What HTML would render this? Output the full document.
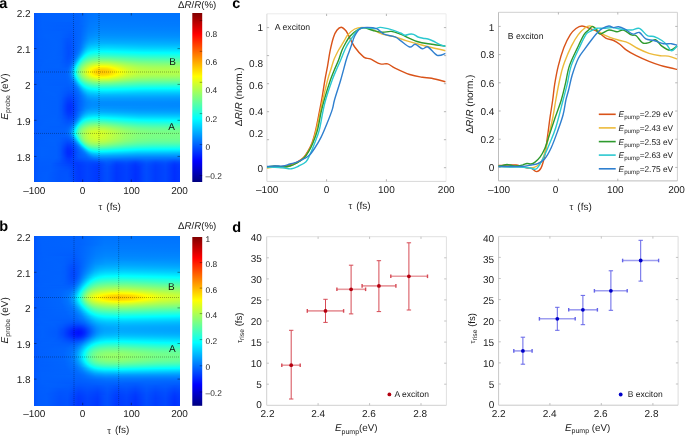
<!DOCTYPE html>
<html><head><meta charset="utf-8"><title>figure</title>
<style>
html,body{margin:0;padding:0;background:#fff;}
body{width:685px;height:436px;overflow:hidden;position:relative;font-family:"Liberation Sans",sans-serif;}
svg{position:absolute;left:0;top:0;display:block;will-change:transform;text-rendering:geometricPrecision;}
</style></head>
<body>
<svg width="685" height="436" viewBox="0 0 685 436">
<defs>
<linearGradient id="ha0"><stop offset=".003" stop-color="#0055ff"/><stop offset=".024" stop-color="#005dff"/><stop offset=".058" stop-color="#0061ff"/><stop offset=".305" stop-color="#0063ff"/><stop offset=".373" stop-color="#0071ff"/><stop offset=".414" stop-color="#0075ff"/><stop offset=".997" stop-color="#0074ff"/></linearGradient>
<linearGradient id="ha1"><stop offset=".003" stop-color="#0055ff"/><stop offset=".024" stop-color="#005dff"/><stop offset=".058" stop-color="#0061ff"/><stop offset=".305" stop-color="#0063ff"/><stop offset=".373" stop-color="#0072ff"/><stop offset=".414" stop-color="#0076ff"/><stop offset=".997" stop-color="#0074ff"/></linearGradient>
<linearGradient id="ha2"><stop offset=".003" stop-color="#0055ff"/><stop offset=".024" stop-color="#005dff"/><stop offset=".058" stop-color="#0061ff"/><stop offset=".305" stop-color="#0063ff"/><stop offset=".373" stop-color="#0072ff"/><stop offset=".414" stop-color="#0076ff"/><stop offset=".997" stop-color="#0075ff"/></linearGradient>
<linearGradient id="ha3"><stop offset=".003" stop-color="#0055ff"/><stop offset=".024" stop-color="#005dff"/><stop offset=".058" stop-color="#0061ff"/><stop offset=".305" stop-color="#0063ff"/><stop offset=".373" stop-color="#0073ff"/><stop offset=".414" stop-color="#0077ff"/><stop offset=".997" stop-color="#0075ff"/></linearGradient>
<linearGradient id="ha4"><stop offset=".003" stop-color="#0055ff"/><stop offset=".024" stop-color="#005dff"/><stop offset=".058" stop-color="#0061ff"/><stop offset=".305" stop-color="#0063ff"/><stop offset=".373" stop-color="#0073ff"/><stop offset=".414" stop-color="#0077ff"/><stop offset=".997" stop-color="#0076ff"/></linearGradient>
<linearGradient id="ha5"><stop offset=".003" stop-color="#0055ff"/><stop offset=".024" stop-color="#005dff"/><stop offset=".058" stop-color="#0061ff"/><stop offset=".305" stop-color="#0063ff"/><stop offset=".373" stop-color="#0074ff"/><stop offset=".414" stop-color="#0078ff"/><stop offset=".997" stop-color="#0077ff"/></linearGradient>
<linearGradient id="ha6"><stop offset=".003" stop-color="#0055ff"/><stop offset=".024" stop-color="#005dff"/><stop offset=".058" stop-color="#0061ff"/><stop offset=".305" stop-color="#0063ff"/><stop offset=".380" stop-color="#0076ff"/><stop offset=".421" stop-color="#0079ff"/><stop offset=".997" stop-color="#0077ff"/></linearGradient>
<linearGradient id="ha7"><stop offset=".003" stop-color="#0055ff"/><stop offset=".024" stop-color="#005dff"/><stop offset=".058" stop-color="#0061ff"/><stop offset=".305" stop-color="#0063ff"/><stop offset=".380" stop-color="#0077ff"/><stop offset=".421" stop-color="#007aff"/><stop offset=".997" stop-color="#0078ff"/></linearGradient>
<linearGradient id="ha8"><stop offset=".003" stop-color="#0055ff"/><stop offset=".024" stop-color="#005dff"/><stop offset=".058" stop-color="#0061ff"/><stop offset=".305" stop-color="#0063ff"/><stop offset=".380" stop-color="#0077ff"/><stop offset=".421" stop-color="#007bff"/><stop offset=".997" stop-color="#0079ff"/></linearGradient>
<linearGradient id="ha9"><stop offset=".003" stop-color="#0055ff"/><stop offset=".024" stop-color="#005dff"/><stop offset=".058" stop-color="#0061ff"/><stop offset=".243" stop-color="#005fff"/><stop offset=".305" stop-color="#0063ff"/><stop offset=".380" stop-color="#0078ff"/><stop offset=".421" stop-color="#007cff"/><stop offset=".997" stop-color="#007aff"/></linearGradient>
<linearGradient id="ha10"><stop offset=".003" stop-color="#0055ff"/><stop offset=".024" stop-color="#005dff"/><stop offset=".058" stop-color="#0061ff"/><stop offset=".243" stop-color="#005fff"/><stop offset=".305" stop-color="#0063ff"/><stop offset=".380" stop-color="#0079ff"/><stop offset=".421" stop-color="#007dff"/><stop offset=".997" stop-color="#007aff"/></linearGradient>
<linearGradient id="ha11"><stop offset=".003" stop-color="#0055ff"/><stop offset=".024" stop-color="#005dff"/><stop offset=".058" stop-color="#0061ff"/><stop offset=".243" stop-color="#005fff"/><stop offset=".305" stop-color="#0063ff"/><stop offset=".380" stop-color="#007aff"/><stop offset=".421" stop-color="#007eff"/><stop offset=".997" stop-color="#007bff"/></linearGradient>
<linearGradient id="ha12"><stop offset=".003" stop-color="#0055ff"/><stop offset=".024" stop-color="#005dff"/><stop offset=".058" stop-color="#0061ff"/><stop offset=".243" stop-color="#005eff"/><stop offset=".298" stop-color="#0063ff"/><stop offset=".325" stop-color="#0067ff"/><stop offset=".380" stop-color="#007bff"/><stop offset=".421" stop-color="#007fff"/><stop offset=".997" stop-color="#007cff"/></linearGradient>
<linearGradient id="ha13"><stop offset=".003" stop-color="#0055ff"/><stop offset=".024" stop-color="#005dff"/><stop offset=".058" stop-color="#0061ff"/><stop offset=".243" stop-color="#005eff"/><stop offset=".298" stop-color="#0063ff"/><stop offset=".325" stop-color="#0067ff"/><stop offset=".380" stop-color="#007cff"/><stop offset=".421" stop-color="#0080ff"/><stop offset=".997" stop-color="#007dff"/></linearGradient>
<linearGradient id="ha14"><stop offset=".003" stop-color="#0055ff"/><stop offset=".024" stop-color="#005dff"/><stop offset=".058" stop-color="#0061ff"/><stop offset=".264" stop-color="#005fff"/><stop offset=".318" stop-color="#0066ff"/><stop offset=".373" stop-color="#007bff"/><stop offset=".421" stop-color="#0081ff"/><stop offset=".997" stop-color="#007fff"/></linearGradient>
<linearGradient id="ha15"><stop offset=".003" stop-color="#0055ff"/><stop offset=".024" stop-color="#005dff"/><stop offset=".065" stop-color="#0061ff"/><stop offset=".257" stop-color="#005eff"/><stop offset=".318" stop-color="#0066ff"/><stop offset=".373" stop-color="#007cff"/><stop offset=".421" stop-color="#0083ff"/><stop offset=".997" stop-color="#0080ff"/></linearGradient>
<linearGradient id="ha16"><stop offset=".003" stop-color="#0055ff"/><stop offset=".024" stop-color="#005dff"/><stop offset=".065" stop-color="#0061ff"/><stop offset=".257" stop-color="#005dff"/><stop offset=".318" stop-color="#0066ff"/><stop offset=".373" stop-color="#007dff"/><stop offset=".421" stop-color="#0084ff"/><stop offset=".997" stop-color="#0081ff"/></linearGradient>
<linearGradient id="ha17"><stop offset=".003" stop-color="#0055ff"/><stop offset=".024" stop-color="#005dff"/><stop offset=".065" stop-color="#0061ff"/><stop offset=".257" stop-color="#005dff"/><stop offset=".318" stop-color="#0066ff"/><stop offset=".373" stop-color="#007fff"/><stop offset=".421" stop-color="#0086ff"/><stop offset=".997" stop-color="#0083ff"/></linearGradient>
<linearGradient id="ha18"><stop offset=".003" stop-color="#0055ff"/><stop offset=".031" stop-color="#005fff"/><stop offset=".072" stop-color="#0061ff"/><stop offset=".175" stop-color="#0061ff"/><stop offset=".250" stop-color="#005bff"/><stop offset=".318" stop-color="#0066ff"/><stop offset=".373" stop-color="#0080ff"/><stop offset=".421" stop-color="#0088ff"/><stop offset=".997" stop-color="#0085ff"/></linearGradient>
<linearGradient id="ha19"><stop offset=".003" stop-color="#0055ff"/><stop offset=".031" stop-color="#005fff"/><stop offset=".072" stop-color="#0061ff"/><stop offset=".175" stop-color="#0061ff"/><stop offset=".250" stop-color="#005bff"/><stop offset=".318" stop-color="#0067ff"/><stop offset=".373" stop-color="#0082ff"/><stop offset=".421" stop-color="#008aff"/><stop offset=".997" stop-color="#0087ff"/></linearGradient>
<linearGradient id="ha20"><stop offset=".003" stop-color="#0055ff"/><stop offset=".031" stop-color="#005fff"/><stop offset=".072" stop-color="#0061ff"/><stop offset=".175" stop-color="#0061ff"/><stop offset=".250" stop-color="#005aff"/><stop offset=".318" stop-color="#0067ff"/><stop offset=".373" stop-color="#0084ff"/><stop offset=".421" stop-color="#008cff"/><stop offset=".997" stop-color="#0089ff"/></linearGradient>
<linearGradient id="ha21"><stop offset=".003" stop-color="#0055ff"/><stop offset=".031" stop-color="#005fff"/><stop offset=".079" stop-color="#0062ff"/><stop offset=".175" stop-color="#0061ff"/><stop offset=".250" stop-color="#0059ff"/><stop offset=".318" stop-color="#0067ff"/><stop offset=".373" stop-color="#0086ff"/><stop offset=".421" stop-color="#008fff"/><stop offset=".997" stop-color="#008bff"/></linearGradient>
<linearGradient id="ha22"><stop offset=".003" stop-color="#0055ff"/><stop offset=".031" stop-color="#005fff"/><stop offset=".079" stop-color="#0062ff"/><stop offset=".175" stop-color="#0061ff"/><stop offset=".250" stop-color="#0058ff"/><stop offset=".318" stop-color="#0068ff"/><stop offset=".373" stop-color="#0088ff"/><stop offset=".421" stop-color="#0091ff"/><stop offset=".997" stop-color="#008dff"/></linearGradient>
<linearGradient id="ha23"><stop offset=".003" stop-color="#0055ff"/><stop offset=".031" stop-color="#005fff"/><stop offset=".086" stop-color="#0062ff"/><stop offset=".175" stop-color="#0061ff"/><stop offset=".250" stop-color="#0058ff"/><stop offset=".318" stop-color="#0068ff"/><stop offset=".373" stop-color="#008bff"/><stop offset=".421" stop-color="#0095ff"/><stop offset=".997" stop-color="#0090ff"/></linearGradient>
<linearGradient id="ha24"><stop offset=".003" stop-color="#0055ff"/><stop offset=".031" stop-color="#005fff"/><stop offset=".092" stop-color="#0062ff"/><stop offset=".175" stop-color="#0061ff"/><stop offset=".250" stop-color="#0057ff"/><stop offset=".318" stop-color="#0069ff"/><stop offset=".373" stop-color="#008eff"/><stop offset=".421" stop-color="#0098ff"/><stop offset=".997" stop-color="#0093ff"/></linearGradient>
<linearGradient id="ha25"><stop offset=".003" stop-color="#0055ff"/><stop offset=".038" stop-color="#005fff"/><stop offset=".106" stop-color="#0062ff"/><stop offset=".175" stop-color="#0061ff"/><stop offset=".229" stop-color="#0056ff"/><stop offset=".250" stop-color="#0056ff"/><stop offset=".318" stop-color="#0069ff"/><stop offset=".380" stop-color="#0094ff"/><stop offset=".421" stop-color="#009cff"/><stop offset=".997" stop-color="#0097ff"/></linearGradient>
<linearGradient id="ha26"><stop offset=".003" stop-color="#0055ff"/><stop offset=".038" stop-color="#005fff"/><stop offset=".127" stop-color="#0062ff"/><stop offset=".182" stop-color="#0060ff"/><stop offset=".229" stop-color="#0055ff"/><stop offset=".250" stop-color="#0055ff"/><stop offset=".318" stop-color="#006aff"/><stop offset=".380" stop-color="#0098ff"/><stop offset=".421" stop-color="#00a0ff"/><stop offset=".997" stop-color="#009bff"/></linearGradient>
<linearGradient id="ha27"><stop offset=".003" stop-color="#0055ff"/><stop offset=".045" stop-color="#0060ff"/><stop offset=".140" stop-color="#0062ff"/><stop offset=".182" stop-color="#0060ff"/><stop offset=".229" stop-color="#0055ff"/><stop offset=".250" stop-color="#0055ff"/><stop offset=".318" stop-color="#006bff"/><stop offset=".380" stop-color="#009cff"/><stop offset=".421" stop-color="#00a5ff"/><stop offset=".997" stop-color="#009fff"/></linearGradient>
<linearGradient id="ha28"><stop offset=".003" stop-color="#0055ff"/><stop offset=".045" stop-color="#0060ff"/><stop offset=".147" stop-color="#0062ff"/><stop offset=".182" stop-color="#0060ff"/><stop offset=".229" stop-color="#0054ff"/><stop offset=".250" stop-color="#0054ff"/><stop offset=".318" stop-color="#006cff"/><stop offset=".360" stop-color="#0092ff"/><stop offset=".380" stop-color="#00a0ff"/><stop offset=".421" stop-color="#00aaff"/><stop offset=".997" stop-color="#00a4ff"/></linearGradient>
<linearGradient id="ha29"><stop offset=".003" stop-color="#0055ff"/><stop offset=".045" stop-color="#0060ff"/><stop offset=".147" stop-color="#0062ff"/><stop offset=".182" stop-color="#0060ff"/><stop offset=".229" stop-color="#0053ff"/><stop offset=".250" stop-color="#0053ff"/><stop offset=".318" stop-color="#006dff"/><stop offset=".360" stop-color="#0096ff"/><stop offset=".380" stop-color="#00a5ff"/><stop offset=".421" stop-color="#00afff"/><stop offset=".997" stop-color="#00a9ff"/></linearGradient>
<linearGradient id="ha30"><stop offset=".003" stop-color="#0055ff"/><stop offset=".045" stop-color="#0060ff"/><stop offset=".154" stop-color="#0062ff"/><stop offset=".188" stop-color="#005fff"/><stop offset=".229" stop-color="#0052ff"/><stop offset=".250" stop-color="#0053ff"/><stop offset=".318" stop-color="#006eff"/><stop offset=".360" stop-color="#009bff"/><stop offset=".380" stop-color="#00abff"/><stop offset=".421" stop-color="#00b5ff"/><stop offset=".997" stop-color="#00aeff"/></linearGradient>
<linearGradient id="ha31"><stop offset=".003" stop-color="#0055ff"/><stop offset=".045" stop-color="#0060ff"/><stop offset=".154" stop-color="#0062ff"/><stop offset=".188" stop-color="#005fff"/><stop offset=".229" stop-color="#0052ff"/><stop offset=".250" stop-color="#0052ff"/><stop offset=".318" stop-color="#0070ff"/><stop offset=".360" stop-color="#00a1ff"/><stop offset=".380" stop-color="#00b1ff"/><stop offset=".421" stop-color="#00bcff"/><stop offset=".497" stop-color="#00beff"/><stop offset=".750" stop-color="#00b6ff"/><stop offset=".997" stop-color="#00b4ff"/></linearGradient>
<linearGradient id="ha32"><stop offset=".003" stop-color="#0055ff"/><stop offset=".045" stop-color="#0060ff"/><stop offset=".154" stop-color="#0062ff"/><stop offset=".188" stop-color="#005fff"/><stop offset=".229" stop-color="#0051ff"/><stop offset=".250" stop-color="#0051ff"/><stop offset=".298" stop-color="#0065ff"/><stop offset=".318" stop-color="#0072ff"/><stop offset=".360" stop-color="#00a7ff"/><stop offset=".373" stop-color="#00b4ff"/><stop offset=".394" stop-color="#00beff"/><stop offset=".421" stop-color="#00c3ff"/><stop offset=".497" stop-color="#00c6ff"/><stop offset=".750" stop-color="#00bdff"/><stop offset=".997" stop-color="#00bbff"/></linearGradient>
<linearGradient id="ha33"><stop offset=".003" stop-color="#0055ff"/><stop offset=".045" stop-color="#0060ff"/><stop offset=".154" stop-color="#0062ff"/><stop offset=".188" stop-color="#005fff"/><stop offset=".229" stop-color="#0051ff"/><stop offset=".250" stop-color="#0051ff"/><stop offset=".312" stop-color="#006eff"/><stop offset=".325" stop-color="#007cff"/><stop offset=".360" stop-color="#00adff"/><stop offset=".373" stop-color="#00bbff"/><stop offset=".394" stop-color="#00c6ff"/><stop offset=".421" stop-color="#00cbff"/><stop offset=".497" stop-color="#00ceff"/><stop offset=".750" stop-color="#00c4ff"/><stop offset=".997" stop-color="#00c2ff"/></linearGradient>
<linearGradient id="ha34"><stop offset=".003" stop-color="#0055ff"/><stop offset=".045" stop-color="#0060ff"/><stop offset=".154" stop-color="#0062ff"/><stop offset=".188" stop-color="#005fff"/><stop offset=".229" stop-color="#0050ff"/><stop offset=".250" stop-color="#0050ff"/><stop offset=".312" stop-color="#0070ff"/><stop offset=".325" stop-color="#007fff"/><stop offset=".360" stop-color="#00b5ff"/><stop offset=".373" stop-color="#00c3ff"/><stop offset=".394" stop-color="#00ceff"/><stop offset=".421" stop-color="#00d4ff"/><stop offset=".497" stop-color="#00d6ff"/><stop offset=".750" stop-color="#00ccff"/><stop offset=".997" stop-color="#00caff"/></linearGradient>
<linearGradient id="ha35"><stop offset=".003" stop-color="#0055ff"/><stop offset=".045" stop-color="#0060ff"/><stop offset=".154" stop-color="#0062ff"/><stop offset=".188" stop-color="#005fff"/><stop offset=".229" stop-color="#0050ff"/><stop offset=".250" stop-color="#0050ff"/><stop offset=".291" stop-color="#0064ff"/><stop offset=".312" stop-color="#0072ff"/><stop offset=".325" stop-color="#0084ff"/><stop offset=".353" stop-color="#00b3ff"/><stop offset=".373" stop-color="#00ccff"/><stop offset=".394" stop-color="#00d7ff"/><stop offset=".421" stop-color="#00ddff"/><stop offset=".497" stop-color="#00e0ff"/><stop offset=".750" stop-color="#00d4ff"/><stop offset=".997" stop-color="#00d2ff"/></linearGradient>
<linearGradient id="ha36"><stop offset=".003" stop-color="#0055ff"/><stop offset=".045" stop-color="#0060ff"/><stop offset=".154" stop-color="#0062ff"/><stop offset=".188" stop-color="#005fff"/><stop offset=".229" stop-color="#0050ff"/><stop offset=".250" stop-color="#0050ff"/><stop offset=".291" stop-color="#0065ff"/><stop offset=".312" stop-color="#0076ff"/><stop offset=".325" stop-color="#0089ff"/><stop offset=".353" stop-color="#00bcff"/><stop offset=".373" stop-color="#00d5ff"/><stop offset=".394" stop-color="#00e1ff"/><stop offset=".421" stop-color="#00e7ff"/><stop offset=".497" stop-color="#00eaff"/><stop offset=".750" stop-color="#00deff"/><stop offset=".997" stop-color="#00dbff"/></linearGradient>
<linearGradient id="ha37"><stop offset=".003" stop-color="#0055ff"/><stop offset=".045" stop-color="#0060ff"/><stop offset=".147" stop-color="#0062ff"/><stop offset=".188" stop-color="#005eff"/><stop offset=".236" stop-color="#004eff"/><stop offset=".257" stop-color="#0052ff"/><stop offset=".291" stop-color="#0066ff"/><stop offset=".312" stop-color="#0079ff"/><stop offset=".325" stop-color="#0090ff"/><stop offset=".353" stop-color="#00c6ff"/><stop offset=".366" stop-color="#00d9ff"/><stop offset=".387" stop-color="#00e8ff"/><stop offset=".421" stop-color="#00f2ff"/><stop offset=".497" stop-color="#00f4ff"/><stop offset=".750" stop-color="#00e7ff"/><stop offset=".997" stop-color="#00e5ff"/></linearGradient>
<linearGradient id="ha38"><stop offset=".003" stop-color="#0055ff"/><stop offset=".045" stop-color="#0060ff"/><stop offset=".147" stop-color="#0062ff"/><stop offset=".188" stop-color="#005eff"/><stop offset=".236" stop-color="#004eff"/><stop offset=".257" stop-color="#0052ff"/><stop offset=".284" stop-color="#0062ff"/><stop offset=".305" stop-color="#0075ff"/><stop offset=".318" stop-color="#008aff"/><stop offset=".353" stop-color="#00d1ff"/><stop offset=".366" stop-color="#00e3ff"/><stop offset=".387" stop-color="#00f3ff"/><stop offset=".421" stop-color="#00fdff"/><stop offset=".517" stop-color="#00ffff"/><stop offset=".750" stop-color="#00f1ff"/><stop offset=".997" stop-color="#00efff"/></linearGradient>
<linearGradient id="ha39"><stop offset=".003" stop-color="#0055ff"/><stop offset=".045" stop-color="#0060ff"/><stop offset=".147" stop-color="#0062ff"/><stop offset=".188" stop-color="#005eff"/><stop offset=".236" stop-color="#004eff"/><stop offset=".257" stop-color="#0052ff"/><stop offset=".284" stop-color="#0064ff"/><stop offset=".305" stop-color="#0079ff"/><stop offset=".318" stop-color="#0091ff"/><stop offset=".353" stop-color="#00ddff"/><stop offset=".366" stop-color="#00efff"/><stop offset=".387" stop-color="#00feff"/><stop offset=".421" stop-color="#0afff5"/><stop offset=".476" stop-color="#0dfff2"/><stop offset=".688" stop-color="#00ffff"/><stop offset=".997" stop-color="#00f9ff"/></linearGradient>
<linearGradient id="ha40"><stop offset=".003" stop-color="#0055ff"/><stop offset=".045" stop-color="#0060ff"/><stop offset=".147" stop-color="#0062ff"/><stop offset=".188" stop-color="#005eff"/><stop offset=".236" stop-color="#004eff"/><stop offset=".257" stop-color="#0053ff"/><stop offset=".277" stop-color="#0060ff"/><stop offset=".298" stop-color="#0074ff"/><stop offset=".312" stop-color="#008bff"/><stop offset=".346" stop-color="#00dcff"/><stop offset=".360" stop-color="#00f3ff"/><stop offset=".373" stop-color="#03fffc"/><stop offset=".414" stop-color="#15ffea"/><stop offset=".476" stop-color="#1affe5"/><stop offset=".750" stop-color="#08fff7"/><stop offset=".997" stop-color="#05fffa"/></linearGradient>
<linearGradient id="ha41"><stop offset=".003" stop-color="#0055ff"/><stop offset=".045" stop-color="#0060ff"/><stop offset=".147" stop-color="#0062ff"/><stop offset=".188" stop-color="#005eff"/><stop offset=".236" stop-color="#004eff"/><stop offset=".257" stop-color="#0053ff"/><stop offset=".277" stop-color="#0062ff"/><stop offset=".298" stop-color="#0079ff"/><stop offset=".312" stop-color="#0094ff"/><stop offset=".346" stop-color="#00eaff"/><stop offset=".360" stop-color="#01fffe"/><stop offset=".380" stop-color="#14ffeb"/><stop offset=".401" stop-color="#1effe1"/><stop offset=".462" stop-color="#27ffd8"/><stop offset=".750" stop-color="#14ffeb"/><stop offset=".997" stop-color="#11ffee"/></linearGradient>
<linearGradient id="ha42"><stop offset=".003" stop-color="#0055ff"/><stop offset=".045" stop-color="#0060ff"/><stop offset=".140" stop-color="#0062ff"/><stop offset=".188" stop-color="#005eff"/><stop offset=".236" stop-color="#004fff"/><stop offset=".257" stop-color="#0054ff"/><stop offset=".277" stop-color="#0064ff"/><stop offset=".298" stop-color="#0080ff"/><stop offset=".312" stop-color="#009eff"/><stop offset=".339" stop-color="#00e9ff"/><stop offset=".346" stop-color="#00f8ff"/><stop offset=".353" stop-color="#05fffa"/><stop offset=".373" stop-color="#1dffe2"/><stop offset=".394" stop-color="#29ffd6"/><stop offset=".421" stop-color="#31ffce"/><stop offset=".462" stop-color="#35ffca"/><stop offset=".750" stop-color="#20ffdf"/><stop offset=".997" stop-color="#1dffe2"/></linearGradient>
<linearGradient id="ha43"><stop offset=".003" stop-color="#0055ff"/><stop offset=".045" stop-color="#0060ff"/><stop offset=".154" stop-color="#0062ff"/><stop offset=".188" stop-color="#005fff"/><stop offset=".229" stop-color="#0050ff"/><stop offset=".250" stop-color="#0052ff"/><stop offset=".271" stop-color="#0060ff"/><stop offset=".291" stop-color="#007aff"/><stop offset=".305" stop-color="#0098ff"/><stop offset=".339" stop-color="#00f8ff"/><stop offset=".346" stop-color="#08fff7"/><stop offset=".366" stop-color="#24ffdb"/><stop offset=".387" stop-color="#33ffcc"/><stop offset=".414" stop-color="#3effc1"/><stop offset=".455" stop-color="#43ffbc"/><stop offset=".524" stop-color="#41ffbe"/><stop offset=".743" stop-color="#2dffd2"/><stop offset=".997" stop-color="#29ffd6"/></linearGradient>
<linearGradient id="ha44"><stop offset=".003" stop-color="#0055ff"/><stop offset=".045" stop-color="#0060ff"/><stop offset=".147" stop-color="#0062ff"/><stop offset=".188" stop-color="#005fff"/><stop offset=".229" stop-color="#0051ff"/><stop offset=".250" stop-color="#0053ff"/><stop offset=".271" stop-color="#0062ff"/><stop offset=".291" stop-color="#0081ff"/><stop offset=".305" stop-color="#00a4ff"/><stop offset=".332" stop-color="#00f7ff"/><stop offset=".339" stop-color="#09fff6"/><stop offset=".360" stop-color="#2bffd4"/><stop offset=".380" stop-color="#3effc1"/><stop offset=".414" stop-color="#4dffb2"/><stop offset=".455" stop-color="#53ffac"/><stop offset=".517" stop-color="#51ffae"/><stop offset=".743" stop-color="#39ffc6"/><stop offset=".997" stop-color="#35ffca"/></linearGradient>
<linearGradient id="ha45"><stop offset=".003" stop-color="#0055ff"/><stop offset=".045" stop-color="#0060ff"/><stop offset=".140" stop-color="#0062ff"/><stop offset=".188" stop-color="#005fff"/><stop offset=".229" stop-color="#0051ff"/><stop offset=".250" stop-color="#0054ff"/><stop offset=".271" stop-color="#0066ff"/><stop offset=".284" stop-color="#007bff"/><stop offset=".298" stop-color="#009cff"/><stop offset=".325" stop-color="#00f5ff"/><stop offset=".332" stop-color="#09fff6"/><stop offset=".353" stop-color="#31ffce"/><stop offset=".373" stop-color="#48ffb7"/><stop offset=".408" stop-color="#5affa5"/><stop offset=".449" stop-color="#62ff9d"/><stop offset=".517" stop-color="#61ff9e"/><stop offset=".743" stop-color="#46ffb9"/><stop offset=".997" stop-color="#41ffbe"/></linearGradient>
<linearGradient id="ha46"><stop offset=".003" stop-color="#0055ff"/><stop offset=".038" stop-color="#005fff"/><stop offset=".113" stop-color="#0062ff"/><stop offset=".182" stop-color="#0060ff"/><stop offset=".229" stop-color="#0052ff"/><stop offset=".250" stop-color="#0056ff"/><stop offset=".271" stop-color="#006aff"/><stop offset=".284" stop-color="#0083ff"/><stop offset=".298" stop-color="#00aaff"/><stop offset=".318" stop-color="#00f1ff"/><stop offset=".325" stop-color="#07fff8"/><stop offset=".346" stop-color="#36ffc9"/><stop offset=".373" stop-color="#57ffa8"/><stop offset=".408" stop-color="#6aff95"/><stop offset=".449" stop-color="#74ff8b"/><stop offset=".510" stop-color="#73ff8c"/><stop offset=".654" stop-color="#5bffa4"/><stop offset=".736" stop-color="#53ffac"/><stop offset=".997" stop-color="#4effb1"/></linearGradient>
<linearGradient id="ha47"><stop offset=".003" stop-color="#0055ff"/><stop offset=".031" stop-color="#005fff"/><stop offset=".086" stop-color="#0062ff"/><stop offset=".175" stop-color="#0061ff"/><stop offset=".229" stop-color="#0053ff"/><stop offset=".250" stop-color="#0058ff"/><stop offset=".271" stop-color="#006fff"/><stop offset=".284" stop-color="#008dff"/><stop offset=".298" stop-color="#00b9ff"/><stop offset=".312" stop-color="#00ebff"/><stop offset=".318" stop-color="#04fffb"/><stop offset=".325" stop-color="#19ffe6"/><stop offset=".339" stop-color="#3affc5"/><stop offset=".353" stop-color="#50ffaf"/><stop offset=".366" stop-color="#60ff9f"/><stop offset=".401" stop-color="#78ff87"/><stop offset=".449" stop-color="#86ff79"/><stop offset=".510" stop-color="#84ff7b"/><stop offset=".647" stop-color="#6aff95"/><stop offset=".729" stop-color="#60ff9f"/><stop offset=".997" stop-color="#5affa5"/></linearGradient>
<linearGradient id="ha48"><stop offset=".003" stop-color="#0055ff"/><stop offset=".038" stop-color="#005fff"/><stop offset=".099" stop-color="#0062ff"/><stop offset=".175" stop-color="#0061ff"/><stop offset=".229" stop-color="#0054ff"/><stop offset=".243" stop-color="#0056ff"/><stop offset=".264" stop-color="#006aff"/><stop offset=".277" stop-color="#0085ff"/><stop offset=".291" stop-color="#00b0ff"/><stop offset=".312" stop-color="#00feff"/><stop offset=".332" stop-color="#3cffc3"/><stop offset=".346" stop-color="#56ffa9"/><stop offset=".360" stop-color="#68ff97"/><stop offset=".380" stop-color="#7cff83"/><stop offset=".401" stop-color="#8aff75"/><stop offset=".449" stop-color="#98ff67"/><stop offset=".510" stop-color="#97ff68"/><stop offset=".640" stop-color="#79ff86"/><stop offset=".723" stop-color="#6dff92"/><stop offset=".997" stop-color="#66ff99"/></linearGradient>
<linearGradient id="ha49"><stop offset=".003" stop-color="#0055ff"/><stop offset=".031" stop-color="#005fff"/><stop offset=".079" stop-color="#0062ff"/><stop offset=".168" stop-color="#0061ff"/><stop offset=".223" stop-color="#0056ff"/><stop offset=".243" stop-color="#0058ff"/><stop offset=".257" stop-color="#0065ff"/><stop offset=".271" stop-color="#007dff"/><stop offset=".284" stop-color="#00a6ff"/><stop offset=".305" stop-color="#00f6ff"/><stop offset=".312" stop-color="#11ffee"/><stop offset=".318" stop-color="#28ffd7"/><stop offset=".332" stop-color="#4cffb3"/><stop offset=".346" stop-color="#65ff9a"/><stop offset=".360" stop-color="#78ff87"/><stop offset=".380" stop-color="#8dff72"/><stop offset=".401" stop-color="#9bff64"/><stop offset=".428" stop-color="#a7ff58"/><stop offset=".455" stop-color="#adff52"/><stop offset=".510" stop-color="#aaff55"/><stop offset=".640" stop-color="#87ff78"/><stop offset=".716" stop-color="#7aff85"/><stop offset=".818" stop-color="#74ff8b"/><stop offset=".997" stop-color="#72ff8d"/></linearGradient>
<linearGradient id="ha50"><stop offset=".003" stop-color="#0055ff"/><stop offset=".031" stop-color="#005fff"/><stop offset=".072" stop-color="#0061ff"/><stop offset=".175" stop-color="#0061ff"/><stop offset=".229" stop-color="#0057ff"/><stop offset=".243" stop-color="#005bff"/><stop offset=".257" stop-color="#006aff"/><stop offset=".271" stop-color="#0086ff"/><stop offset=".284" stop-color="#00b4ff"/><stop offset=".298" stop-color="#00edff"/><stop offset=".305" stop-color="#0afff5"/><stop offset=".318" stop-color="#39ffc6"/><stop offset=".332" stop-color="#5cffa3"/><stop offset=".360" stop-color="#88ff77"/><stop offset=".380" stop-color="#9eff61"/><stop offset=".408" stop-color="#b2ff4d"/><stop offset=".455" stop-color="#c1ff3e"/><stop offset=".510" stop-color="#bdff42"/><stop offset=".634" stop-color="#96ff69"/><stop offset=".709" stop-color="#87ff78"/><stop offset=".812" stop-color="#80ff7f"/><stop offset=".997" stop-color="#7eff81"/></linearGradient>
<linearGradient id="ha51"><stop offset=".003" stop-color="#0055ff"/><stop offset=".024" stop-color="#005dff"/><stop offset=".058" stop-color="#0061ff"/><stop offset=".168" stop-color="#0062ff"/><stop offset=".223" stop-color="#0059ff"/><stop offset=".243" stop-color="#005eff"/><stop offset=".257" stop-color="#006fff"/><stop offset=".271" stop-color="#0090ff"/><stop offset=".284" stop-color="#00c3ff"/><stop offset=".298" stop-color="#00feff"/><stop offset=".312" stop-color="#34ffcb"/><stop offset=".325" stop-color="#5cffa3"/><stop offset=".339" stop-color="#78ff87"/><stop offset=".360" stop-color="#97ff68"/><stop offset=".380" stop-color="#aeff51"/><stop offset=".408" stop-color="#c4ff3b"/><stop offset=".455" stop-color="#d6ff29"/><stop offset=".510" stop-color="#d1ff2e"/><stop offset=".634" stop-color="#a3ff5c"/><stop offset=".709" stop-color="#92ff6d"/><stop offset=".812" stop-color="#8aff75"/><stop offset=".997" stop-color="#88ff77"/></linearGradient>
<linearGradient id="ha52"><stop offset=".003" stop-color="#0055ff"/><stop offset=".024" stop-color="#005dff"/><stop offset=".065" stop-color="#0061ff"/><stop offset=".168" stop-color="#0062ff"/><stop offset=".223" stop-color="#005aff"/><stop offset=".236" stop-color="#005dff"/><stop offset=".250" stop-color="#0069ff"/><stop offset=".264" stop-color="#0085ff"/><stop offset=".277" stop-color="#00b4ff"/><stop offset=".291" stop-color="#00f1ff"/><stop offset=".298" stop-color="#10ffef"/><stop offset=".312" stop-color="#44ffbb"/><stop offset=".325" stop-color="#6aff95"/><stop offset=".353" stop-color="#9cff63"/><stop offset=".373" stop-color="#b7ff48"/><stop offset=".401" stop-color="#d2ff2d"/><stop offset=".428" stop-color="#e2ff1d"/><stop offset=".455" stop-color="#eaff15"/><stop offset=".483" stop-color="#eaff15"/><stop offset=".510" stop-color="#e5ff1a"/><stop offset=".634" stop-color="#b0ff4f"/><stop offset=".709" stop-color="#9dff62"/><stop offset=".812" stop-color="#94ff6b"/><stop offset=".997" stop-color="#92ff6d"/></linearGradient>
<linearGradient id="ha53"><stop offset=".003" stop-color="#0055ff"/><stop offset=".024" stop-color="#005dff"/><stop offset=".058" stop-color="#0061ff"/><stop offset=".168" stop-color="#0062ff"/><stop offset=".223" stop-color="#005bff"/><stop offset=".236" stop-color="#005fff"/><stop offset=".250" stop-color="#006eff"/><stop offset=".264" stop-color="#008eff"/><stop offset=".277" stop-color="#00c1ff"/><stop offset=".291" stop-color="#01fffe"/><stop offset=".305" stop-color="#3bffc4"/><stop offset=".318" stop-color="#66ff99"/><stop offset=".332" stop-color="#86ff79"/><stop offset=".353" stop-color="#a9ff56"/><stop offset=".380" stop-color="#ceff31"/><stop offset=".401" stop-color="#e3ff1c"/><stop offset=".428" stop-color="#f5ff0a"/><stop offset=".455" stop-color="#feff01"/><stop offset=".483" stop-color="#feff01"/><stop offset=".510" stop-color="#f7ff08"/><stop offset=".627" stop-color="#beff41"/><stop offset=".702" stop-color="#a8ff57"/><stop offset=".805" stop-color="#9eff61"/><stop offset=".997" stop-color="#9bff64"/></linearGradient>
<linearGradient id="ha54"><stop offset=".003" stop-color="#0055ff"/><stop offset=".024" stop-color="#005dff"/><stop offset=".051" stop-color="#0061ff"/><stop offset=".168" stop-color="#0062ff"/><stop offset=".216" stop-color="#005dff"/><stop offset=".236" stop-color="#0062ff"/><stop offset=".250" stop-color="#0073ff"/><stop offset=".257" stop-color="#0082ff"/><stop offset=".271" stop-color="#00afff"/><stop offset=".284" stop-color="#00edff"/><stop offset=".291" stop-color="#0ffff0"/><stop offset=".305" stop-color="#48ffb7"/><stop offset=".312" stop-color="#5effa1"/><stop offset=".325" stop-color="#82ff7d"/><stop offset=".339" stop-color="#9eff61"/><stop offset=".380" stop-color="#dcff23"/><stop offset=".408" stop-color="#f8ff07"/><stop offset=".421" stop-color="#fffc00"/><stop offset=".442" stop-color="#fff200"/><stop offset=".469" stop-color="#ffed00"/><stop offset=".497" stop-color="#fff100"/><stop offset=".531" stop-color="#ffff00"/><stop offset=".634" stop-color="#c5ff3a"/><stop offset=".716" stop-color="#aeff51"/><stop offset=".812" stop-color="#a5ff5a"/><stop offset=".997" stop-color="#a3ff5c"/></linearGradient>
<linearGradient id="ha55"><stop offset=".003" stop-color="#0055ff"/><stop offset=".024" stop-color="#005dff"/><stop offset=".058" stop-color="#0061ff"/><stop offset=".229" stop-color="#0060ff"/><stop offset=".243" stop-color="#006cff"/><stop offset=".257" stop-color="#0088ff"/><stop offset=".271" stop-color="#00b8ff"/><stop offset=".284" stop-color="#00f9ff"/><stop offset=".291" stop-color="#1affe5"/><stop offset=".305" stop-color="#52ffad"/><stop offset=".312" stop-color="#69ff96"/><stop offset=".325" stop-color="#8cff73"/><stop offset=".360" stop-color="#cbff34"/><stop offset=".380" stop-color="#e8ff17"/><stop offset=".401" stop-color="#fffe00"/><stop offset=".435" stop-color="#ffe600"/><stop offset=".469" stop-color="#ffde00"/><stop offset=".503" stop-color="#ffe400"/><stop offset=".551" stop-color="#fffe00"/><stop offset=".640" stop-color="#cbff34"/><stop offset=".682" stop-color="#bcff43"/><stop offset=".723" stop-color="#b3ff4c"/><stop offset=".818" stop-color="#abff54"/><stop offset=".997" stop-color="#a9ff56"/></linearGradient>
<linearGradient id="ha56"><stop offset=".003" stop-color="#0055ff"/><stop offset=".024" stop-color="#005dff"/><stop offset=".051" stop-color="#0061ff"/><stop offset=".216" stop-color="#005fff"/><stop offset=".229" stop-color="#0062ff"/><stop offset=".243" stop-color="#006fff"/><stop offset=".257" stop-color="#008dff"/><stop offset=".271" stop-color="#00c0ff"/><stop offset=".284" stop-color="#03fffc"/><stop offset=".298" stop-color="#41ffbe"/><stop offset=".305" stop-color="#5bffa4"/><stop offset=".325" stop-color="#93ff6c"/><stop offset=".346" stop-color="#bcff43"/><stop offset=".366" stop-color="#deff21"/><stop offset=".387" stop-color="#fbff04"/><stop offset=".394" stop-color="#fffb00"/><stop offset=".428" stop-color="#ffdd00"/><stop offset=".449" stop-color="#ffd400"/><stop offset=".469" stop-color="#ffd100"/><stop offset=".510" stop-color="#ffdb00"/><stop offset=".565" stop-color="#fffe00"/><stop offset=".572" stop-color="#fcff03"/><stop offset=".647" stop-color="#ceff31"/><stop offset=".716" stop-color="#baff45"/><stop offset=".812" stop-color="#b1ff4e"/><stop offset=".997" stop-color="#aeff51"/></linearGradient>
<linearGradient id="ha57"><stop offset=".003" stop-color="#0055ff"/><stop offset=".024" stop-color="#005dff"/><stop offset=".051" stop-color="#0061ff"/><stop offset=".209" stop-color="#0060ff"/><stop offset=".229" stop-color="#0064ff"/><stop offset=".243" stop-color="#0071ff"/><stop offset=".257" stop-color="#0091ff"/><stop offset=".264" stop-color="#00a8ff"/><stop offset=".277" stop-color="#00e6ff"/><stop offset=".284" stop-color="#09fff6"/><stop offset=".298" stop-color="#47ffb8"/><stop offset=".305" stop-color="#60ff9f"/><stop offset=".325" stop-color="#99ff66"/><stop offset=".360" stop-color="#d9ff26"/><stop offset=".380" stop-color="#f9ff06"/><stop offset=".387" stop-color="#fffc00"/><stop offset=".408" stop-color="#ffe500"/><stop offset=".428" stop-color="#ffd500"/><stop offset=".449" stop-color="#ffcb00"/><stop offset=".469" stop-color="#ffc800"/><stop offset=".510" stop-color="#ffd300"/><stop offset=".579" stop-color="#fdff02"/><stop offset=".647" stop-color="#d3ff2c"/><stop offset=".716" stop-color="#beff41"/><stop offset=".812" stop-color="#b4ff4b"/><stop offset=".997" stop-color="#b2ff4d"/></linearGradient>
<linearGradient id="ha58"><stop offset=".003" stop-color="#0055ff"/><stop offset=".024" stop-color="#005dff"/><stop offset=".051" stop-color="#0061ff"/><stop offset=".209" stop-color="#0060ff"/><stop offset=".229" stop-color="#0065ff"/><stop offset=".243" stop-color="#0073ff"/><stop offset=".257" stop-color="#0093ff"/><stop offset=".264" stop-color="#00abff"/><stop offset=".277" stop-color="#00e9ff"/><stop offset=".284" stop-color="#0cfff3"/><stop offset=".298" stop-color="#4affb5"/><stop offset=".305" stop-color="#63ff9c"/><stop offset=".325" stop-color="#9bff64"/><stop offset=".366" stop-color="#e7ff18"/><stop offset=".380" stop-color="#fcff03"/><stop offset=".387" stop-color="#fff900"/><stop offset=".408" stop-color="#ffe100"/><stop offset=".428" stop-color="#ffd100"/><stop offset=".449" stop-color="#ffc700"/><stop offset=".469" stop-color="#ffc400"/><stop offset=".510" stop-color="#ffcf00"/><stop offset=".579" stop-color="#fffe00"/><stop offset=".586" stop-color="#fbff04"/><stop offset=".654" stop-color="#d2ff2d"/><stop offset=".723" stop-color="#beff41"/><stop offset=".818" stop-color="#b6ff49"/><stop offset=".997" stop-color="#b3ff4c"/></linearGradient>
<linearGradient id="ha59"><stop offset=".003" stop-color="#0055ff"/><stop offset=".024" stop-color="#005dff"/><stop offset=".051" stop-color="#0061ff"/><stop offset=".209" stop-color="#0060ff"/><stop offset=".229" stop-color="#0065ff"/><stop offset=".243" stop-color="#0074ff"/><stop offset=".257" stop-color="#0094ff"/><stop offset=".264" stop-color="#00acff"/><stop offset=".277" stop-color="#00e9ff"/><stop offset=".284" stop-color="#0cfff3"/><stop offset=".298" stop-color="#4affb5"/><stop offset=".305" stop-color="#63ff9c"/><stop offset=".325" stop-color="#9bff64"/><stop offset=".366" stop-color="#e7ff18"/><stop offset=".380" stop-color="#fcff03"/><stop offset=".387" stop-color="#fff900"/><stop offset=".408" stop-color="#ffe100"/><stop offset=".428" stop-color="#ffd100"/><stop offset=".449" stop-color="#ffc700"/><stop offset=".469" stop-color="#ffc400"/><stop offset=".510" stop-color="#ffcf00"/><stop offset=".579" stop-color="#fffe00"/><stop offset=".586" stop-color="#fbff04"/><stop offset=".654" stop-color="#d2ff2d"/><stop offset=".723" stop-color="#beff41"/><stop offset=".818" stop-color="#b6ff49"/><stop offset=".997" stop-color="#b3ff4c"/></linearGradient>
<linearGradient id="ha60"><stop offset=".003" stop-color="#0055ff"/><stop offset=".045" stop-color="#0060ff"/><stop offset=".209" stop-color="#0061ff"/><stop offset=".229" stop-color="#0066ff"/><stop offset=".243" stop-color="#0074ff"/><stop offset=".257" stop-color="#0092ff"/><stop offset=".264" stop-color="#00aaff"/><stop offset=".277" stop-color="#00e7ff"/><stop offset=".284" stop-color="#09fff6"/><stop offset=".298" stop-color="#47ffb8"/><stop offset=".305" stop-color="#60ff9f"/><stop offset=".325" stop-color="#98ff67"/><stop offset=".360" stop-color="#d9ff26"/><stop offset=".387" stop-color="#fffd00"/><stop offset=".408" stop-color="#ffe600"/><stop offset=".428" stop-color="#ffd500"/><stop offset=".449" stop-color="#ffcc00"/><stop offset=".469" stop-color="#ffc900"/><stop offset=".510" stop-color="#ffd300"/><stop offset=".579" stop-color="#fdff02"/><stop offset=".647" stop-color="#d2ff2d"/><stop offset=".716" stop-color="#bdff42"/><stop offset=".812" stop-color="#b4ff4b"/><stop offset=".997" stop-color="#b1ff4e"/></linearGradient>
<linearGradient id="ha61"><stop offset=".003" stop-color="#0055ff"/><stop offset=".045" stop-color="#0060ff"/><stop offset=".209" stop-color="#0061ff"/><stop offset=".229" stop-color="#0065ff"/><stop offset=".243" stop-color="#0073ff"/><stop offset=".257" stop-color="#0090ff"/><stop offset=".271" stop-color="#00c2ff"/><stop offset=".284" stop-color="#03fffc"/><stop offset=".298" stop-color="#41ffbe"/><stop offset=".305" stop-color="#5affa5"/><stop offset=".325" stop-color="#93ff6c"/><stop offset=".360" stop-color="#d2ff2d"/><stop offset=".380" stop-color="#f1ff0e"/><stop offset=".394" stop-color="#fffc00"/><stop offset=".428" stop-color="#ffde00"/><stop offset=".449" stop-color="#ffd500"/><stop offset=".469" stop-color="#ffd200"/><stop offset=".510" stop-color="#ffdc00"/><stop offset=".565" stop-color="#ffff00"/><stop offset=".640" stop-color="#d0ff2f"/><stop offset=".716" stop-color="#b9ff46"/><stop offset=".812" stop-color="#b0ff4f"/><stop offset=".997" stop-color="#adff52"/></linearGradient>
<linearGradient id="ha62"><stop offset=".003" stop-color="#0055ff"/><stop offset=".024" stop-color="#005dff"/><stop offset=".051" stop-color="#0061ff"/><stop offset=".209" stop-color="#0061ff"/><stop offset=".229" stop-color="#0065ff"/><stop offset=".243" stop-color="#0071ff"/><stop offset=".257" stop-color="#008cff"/><stop offset=".271" stop-color="#00bbff"/><stop offset=".284" stop-color="#00f9ff"/><stop offset=".291" stop-color="#1affe5"/><stop offset=".305" stop-color="#51ffae"/><stop offset=".312" stop-color="#67ff98"/><stop offset=".332" stop-color="#99ff66"/><stop offset=".373" stop-color="#ddff22"/><stop offset=".401" stop-color="#feff01"/><stop offset=".408" stop-color="#fffa00"/><stop offset=".435" stop-color="#ffe800"/><stop offset=".469" stop-color="#ffe000"/><stop offset=".503" stop-color="#ffe700"/><stop offset=".551" stop-color="#feff01"/><stop offset=".640" stop-color="#c9ff36"/><stop offset=".682" stop-color="#baff45"/><stop offset=".729" stop-color="#b0ff4f"/><stop offset=".825" stop-color="#a9ff56"/><stop offset=".997" stop-color="#a7ff58"/></linearGradient>
<linearGradient id="ha63"><stop offset=".003" stop-color="#0055ff"/><stop offset=".024" stop-color="#005dff"/><stop offset=".051" stop-color="#0061ff"/><stop offset=".209" stop-color="#0061ff"/><stop offset=".229" stop-color="#0064ff"/><stop offset=".243" stop-color="#006fff"/><stop offset=".257" stop-color="#0087ff"/><stop offset=".271" stop-color="#00b2ff"/><stop offset=".284" stop-color="#00eeff"/><stop offset=".291" stop-color="#0efff1"/><stop offset=".305" stop-color="#46ffb9"/><stop offset=".312" stop-color="#5cffa3"/><stop offset=".325" stop-color="#80ff7f"/><stop offset=".339" stop-color="#9bff64"/><stop offset=".380" stop-color="#d9ff26"/><stop offset=".401" stop-color="#efff10"/><stop offset=".421" stop-color="#feff01"/><stop offset=".449" stop-color="#fff400"/><stop offset=".469" stop-color="#fff100"/><stop offset=".497" stop-color="#fff500"/><stop offset=".524" stop-color="#feff01"/><stop offset=".634" stop-color="#c2ff3d"/><stop offset=".716" stop-color="#aaff55"/><stop offset=".812" stop-color="#a2ff5d"/><stop offset=".997" stop-color="#a0ff5f"/></linearGradient>
<linearGradient id="ha64"><stop offset=".003" stop-color="#0055ff"/><stop offset=".045" stop-color="#0060ff"/><stop offset=".216" stop-color="#0061ff"/><stop offset=".236" stop-color="#0067ff"/><stop offset=".250" stop-color="#0075ff"/><stop offset=".264" stop-color="#0092ff"/><stop offset=".277" stop-color="#00c3ff"/><stop offset=".291" stop-color="#00ffff"/><stop offset=".305" stop-color="#38ffc7"/><stop offset=".318" stop-color="#62ff9d"/><stop offset=".332" stop-color="#81ff7e"/><stop offset=".353" stop-color="#a5ff5a"/><stop offset=".380" stop-color="#c9ff36"/><stop offset=".401" stop-color="#ddff22"/><stop offset=".428" stop-color="#f0ff0f"/><stop offset=".455" stop-color="#f8ff07"/><stop offset=".483" stop-color="#f8ff07"/><stop offset=".510" stop-color="#f2ff0d"/><stop offset=".627" stop-color="#b9ff46"/><stop offset=".702" stop-color="#a3ff5c"/><stop offset=".805" stop-color="#99ff66"/><stop offset=".997" stop-color="#96ff69"/></linearGradient>
<linearGradient id="ha65"><stop offset=".003" stop-color="#0055ff"/><stop offset=".024" stop-color="#005dff"/><stop offset=".051" stop-color="#0061ff"/><stop offset=".216" stop-color="#0061ff"/><stop offset=".236" stop-color="#0065ff"/><stop offset=".250" stop-color="#0071ff"/><stop offset=".264" stop-color="#008aff"/><stop offset=".277" stop-color="#00b6ff"/><stop offset=".291" stop-color="#00efff"/><stop offset=".298" stop-color="#0dfff2"/><stop offset=".312" stop-color="#40ffbf"/><stop offset=".325" stop-color="#65ff9a"/><stop offset=".339" stop-color="#80ff7f"/><stop offset=".360" stop-color="#9fff60"/><stop offset=".380" stop-color="#b8ff47"/><stop offset=".408" stop-color="#d0ff2f"/><stop offset=".428" stop-color="#dbff24"/><stop offset=".455" stop-color="#e3ff1c"/><stop offset=".483" stop-color="#e3ff1c"/><stop offset=".510" stop-color="#ddff22"/><stop offset=".627" stop-color="#abff54"/><stop offset=".702" stop-color="#97ff68"/><stop offset=".805" stop-color="#8eff71"/><stop offset=".997" stop-color="#8cff73"/></linearGradient>
<linearGradient id="ha66"><stop offset=".003" stop-color="#0055ff"/><stop offset=".045" stop-color="#0060ff"/><stop offset=".216" stop-color="#0060ff"/><stop offset=".243" stop-color="#0068ff"/><stop offset=".257" stop-color="#0077ff"/><stop offset=".271" stop-color="#0094ff"/><stop offset=".284" stop-color="#00c2ff"/><stop offset=".298" stop-color="#00fbff"/><stop offset=".312" stop-color="#2fffd0"/><stop offset=".325" stop-color="#55ffaa"/><stop offset=".339" stop-color="#70ff8f"/><stop offset=".360" stop-color="#8fff70"/><stop offset=".380" stop-color="#a6ff59"/><stop offset=".408" stop-color="#bbff44"/><stop offset=".455" stop-color="#ccff33"/><stop offset=".510" stop-color="#c7ff38"/><stop offset=".634" stop-color="#9aff65"/><stop offset=".709" stop-color="#8aff75"/><stop offset=".812" stop-color="#82ff7d"/><stop offset=".997" stop-color="#80ff7f"/></linearGradient>
<linearGradient id="ha67"><stop offset=".003" stop-color="#0055ff"/><stop offset=".024" stop-color="#005dff"/><stop offset=".051" stop-color="#0061ff"/><stop offset=".223" stop-color="#0060ff"/><stop offset=".243" stop-color="#0066ff"/><stop offset=".257" stop-color="#0072ff"/><stop offset=".271" stop-color="#008aff"/><stop offset=".284" stop-color="#00b3ff"/><stop offset=".298" stop-color="#00e8ff"/><stop offset=".305" stop-color="#04fffb"/><stop offset=".318" stop-color="#31ffce"/><stop offset=".332" stop-color="#53ffac"/><stop offset=".346" stop-color="#6bff94"/><stop offset=".366" stop-color="#85ff7a"/><stop offset=".408" stop-color="#a6ff59"/><stop offset=".455" stop-color="#b5ff4a"/><stop offset=".510" stop-color="#b1ff4e"/><stop offset=".634" stop-color="#8bff74"/><stop offset=".709" stop-color="#7cff83"/><stop offset=".812" stop-color="#75ff8a"/><stop offset=".997" stop-color="#73ff8c"/></linearGradient>
<linearGradient id="ha68"><stop offset=".003" stop-color="#0055ff"/><stop offset=".024" stop-color="#005dff"/><stop offset=".051" stop-color="#0061ff"/><stop offset=".223" stop-color="#0060ff"/><stop offset=".243" stop-color="#0064ff"/><stop offset=".257" stop-color="#006dff"/><stop offset=".271" stop-color="#0082ff"/><stop offset=".284" stop-color="#00a5ff"/><stop offset=".305" stop-color="#00f0ff"/><stop offset=".312" stop-color="#09fff6"/><stop offset=".318" stop-color="#1fffe0"/><stop offset=".332" stop-color="#41ffbe"/><stop offset=".346" stop-color="#59ffa6"/><stop offset=".366" stop-color="#73ff8c"/><stop offset=".408" stop-color="#91ff6e"/><stop offset=".449" stop-color="#9dff62"/><stop offset=".510" stop-color="#9bff64"/><stop offset=".640" stop-color="#79ff86"/><stop offset=".716" stop-color="#6dff92"/><stop offset=".818" stop-color="#67ff98"/><stop offset=".997" stop-color="#65ff9a"/></linearGradient>
<linearGradient id="ha69"><stop offset=".003" stop-color="#0055ff"/><stop offset=".024" stop-color="#005dff"/><stop offset=".051" stop-color="#0061ff"/><stop offset=".223" stop-color="#005fff"/><stop offset=".250" stop-color="#0065ff"/><stop offset=".264" stop-color="#0071ff"/><stop offset=".277" stop-color="#0087ff"/><stop offset=".291" stop-color="#00acff"/><stop offset=".312" stop-color="#00f5ff"/><stop offset=".318" stop-color="#0cfff3"/><stop offset=".339" stop-color="#3cffc3"/><stop offset=".366" stop-color="#60ff9f"/><stop offset=".401" stop-color="#79ff86"/><stop offset=".449" stop-color="#87ff78"/><stop offset=".510" stop-color="#85ff7a"/><stop offset=".640" stop-color="#69ff96"/><stop offset=".723" stop-color="#5dffa2"/><stop offset=".997" stop-color="#57ffa8"/></linearGradient>
<linearGradient id="ha70"><stop offset=".003" stop-color="#0055ff"/><stop offset=".024" stop-color="#005dff"/><stop offset=".051" stop-color="#0061ff"/><stop offset=".229" stop-color="#005fff"/><stop offset=".257" stop-color="#0067ff"/><stop offset=".271" stop-color="#0074ff"/><stop offset=".284" stop-color="#008cff"/><stop offset=".298" stop-color="#00b3ff"/><stop offset=".318" stop-color="#00f8ff"/><stop offset=".325" stop-color="#0cfff3"/><stop offset=".346" stop-color="#36ffc9"/><stop offset=".373" stop-color="#54ffab"/><stop offset=".408" stop-color="#68ff97"/><stop offset=".455" stop-color="#72ff8d"/><stop offset=".517" stop-color="#6fff90"/><stop offset=".640" stop-color="#58ffa7"/><stop offset=".723" stop-color="#4effb1"/><stop offset=".997" stop-color="#48ffb7"/></linearGradient>
<linearGradient id="ha71"><stop offset=".003" stop-color="#0055ff"/><stop offset=".024" stop-color="#005dff"/><stop offset=".051" stop-color="#0061ff"/><stop offset=".229" stop-color="#005eff"/><stop offset=".257" stop-color="#0064ff"/><stop offset=".271" stop-color="#006eff"/><stop offset=".284" stop-color="#0083ff"/><stop offset=".298" stop-color="#00a4ff"/><stop offset=".325" stop-color="#00f8ff"/><stop offset=".332" stop-color="#0afff5"/><stop offset=".353" stop-color="#2effd1"/><stop offset=".380" stop-color="#47ffb8"/><stop offset=".414" stop-color="#56ffa9"/><stop offset=".455" stop-color="#5dffa2"/><stop offset=".517" stop-color="#5bffa4"/><stop offset=".729" stop-color="#3fffc0"/><stop offset=".997" stop-color="#39ffc6"/></linearGradient>
<linearGradient id="ha72"><stop offset=".003" stop-color="#0055ff"/><stop offset=".024" stop-color="#005dff"/><stop offset=".051" stop-color="#0061ff"/><stop offset=".236" stop-color="#005eff"/><stop offset=".264" stop-color="#0065ff"/><stop offset=".277" stop-color="#0071ff"/><stop offset=".291" stop-color="#0087ff"/><stop offset=".332" stop-color="#00f7ff"/><stop offset=".339" stop-color="#07fff8"/><stop offset=".360" stop-color="#24ffdb"/><stop offset=".380" stop-color="#35ffca"/><stop offset=".414" stop-color="#43ffbc"/><stop offset=".455" stop-color="#49ffb6"/><stop offset=".517" stop-color="#48ffb7"/><stop offset=".736" stop-color="#2fffd0"/><stop offset=".997" stop-color="#2bffd4"/></linearGradient>
<linearGradient id="ha73"><stop offset=".003" stop-color="#0055ff"/><stop offset=".024" stop-color="#005dff"/><stop offset=".051" stop-color="#0061ff"/><stop offset=".161" stop-color="#0062ff"/><stop offset=".236" stop-color="#005dff"/><stop offset=".264" stop-color="#0063ff"/><stop offset=".277" stop-color="#006cff"/><stop offset=".291" stop-color="#007eff"/><stop offset=".305" stop-color="#009cff"/><stop offset=".332" stop-color="#00e6ff"/><stop offset=".346" stop-color="#01fffe"/><stop offset=".366" stop-color="#1affe5"/><stop offset=".387" stop-color="#28ffd7"/><stop offset=".414" stop-color="#31ffce"/><stop offset=".455" stop-color="#37ffc8"/><stop offset=".517" stop-color="#35ffca"/><stop offset=".743" stop-color="#20ffdf"/><stop offset=".997" stop-color="#1cffe3"/></linearGradient>
<linearGradient id="ha74"><stop offset=".003" stop-color="#0055ff"/><stop offset=".024" stop-color="#005dff"/><stop offset=".058" stop-color="#0061ff"/><stop offset=".168" stop-color="#0061ff"/><stop offset=".236" stop-color="#005bff"/><stop offset=".264" stop-color="#0060ff"/><stop offset=".284" stop-color="#006eff"/><stop offset=".298" stop-color="#0082ff"/><stop offset=".339" stop-color="#00e4ff"/><stop offset=".353" stop-color="#00faff"/><stop offset=".360" stop-color="#03fffc"/><stop offset=".380" stop-color="#13ffec"/><stop offset=".401" stop-color="#1cffe3"/><stop offset=".469" stop-color="#25ffda"/><stop offset=".743" stop-color="#11ffee"/><stop offset=".997" stop-color="#0efff1"/></linearGradient>
<linearGradient id="ha75"><stop offset=".003" stop-color="#0055ff"/><stop offset=".024" stop-color="#005dff"/><stop offset=".058" stop-color="#0061ff"/><stop offset=".168" stop-color="#0061ff"/><stop offset=".236" stop-color="#005aff"/><stop offset=".271" stop-color="#0061ff"/><stop offset=".284" stop-color="#006aff"/><stop offset=".298" stop-color="#007aff"/><stop offset=".312" stop-color="#0094ff"/><stop offset=".332" stop-color="#00c5ff"/><stop offset=".346" stop-color="#00e0ff"/><stop offset=".360" stop-color="#00f3ff"/><stop offset=".373" stop-color="#00ffff"/><stop offset=".414" stop-color="#0ffff0"/><stop offset=".476" stop-color="#14ffeb"/><stop offset=".743" stop-color="#02fffd"/><stop offset=".997" stop-color="#00feff"/></linearGradient>
<linearGradient id="ha76"><stop offset=".003" stop-color="#0055ff"/><stop offset=".024" stop-color="#005dff"/><stop offset=".065" stop-color="#0061ff"/><stop offset=".168" stop-color="#0061ff"/><stop offset=".236" stop-color="#0059ff"/><stop offset=".271" stop-color="#005fff"/><stop offset=".291" stop-color="#006cff"/><stop offset=".305" stop-color="#007eff"/><stop offset=".339" stop-color="#00c5ff"/><stop offset=".360" stop-color="#00e4ff"/><stop offset=".380" stop-color="#00f4ff"/><stop offset=".414" stop-color="#00ffff"/><stop offset=".476" stop-color="#04fffb"/><stop offset=".565" stop-color="#00ffff"/><stop offset=".771" stop-color="#00f3ff"/><stop offset=".997" stop-color="#00f1ff"/></linearGradient>
<linearGradient id="ha77"><stop offset=".003" stop-color="#0055ff"/><stop offset=".024" stop-color="#005dff"/><stop offset=".065" stop-color="#0061ff"/><stop offset=".168" stop-color="#0061ff"/><stop offset=".243" stop-color="#0057ff"/><stop offset=".271" stop-color="#005cff"/><stop offset=".291" stop-color="#0069ff"/><stop offset=".305" stop-color="#0078ff"/><stop offset=".346" stop-color="#00c4ff"/><stop offset=".360" stop-color="#00d6ff"/><stop offset=".387" stop-color="#00e9ff"/><stop offset=".421" stop-color="#00f1ff"/><stop offset=".497" stop-color="#00f4ff"/><stop offset=".743" stop-color="#00e6ff"/><stop offset=".997" stop-color="#00e4ff"/></linearGradient>
<linearGradient id="ha78"><stop offset=".003" stop-color="#0055ff"/><stop offset=".031" stop-color="#005fff"/><stop offset=".086" stop-color="#0062ff"/><stop offset=".175" stop-color="#0060ff"/><stop offset=".236" stop-color="#0055ff"/><stop offset=".264" stop-color="#0058ff"/><stop offset=".284" stop-color="#0061ff"/><stop offset=".305" stop-color="#0072ff"/><stop offset=".318" stop-color="#0086ff"/><stop offset=".346" stop-color="#00b7ff"/><stop offset=".366" stop-color="#00d0ff"/><stop offset=".387" stop-color="#00dcff"/><stop offset=".421" stop-color="#00e3ff"/><stop offset=".497" stop-color="#00e6ff"/><stop offset=".743" stop-color="#00daff"/><stop offset=".997" stop-color="#00d8ff"/></linearGradient>
<linearGradient id="ha79"><stop offset=".003" stop-color="#0055ff"/><stop offset=".038" stop-color="#005fff"/><stop offset=".113" stop-color="#0062ff"/><stop offset=".175" stop-color="#0060ff"/><stop offset=".236" stop-color="#0053ff"/><stop offset=".264" stop-color="#0056ff"/><stop offset=".284" stop-color="#005fff"/><stop offset=".305" stop-color="#006eff"/><stop offset=".318" stop-color="#007fff"/><stop offset=".346" stop-color="#00acff"/><stop offset=".366" stop-color="#00c4ff"/><stop offset=".387" stop-color="#00cfff"/><stop offset=".421" stop-color="#00d7ff"/><stop offset=".497" stop-color="#00d9ff"/><stop offset=".750" stop-color="#00ceff"/><stop offset=".997" stop-color="#00ccff"/></linearGradient>
<linearGradient id="ha80"><stop offset=".003" stop-color="#0055ff"/><stop offset=".045" stop-color="#0060ff"/><stop offset=".134" stop-color="#0062ff"/><stop offset=".182" stop-color="#005fff"/><stop offset=".236" stop-color="#0051ff"/><stop offset=".264" stop-color="#0053ff"/><stop offset=".305" stop-color="#006bff"/><stop offset=".318" stop-color="#007aff"/><stop offset=".353" stop-color="#00abff"/><stop offset=".366" stop-color="#00b9ff"/><stop offset=".387" stop-color="#00c4ff"/><stop offset=".421" stop-color="#00cbff"/><stop offset=".497" stop-color="#00cdff"/><stop offset=".750" stop-color="#00c3ff"/><stop offset=".997" stop-color="#00c2ff"/></linearGradient>
<linearGradient id="ha81"><stop offset=".003" stop-color="#0055ff"/><stop offset=".045" stop-color="#0060ff"/><stop offset=".147" stop-color="#0062ff"/><stop offset=".188" stop-color="#005dff"/><stop offset=".236" stop-color="#004eff"/><stop offset=".257" stop-color="#004fff"/><stop offset=".277" stop-color="#0057ff"/><stop offset=".305" stop-color="#0068ff"/><stop offset=".366" stop-color="#00afff"/><stop offset=".387" stop-color="#00baff"/><stop offset=".421" stop-color="#00c0ff"/><stop offset=".997" stop-color="#00b8ff"/></linearGradient>
<linearGradient id="ha82"><stop offset=".003" stop-color="#0055ff"/><stop offset=".045" stop-color="#0060ff"/><stop offset=".147" stop-color="#0062ff"/><stop offset=".188" stop-color="#005cff"/><stop offset=".236" stop-color="#004cff"/><stop offset=".257" stop-color="#004cff"/><stop offset=".284" stop-color="#0058ff"/><stop offset=".312" stop-color="#006bff"/><stop offset=".366" stop-color="#00a6ff"/><stop offset=".387" stop-color="#00b0ff"/><stop offset=".421" stop-color="#00b6ff"/><stop offset=".997" stop-color="#00afff"/></linearGradient>
<linearGradient id="ha83"><stop offset=".003" stop-color="#0055ff"/><stop offset=".045" stop-color="#0060ff"/><stop offset=".154" stop-color="#0061ff"/><stop offset=".188" stop-color="#005cff"/><stop offset=".236" stop-color="#0049ff"/><stop offset=".257" stop-color="#0049ff"/><stop offset=".312" stop-color="#0069ff"/><stop offset=".366" stop-color="#009eff"/><stop offset=".387" stop-color="#00a8ff"/><stop offset=".421" stop-color="#00aeff"/><stop offset=".997" stop-color="#00a7ff"/></linearGradient>
<linearGradient id="ha84"><stop offset=".003" stop-color="#0055ff"/><stop offset=".045" stop-color="#0060ff"/><stop offset=".154" stop-color="#0061ff"/><stop offset=".182" stop-color="#005dff"/><stop offset=".229" stop-color="#0048ff"/><stop offset=".250" stop-color="#0045ff"/><stop offset=".271" stop-color="#004cff"/><stop offset=".305" stop-color="#0062ff"/><stop offset=".366" stop-color="#0098ff"/><stop offset=".387" stop-color="#00a1ff"/><stop offset=".421" stop-color="#00a6ff"/><stop offset=".997" stop-color="#00a0ff"/></linearGradient>
<linearGradient id="ha85"><stop offset=".003" stop-color="#0055ff"/><stop offset=".045" stop-color="#0060ff"/><stop offset=".154" stop-color="#0061ff"/><stop offset=".182" stop-color="#005dff"/><stop offset=".229" stop-color="#0045ff"/><stop offset=".250" stop-color="#0042ff"/><stop offset=".271" stop-color="#004aff"/><stop offset=".305" stop-color="#0061ff"/><stop offset=".366" stop-color="#0092ff"/><stop offset=".387" stop-color="#009bff"/><stop offset=".421" stop-color="#009fff"/><stop offset=".997" stop-color="#009aff"/></linearGradient>
<linearGradient id="ha86"><stop offset=".003" stop-color="#0055ff"/><stop offset=".045" stop-color="#0060ff"/><stop offset=".154" stop-color="#0061ff"/><stop offset=".182" stop-color="#005cff"/><stop offset=".229" stop-color="#0043ff"/><stop offset=".250" stop-color="#003fff"/><stop offset=".271" stop-color="#0048ff"/><stop offset=".366" stop-color="#008eff"/><stop offset=".387" stop-color="#0095ff"/><stop offset=".421" stop-color="#009aff"/><stop offset=".997" stop-color="#0095ff"/></linearGradient>
<linearGradient id="ha87"><stop offset=".003" stop-color="#0055ff"/><stop offset=".024" stop-color="#005dff"/><stop offset=".051" stop-color="#0061ff"/><stop offset=".161" stop-color="#0060ff"/><stop offset=".188" stop-color="#0059ff"/><stop offset=".229" stop-color="#0040ff"/><stop offset=".250" stop-color="#003cff"/><stop offset=".271" stop-color="#0045ff"/><stop offset=".360" stop-color="#0086ff"/><stop offset=".401" stop-color="#0094ff"/><stop offset=".483" stop-color="#0096ff"/><stop offset=".997" stop-color="#0091ff"/></linearGradient>
<linearGradient id="ha88"><stop offset=".003" stop-color="#0055ff"/><stop offset=".024" stop-color="#005dff"/><stop offset=".051" stop-color="#0061ff"/><stop offset=".161" stop-color="#0060ff"/><stop offset=".188" stop-color="#0058ff"/><stop offset=".229" stop-color="#003eff"/><stop offset=".250" stop-color="#003aff"/><stop offset=".271" stop-color="#0043ff"/><stop offset=".360" stop-color="#0084ff"/><stop offset=".401" stop-color="#0090ff"/><stop offset=".997" stop-color="#008dff"/></linearGradient>
<linearGradient id="ha89"><stop offset=".003" stop-color="#0055ff"/><stop offset=".024" stop-color="#005dff"/><stop offset=".051" stop-color="#0061ff"/><stop offset=".161" stop-color="#0060ff"/><stop offset=".188" stop-color="#0058ff"/><stop offset=".229" stop-color="#003cff"/><stop offset=".250" stop-color="#0037ff"/><stop offset=".264" stop-color="#003dff"/><stop offset=".305" stop-color="#005eff"/><stop offset=".360" stop-color="#0082ff"/><stop offset=".401" stop-color="#008eff"/><stop offset=".997" stop-color="#008bff"/></linearGradient>
<linearGradient id="ha90"><stop offset=".003" stop-color="#0055ff"/><stop offset=".024" stop-color="#005dff"/><stop offset=".051" stop-color="#0061ff"/><stop offset=".161" stop-color="#0060ff"/><stop offset=".188" stop-color="#0057ff"/><stop offset=".229" stop-color="#003aff"/><stop offset=".250" stop-color="#0035ff"/><stop offset=".264" stop-color="#003bff"/><stop offset=".305" stop-color="#005eff"/><stop offset=".353" stop-color="#007eff"/><stop offset=".373" stop-color="#0087ff"/><stop offset=".401" stop-color="#008dff"/><stop offset=".997" stop-color="#0089ff"/></linearGradient>
<linearGradient id="ha91"><stop offset=".003" stop-color="#0055ff"/><stop offset=".024" stop-color="#005dff"/><stop offset=".051" stop-color="#0061ff"/><stop offset=".161" stop-color="#0060ff"/><stop offset=".188" stop-color="#0057ff"/><stop offset=".229" stop-color="#0038ff"/><stop offset=".250" stop-color="#0033ff"/><stop offset=".264" stop-color="#0039ff"/><stop offset=".305" stop-color="#005dff"/><stop offset=".353" stop-color="#007eff"/><stop offset=".373" stop-color="#0087ff"/><stop offset=".401" stop-color="#008dff"/><stop offset=".997" stop-color="#0089ff"/></linearGradient>
<linearGradient id="ha92"><stop offset=".003" stop-color="#0055ff"/><stop offset=".024" stop-color="#005dff"/><stop offset=".051" stop-color="#0061ff"/><stop offset=".161" stop-color="#0060ff"/><stop offset=".188" stop-color="#0056ff"/><stop offset=".229" stop-color="#0037ff"/><stop offset=".250" stop-color="#0032ff"/><stop offset=".264" stop-color="#0038ff"/><stop offset=".305" stop-color="#005dff"/><stop offset=".353" stop-color="#007fff"/><stop offset=".373" stop-color="#0088ff"/><stop offset=".401" stop-color="#008eff"/><stop offset=".997" stop-color="#0089ff"/></linearGradient>
<linearGradient id="ha93"><stop offset=".003" stop-color="#0055ff"/><stop offset=".024" stop-color="#005dff"/><stop offset=".051" stop-color="#0061ff"/><stop offset=".161" stop-color="#0060ff"/><stop offset=".188" stop-color="#0056ff"/><stop offset=".229" stop-color="#0036ff"/><stop offset=".250" stop-color="#0031ff"/><stop offset=".264" stop-color="#0037ff"/><stop offset=".305" stop-color="#005eff"/><stop offset=".346" stop-color="#007cff"/><stop offset=".366" stop-color="#0088ff"/><stop offset=".394" stop-color="#008fff"/><stop offset=".462" stop-color="#0092ff"/><stop offset=".997" stop-color="#008aff"/></linearGradient>
<linearGradient id="ha94"><stop offset=".003" stop-color="#0055ff"/><stop offset=".024" stop-color="#005dff"/><stop offset=".051" stop-color="#0061ff"/><stop offset=".161" stop-color="#0060ff"/><stop offset=".188" stop-color="#0056ff"/><stop offset=".229" stop-color="#0036ff"/><stop offset=".250" stop-color="#0030ff"/><stop offset=".264" stop-color="#0037ff"/><stop offset=".305" stop-color="#005eff"/><stop offset=".353" stop-color="#0084ff"/><stop offset=".394" stop-color="#0092ff"/><stop offset=".455" stop-color="#0095ff"/><stop offset=".716" stop-color="#008eff"/><stop offset=".997" stop-color="#008dff"/></linearGradient>
<linearGradient id="ha95"><stop offset=".003" stop-color="#0055ff"/><stop offset=".024" stop-color="#005dff"/><stop offset=".051" stop-color="#0061ff"/><stop offset=".161" stop-color="#0060ff"/><stop offset=".188" stop-color="#0056ff"/><stop offset=".229" stop-color="#0036ff"/><stop offset=".250" stop-color="#0031ff"/><stop offset=".271" stop-color="#003dff"/><stop offset=".305" stop-color="#005fff"/><stop offset=".353" stop-color="#0087ff"/><stop offset=".394" stop-color="#0097ff"/><stop offset=".455" stop-color="#0099ff"/><stop offset=".709" stop-color="#0091ff"/><stop offset=".997" stop-color="#0090ff"/></linearGradient>
<linearGradient id="ha96"><stop offset=".003" stop-color="#0055ff"/><stop offset=".024" stop-color="#005dff"/><stop offset=".051" stop-color="#0061ff"/><stop offset=".161" stop-color="#0060ff"/><stop offset=".188" stop-color="#0056ff"/><stop offset=".229" stop-color="#0036ff"/><stop offset=".250" stop-color="#0031ff"/><stop offset=".271" stop-color="#003dff"/><stop offset=".353" stop-color="#008cff"/><stop offset=".373" stop-color="#0097ff"/><stop offset=".401" stop-color="#009dff"/><stop offset=".469" stop-color="#009fff"/><stop offset=".736" stop-color="#0095ff"/><stop offset=".997" stop-color="#0094ff"/></linearGradient>
<linearGradient id="ha97"><stop offset=".003" stop-color="#0055ff"/><stop offset=".024" stop-color="#005dff"/><stop offset=".051" stop-color="#0061ff"/><stop offset=".161" stop-color="#0060ff"/><stop offset=".188" stop-color="#0056ff"/><stop offset=".229" stop-color="#0037ff"/><stop offset=".250" stop-color="#0032ff"/><stop offset=".271" stop-color="#003eff"/><stop offset=".360" stop-color="#0097ff"/><stop offset=".380" stop-color="#00a0ff"/><stop offset=".414" stop-color="#00a5ff"/><stop offset=".723" stop-color="#009aff"/><stop offset=".997" stop-color="#0099ff"/></linearGradient>
<linearGradient id="ha98"><stop offset=".003" stop-color="#0055ff"/><stop offset=".024" stop-color="#005dff"/><stop offset=".051" stop-color="#0061ff"/><stop offset=".161" stop-color="#0060ff"/><stop offset=".188" stop-color="#0057ff"/><stop offset=".229" stop-color="#0038ff"/><stop offset=".250" stop-color="#0034ff"/><stop offset=".277" stop-color="#0046ff"/><stop offset=".339" stop-color="#008bff"/><stop offset=".360" stop-color="#009eff"/><stop offset=".380" stop-color="#00a8ff"/><stop offset=".414" stop-color="#00adff"/><stop offset=".716" stop-color="#00a1ff"/><stop offset=".997" stop-color="#009fff"/></linearGradient>
<linearGradient id="ha99"><stop offset=".003" stop-color="#0055ff"/><stop offset=".024" stop-color="#005dff"/><stop offset=".051" stop-color="#0061ff"/><stop offset=".161" stop-color="#0060ff"/><stop offset=".188" stop-color="#0057ff"/><stop offset=".229" stop-color="#003aff"/><stop offset=".250" stop-color="#0036ff"/><stop offset=".277" stop-color="#0048ff"/><stop offset=".346" stop-color="#009aff"/><stop offset=".360" stop-color="#00a7ff"/><stop offset=".380" stop-color="#00b1ff"/><stop offset=".414" stop-color="#00b7ff"/><stop offset=".716" stop-color="#00a8ff"/><stop offset=".997" stop-color="#00a6ff"/></linearGradient>
<linearGradient id="ha100"><stop offset=".003" stop-color="#0055ff"/><stop offset=".024" stop-color="#005dff"/><stop offset=".051" stop-color="#0061ff"/><stop offset=".161" stop-color="#0060ff"/><stop offset=".188" stop-color="#0058ff"/><stop offset=".229" stop-color="#003cff"/><stop offset=".250" stop-color="#0038ff"/><stop offset=".264" stop-color="#003eff"/><stop offset=".284" stop-color="#0051ff"/><stop offset=".353" stop-color="#00abff"/><stop offset=".373" stop-color="#00b9ff"/><stop offset=".408" stop-color="#00c1ff"/><stop offset=".476" stop-color="#00c1ff"/><stop offset=".723" stop-color="#00b0ff"/><stop offset=".997" stop-color="#00aeff"/></linearGradient>
<linearGradient id="ha101"><stop offset=".003" stop-color="#0055ff"/><stop offset=".024" stop-color="#005dff"/><stop offset=".051" stop-color="#0061ff"/><stop offset=".161" stop-color="#0060ff"/><stop offset=".188" stop-color="#0058ff"/><stop offset=".229" stop-color="#003eff"/><stop offset=".250" stop-color="#003bff"/><stop offset=".271" stop-color="#0046ff"/><stop offset=".291" stop-color="#005cff"/><stop offset=".339" stop-color="#00a5ff"/><stop offset=".353" stop-color="#00b6ff"/><stop offset=".373" stop-color="#00c5ff"/><stop offset=".408" stop-color="#00cdff"/><stop offset=".476" stop-color="#00cdff"/><stop offset=".716" stop-color="#00baff"/><stop offset=".997" stop-color="#00b7ff"/></linearGradient>
<linearGradient id="ha102"><stop offset=".003" stop-color="#0055ff"/><stop offset=".045" stop-color="#0060ff"/><stop offset=".154" stop-color="#0061ff"/><stop offset=".188" stop-color="#0059ff"/><stop offset=".236" stop-color="#003eff"/><stop offset=".257" stop-color="#0040ff"/><stop offset=".271" stop-color="#0049ff"/><stop offset=".291" stop-color="#0060ff"/><stop offset=".305" stop-color="#0074ff"/><stop offset=".339" stop-color="#00b1ff"/><stop offset=".353" stop-color="#00c2ff"/><stop offset=".373" stop-color="#00d2ff"/><stop offset=".408" stop-color="#00dbff"/><stop offset=".476" stop-color="#00dbff"/><stop offset=".716" stop-color="#00c4ff"/><stop offset=".997" stop-color="#00c1ff"/></linearGradient>
<linearGradient id="ha103"><stop offset=".003" stop-color="#0055ff"/><stop offset=".045" stop-color="#0060ff"/><stop offset=".154" stop-color="#0061ff"/><stop offset=".188" stop-color="#005aff"/><stop offset=".236" stop-color="#0041ff"/><stop offset=".257" stop-color="#0043ff"/><stop offset=".271" stop-color="#004cff"/><stop offset=".291" stop-color="#0064ff"/><stop offset=".305" stop-color="#007bff"/><stop offset=".332" stop-color="#00b2ff"/><stop offset=".353" stop-color="#00d0ff"/><stop offset=".373" stop-color="#00e0ff"/><stop offset=".408" stop-color="#00e9ff"/><stop offset=".476" stop-color="#00e9ff"/><stop offset=".716" stop-color="#00cfff"/><stop offset=".997" stop-color="#00cbff"/></linearGradient>
<linearGradient id="ha104"><stop offset=".003" stop-color="#0055ff"/><stop offset=".045" stop-color="#0060ff"/><stop offset=".154" stop-color="#0061ff"/><stop offset=".188" stop-color="#005aff"/><stop offset=".236" stop-color="#0044ff"/><stop offset=".257" stop-color="#0047ff"/><stop offset=".277" stop-color="#0057ff"/><stop offset=".291" stop-color="#006aff"/><stop offset=".305" stop-color="#0083ff"/><stop offset=".332" stop-color="#00c0ff"/><stop offset=".353" stop-color="#00dfff"/><stop offset=".373" stop-color="#00efff"/><stop offset=".408" stop-color="#00f9ff"/><stop offset=".476" stop-color="#00f9ff"/><stop offset=".716" stop-color="#00dbff"/><stop offset=".997" stop-color="#00d7ff"/></linearGradient>
<linearGradient id="ha105"><stop offset=".003" stop-color="#0055ff"/><stop offset=".045" stop-color="#0060ff"/><stop offset=".147" stop-color="#0062ff"/><stop offset=".182" stop-color="#005dff"/><stop offset=".236" stop-color="#0047ff"/><stop offset=".257" stop-color="#004aff"/><stop offset=".277" stop-color="#005cff"/><stop offset=".291" stop-color="#0071ff"/><stop offset=".325" stop-color="#00c1ff"/><stop offset=".339" stop-color="#00ddff"/><stop offset=".353" stop-color="#00efff"/><stop offset=".373" stop-color="#00ffff"/><stop offset=".401" stop-color="#0afff5"/><stop offset=".435" stop-color="#0dfff2"/><stop offset=".545" stop-color="#00feff"/><stop offset=".723" stop-color="#00e8ff"/><stop offset=".997" stop-color="#00e3ff"/></linearGradient>
<linearGradient id="ha106"><stop offset=".003" stop-color="#0055ff"/><stop offset=".045" stop-color="#0060ff"/><stop offset=".147" stop-color="#0062ff"/><stop offset=".182" stop-color="#005eff"/><stop offset=".236" stop-color="#004bff"/><stop offset=".257" stop-color="#004eff"/><stop offset=".271" stop-color="#0059ff"/><stop offset=".284" stop-color="#006cff"/><stop offset=".298" stop-color="#0089ff"/><stop offset=".332" stop-color="#00e1ff"/><stop offset=".346" stop-color="#00f8ff"/><stop offset=".353" stop-color="#01fffe"/><stop offset=".387" stop-color="#17ffe8"/><stop offset=".435" stop-color="#1effe1"/><stop offset=".490" stop-color="#19ffe6"/><stop offset=".634" stop-color="#00ffff"/><stop offset=".764" stop-color="#00f3ff"/><stop offset=".997" stop-color="#00f0ff"/></linearGradient>
<linearGradient id="ha107"><stop offset=".003" stop-color="#0055ff"/><stop offset=".045" stop-color="#0060ff"/><stop offset=".134" stop-color="#0062ff"/><stop offset=".182" stop-color="#005eff"/><stop offset=".236" stop-color="#004eff"/><stop offset=".257" stop-color="#0053ff"/><stop offset=".271" stop-color="#005fff"/><stop offset=".284" stop-color="#0075ff"/><stop offset=".298" stop-color="#0096ff"/><stop offset=".325" stop-color="#00e4ff"/><stop offset=".339" stop-color="#01fffe"/><stop offset=".360" stop-color="#1affe5"/><stop offset=".380" stop-color="#27ffd8"/><stop offset=".408" stop-color="#2fffd0"/><stop offset=".435" stop-color="#31ffce"/><stop offset=".483" stop-color="#2cffd3"/><stop offset=".627" stop-color="#10ffef"/><stop offset=".709" stop-color="#05fffa"/><stop offset=".812" stop-color="#00ffff"/><stop offset=".997" stop-color="#00feff"/></linearGradient>
<linearGradient id="ha108"><stop offset=".003" stop-color="#0055ff"/><stop offset=".045" stop-color="#0060ff"/><stop offset=".134" stop-color="#0062ff"/><stop offset=".182" stop-color="#005fff"/><stop offset=".229" stop-color="#0052ff"/><stop offset=".250" stop-color="#0054ff"/><stop offset=".264" stop-color="#005dff"/><stop offset=".277" stop-color="#0071ff"/><stop offset=".291" stop-color="#0090ff"/><stop offset=".325" stop-color="#00f7ff"/><stop offset=".332" stop-color="#07fff8"/><stop offset=".353" stop-color="#25ffda"/><stop offset=".373" stop-color="#35ffca"/><stop offset=".401" stop-color="#40ffbf"/><stop offset=".435" stop-color="#43ffbc"/><stop offset=".483" stop-color="#3effc1"/><stop offset=".627" stop-color="#1fffe0"/><stop offset=".709" stop-color="#14ffeb"/><stop offset=".812" stop-color="#0efff1"/><stop offset=".997" stop-color="#0dfff2"/></linearGradient>
<linearGradient id="ha109"><stop offset=".003" stop-color="#0055ff"/><stop offset=".031" stop-color="#005fff"/><stop offset=".086" stop-color="#0062ff"/><stop offset=".168" stop-color="#0061ff"/><stop offset=".229" stop-color="#0054ff"/><stop offset=".250" stop-color="#0058ff"/><stop offset=".264" stop-color="#0063ff"/><stop offset=".277" stop-color="#007aff"/><stop offset=".291" stop-color="#009fff"/><stop offset=".318" stop-color="#00f8ff"/><stop offset=".325" stop-color="#0bfff4"/><stop offset=".346" stop-color="#2fffd0"/><stop offset=".366" stop-color="#43ffbc"/><stop offset=".394" stop-color="#51ffae"/><stop offset=".428" stop-color="#56ffa9"/><stop offset=".483" stop-color="#51ffae"/><stop offset=".627" stop-color="#2fffd0"/><stop offset=".709" stop-color="#22ffdd"/><stop offset=".812" stop-color="#1cffe3"/><stop offset=".997" stop-color="#1affe5"/></linearGradient>
<linearGradient id="ha110"><stop offset=".003" stop-color="#0055ff"/><stop offset=".024" stop-color="#005dff"/><stop offset=".065" stop-color="#0061ff"/><stop offset=".168" stop-color="#0061ff"/><stop offset=".229" stop-color="#0057ff"/><stop offset=".250" stop-color="#005cff"/><stop offset=".264" stop-color="#006aff"/><stop offset=".277" stop-color="#0085ff"/><stop offset=".291" stop-color="#00afff"/><stop offset=".312" stop-color="#00f8ff"/><stop offset=".318" stop-color="#0dfff2"/><stop offset=".339" stop-color="#37ffc8"/><stop offset=".360" stop-color="#4fffb0"/><stop offset=".394" stop-color="#63ff9c"/><stop offset=".428" stop-color="#69ff96"/><stop offset=".483" stop-color="#63ff9c"/><stop offset=".627" stop-color="#3effc1"/><stop offset=".709" stop-color="#30ffcf"/><stop offset=".812" stop-color="#2affd5"/><stop offset=".997" stop-color="#28ffd7"/></linearGradient>
<linearGradient id="ha111"><stop offset=".003" stop-color="#0055ff"/><stop offset=".024" stop-color="#005dff"/><stop offset=".065" stop-color="#0061ff"/><stop offset=".161" stop-color="#0061ff"/><stop offset=".223" stop-color="#005aff"/><stop offset=".243" stop-color="#005dff"/><stop offset=".257" stop-color="#0068ff"/><stop offset=".271" stop-color="#0080ff"/><stop offset=".284" stop-color="#00a8ff"/><stop offset=".305" stop-color="#00f4ff"/><stop offset=".312" stop-color="#0cfff3"/><stop offset=".318" stop-color="#20ffdf"/><stop offset=".332" stop-color="#3effc1"/><stop offset=".353" stop-color="#5affa5"/><stop offset=".387" stop-color="#72ff8d"/><stop offset=".421" stop-color="#7bff84"/><stop offset=".483" stop-color="#75ff8a"/><stop offset=".627" stop-color="#4dffb2"/><stop offset=".709" stop-color="#3effc1"/><stop offset=".812" stop-color="#37ffc8"/><stop offset=".997" stop-color="#36ffc9"/></linearGradient>
<linearGradient id="ha112"><stop offset=".003" stop-color="#0055ff"/><stop offset=".024" stop-color="#005dff"/><stop offset=".058" stop-color="#0061ff"/><stop offset=".161" stop-color="#0061ff"/><stop offset=".223" stop-color="#005cff"/><stop offset=".243" stop-color="#0061ff"/><stop offset=".257" stop-color="#006fff"/><stop offset=".271" stop-color="#008bff"/><stop offset=".284" stop-color="#00b8ff"/><stop offset=".298" stop-color="#00eeff"/><stop offset=".305" stop-color="#08fff7"/><stop offset=".312" stop-color="#1fffe0"/><stop offset=".325" stop-color="#42ffbd"/><stop offset=".346" stop-color="#63ff9c"/><stop offset=".380" stop-color="#80ff7f"/><stop offset=".421" stop-color="#8cff73"/><stop offset=".483" stop-color="#86ff79"/><stop offset=".627" stop-color="#5bffa4"/><stop offset=".709" stop-color="#4cffb3"/><stop offset=".812" stop-color="#44ffbb"/><stop offset=".997" stop-color="#42ffbd"/></linearGradient>
<linearGradient id="ha113"><stop offset=".003" stop-color="#0055ff"/><stop offset=".024" stop-color="#005dff"/><stop offset=".051" stop-color="#0061ff"/><stop offset=".216" stop-color="#005eff"/><stop offset=".236" stop-color="#0061ff"/><stop offset=".250" stop-color="#006cff"/><stop offset=".264" stop-color="#0084ff"/><stop offset=".277" stop-color="#00aeff"/><stop offset=".298" stop-color="#01fffe"/><stop offset=".312" stop-color="#31ffce"/><stop offset=".318" stop-color="#43ffbc"/><stop offset=".332" stop-color="#5fffa0"/><stop offset=".346" stop-color="#72ff8d"/><stop offset=".380" stop-color="#90ff6f"/><stop offset=".421" stop-color="#9cff63"/><stop offset=".483" stop-color="#96ff69"/><stop offset=".627" stop-color="#69ff96"/><stop offset=".709" stop-color="#58ffa7"/><stop offset=".812" stop-color="#50ffaf"/><stop offset=".997" stop-color="#4effb1"/></linearGradient>
<linearGradient id="ha114"><stop offset=".003" stop-color="#0055ff"/><stop offset=".024" stop-color="#005dff"/><stop offset=".051" stop-color="#0061ff"/><stop offset=".216" stop-color="#005fff"/><stop offset=".236" stop-color="#0065ff"/><stop offset=".250" stop-color="#0072ff"/><stop offset=".264" stop-color="#008dff"/><stop offset=".277" stop-color="#00bcff"/><stop offset=".291" stop-color="#00f6ff"/><stop offset=".298" stop-color="#13ffec"/><stop offset=".305" stop-color="#2cffd3"/><stop offset=".318" stop-color="#52ffad"/><stop offset=".339" stop-color="#77ff88"/><stop offset=".360" stop-color="#8eff71"/><stop offset=".380" stop-color="#9eff61"/><stop offset=".421" stop-color="#abff54"/><stop offset=".483" stop-color="#a4ff5b"/><stop offset=".627" stop-color="#75ff8a"/><stop offset=".709" stop-color="#64ff9b"/><stop offset=".812" stop-color="#5bffa4"/><stop offset=".997" stop-color="#59ffa6"/></linearGradient>
<linearGradient id="ha115"><stop offset=".003" stop-color="#0055ff"/><stop offset=".024" stop-color="#005dff"/><stop offset=".051" stop-color="#0061ff"/><stop offset=".209" stop-color="#0060ff"/><stop offset=".229" stop-color="#0064ff"/><stop offset=".243" stop-color="#006eff"/><stop offset=".257" stop-color="#0085ff"/><stop offset=".271" stop-color="#00aeff"/><stop offset=".284" stop-color="#00e7ff"/><stop offset=".291" stop-color="#06fff9"/><stop offset=".305" stop-color="#3affc5"/><stop offset=".312" stop-color="#4fffb0"/><stop offset=".325" stop-color="#6eff91"/><stop offset=".339" stop-color="#84ff7b"/><stop offset=".360" stop-color="#9bff64"/><stop offset=".380" stop-color="#abff54"/><stop offset=".421" stop-color="#b8ff47"/><stop offset=".483" stop-color="#b1ff4e"/><stop offset=".627" stop-color="#80ff7f"/><stop offset=".709" stop-color="#6eff91"/><stop offset=".812" stop-color="#65ff9a"/><stop offset=".997" stop-color="#63ff9c"/></linearGradient>
<linearGradient id="ha116"><stop offset=".003" stop-color="#0055ff"/><stop offset=".045" stop-color="#0060ff"/><stop offset=".209" stop-color="#0061ff"/><stop offset=".229" stop-color="#0066ff"/><stop offset=".243" stop-color="#0072ff"/><stop offset=".257" stop-color="#008bff"/><stop offset=".271" stop-color="#00b9ff"/><stop offset=".284" stop-color="#00f4ff"/><stop offset=".291" stop-color="#14ffeb"/><stop offset=".305" stop-color="#47ffb8"/><stop offset=".312" stop-color="#5bffa4"/><stop offset=".325" stop-color="#79ff86"/><stop offset=".339" stop-color="#8eff71"/><stop offset=".360" stop-color="#a5ff5a"/><stop offset=".380" stop-color="#b5ff4a"/><stop offset=".421" stop-color="#c3ff3c"/><stop offset=".483" stop-color="#bcff43"/><stop offset=".627" stop-color="#89ff76"/><stop offset=".709" stop-color="#76ff89"/><stop offset=".812" stop-color="#6dff92"/><stop offset=".997" stop-color="#6bff94"/></linearGradient>
<linearGradient id="ha117"><stop offset=".003" stop-color="#0055ff"/><stop offset=".045" stop-color="#0060ff"/><stop offset=".202" stop-color="#0061ff"/><stop offset=".229" stop-color="#0068ff"/><stop offset=".243" stop-color="#0075ff"/><stop offset=".257" stop-color="#0091ff"/><stop offset=".271" stop-color="#00c1ff"/><stop offset=".284" stop-color="#00ffff"/><stop offset=".298" stop-color="#3affc5"/><stop offset=".305" stop-color="#51ffae"/><stop offset=".318" stop-color="#74ff8b"/><stop offset=".332" stop-color="#8cff73"/><stop offset=".353" stop-color="#a7ff58"/><stop offset=".373" stop-color="#b9ff46"/><stop offset=".394" stop-color="#c5ff3a"/><stop offset=".421" stop-color="#ccff33"/><stop offset=".483" stop-color="#c4ff3b"/><stop offset=".627" stop-color="#90ff6f"/><stop offset=".709" stop-color="#7dff82"/><stop offset=".812" stop-color="#74ff8b"/><stop offset=".997" stop-color="#71ff8e"/></linearGradient>
<linearGradient id="ha118"><stop offset=".003" stop-color="#0055ff"/><stop offset=".045" stop-color="#0060ff"/><stop offset=".202" stop-color="#0061ff"/><stop offset=".229" stop-color="#0069ff"/><stop offset=".243" stop-color="#0077ff"/><stop offset=".257" stop-color="#0096ff"/><stop offset=".264" stop-color="#00acff"/><stop offset=".277" stop-color="#00e7ff"/><stop offset=".284" stop-color="#08fff7"/><stop offset=".298" stop-color="#41ffbe"/><stop offset=".305" stop-color="#58ffa7"/><stop offset=".318" stop-color="#7aff85"/><stop offset=".332" stop-color="#92ff6d"/><stop offset=".353" stop-color="#acff53"/><stop offset=".373" stop-color="#bfff40"/><stop offset=".394" stop-color="#cbff34"/><stop offset=".421" stop-color="#d2ff2d"/><stop offset=".449" stop-color="#d2ff2d"/><stop offset=".483" stop-color="#caff35"/><stop offset=".627" stop-color="#95ff6a"/><stop offset=".709" stop-color="#82ff7d"/><stop offset=".812" stop-color="#78ff87"/><stop offset=".997" stop-color="#76ff89"/></linearGradient>
<linearGradient id="ha119"><stop offset=".003" stop-color="#0055ff"/><stop offset=".045" stop-color="#0060ff"/><stop offset=".202" stop-color="#0061ff"/><stop offset=".223" stop-color="#0065ff"/><stop offset=".236" stop-color="#006fff"/><stop offset=".250" stop-color="#0086ff"/><stop offset=".264" stop-color="#00b0ff"/><stop offset=".277" stop-color="#00ecff"/><stop offset=".284" stop-color="#0dfff2"/><stop offset=".298" stop-color="#46ffb9"/><stop offset=".305" stop-color="#5cffa3"/><stop offset=".318" stop-color="#7eff81"/><stop offset=".332" stop-color="#96ff69"/><stop offset=".353" stop-color="#b0ff4f"/><stop offset=".373" stop-color="#c3ff3c"/><stop offset=".394" stop-color="#cfff30"/><stop offset=".421" stop-color="#d6ff29"/><stop offset=".449" stop-color="#d6ff29"/><stop offset=".483" stop-color="#ceff31"/><stop offset=".627" stop-color="#98ff67"/><stop offset=".709" stop-color="#85ff7a"/><stop offset=".812" stop-color="#7bff84"/><stop offset=".997" stop-color="#79ff86"/></linearGradient>
<linearGradient id="ha120"><stop offset=".003" stop-color="#0055ff"/><stop offset=".045" stop-color="#0060ff"/><stop offset=".202" stop-color="#0061ff"/><stop offset=".223" stop-color="#0065ff"/><stop offset=".236" stop-color="#006fff"/><stop offset=".250" stop-color="#0086ff"/><stop offset=".264" stop-color="#00b1ff"/><stop offset=".277" stop-color="#00edff"/><stop offset=".284" stop-color="#0efff1"/><stop offset=".298" stop-color="#47ffb8"/><stop offset=".305" stop-color="#5dffa2"/><stop offset=".318" stop-color="#7fff80"/><stop offset=".332" stop-color="#97ff68"/><stop offset=".353" stop-color="#b1ff4e"/><stop offset=".373" stop-color="#c4ff3b"/><stop offset=".394" stop-color="#d0ff2f"/><stop offset=".421" stop-color="#d7ff28"/><stop offset=".449" stop-color="#d7ff28"/><stop offset=".483" stop-color="#cfff30"/><stop offset=".627" stop-color="#99ff66"/><stop offset=".709" stop-color="#85ff7a"/><stop offset=".812" stop-color="#7cff83"/><stop offset=".997" stop-color="#79ff86"/></linearGradient>
<linearGradient id="ha121"><stop offset=".003" stop-color="#0055ff"/><stop offset=".045" stop-color="#0060ff"/><stop offset=".202" stop-color="#0060ff"/><stop offset=".229" stop-color="#0067ff"/><stop offset=".243" stop-color="#0074ff"/><stop offset=".257" stop-color="#0091ff"/><stop offset=".264" stop-color="#00a8ff"/><stop offset=".277" stop-color="#00e3ff"/><stop offset=".284" stop-color="#04fffb"/><stop offset=".298" stop-color="#40ffbf"/><stop offset=".305" stop-color="#58ffa7"/><stop offset=".318" stop-color="#7cff83"/><stop offset=".332" stop-color="#95ff6a"/><stop offset=".353" stop-color="#b0ff4f"/><stop offset=".373" stop-color="#c3ff3c"/><stop offset=".394" stop-color="#cfff30"/><stop offset=".421" stop-color="#d7ff28"/><stop offset=".449" stop-color="#d6ff29"/><stop offset=".483" stop-color="#cfff30"/><stop offset=".627" stop-color="#99ff66"/><stop offset=".709" stop-color="#85ff7a"/><stop offset=".812" stop-color="#7bff84"/><stop offset=".997" stop-color="#79ff86"/></linearGradient>
<linearGradient id="ha122"><stop offset=".003" stop-color="#0055ff"/><stop offset=".024" stop-color="#005dff"/><stop offset=".051" stop-color="#0061ff"/><stop offset=".209" stop-color="#005fff"/><stop offset=".229" stop-color="#0064ff"/><stop offset=".243" stop-color="#006fff"/><stop offset=".257" stop-color="#0089ff"/><stop offset=".271" stop-color="#00b8ff"/><stop offset=".284" stop-color="#00f7ff"/><stop offset=".291" stop-color="#18ffe7"/><stop offset=".305" stop-color="#50ffaf"/><stop offset=".312" stop-color="#66ff99"/><stop offset=".332" stop-color="#93ff6c"/><stop offset=".353" stop-color="#afff50"/><stop offset=".373" stop-color="#c2ff3d"/><stop offset=".394" stop-color="#cfff30"/><stop offset=".421" stop-color="#d6ff29"/><stop offset=".449" stop-color="#d5ff2a"/><stop offset=".483" stop-color="#ceff31"/><stop offset=".627" stop-color="#98ff67"/><stop offset=".709" stop-color="#84ff7b"/><stop offset=".812" stop-color="#7aff85"/><stop offset=".997" stop-color="#78ff87"/></linearGradient>
<linearGradient id="ha123"><stop offset=".003" stop-color="#0055ff"/><stop offset=".024" stop-color="#005dff"/><stop offset=".058" stop-color="#0061ff"/><stop offset=".229" stop-color="#0060ff"/><stop offset=".243" stop-color="#006aff"/><stop offset=".257" stop-color="#0080ff"/><stop offset=".271" stop-color="#00abff"/><stop offset=".284" stop-color="#00e7ff"/><stop offset=".291" stop-color="#0afff5"/><stop offset=".305" stop-color="#45ffba"/><stop offset=".312" stop-color="#5dffa2"/><stop offset=".325" stop-color="#82ff7d"/><stop offset=".339" stop-color="#9aff65"/><stop offset=".360" stop-color="#b4ff4b"/><stop offset=".380" stop-color="#c6ff39"/><stop offset=".421" stop-color="#d5ff2a"/><stop offset=".449" stop-color="#d4ff2b"/><stop offset=".483" stop-color="#cdff32"/><stop offset=".627" stop-color="#97ff68"/><stop offset=".709" stop-color="#83ff7c"/><stop offset=".812" stop-color="#79ff86"/><stop offset=".997" stop-color="#77ff88"/></linearGradient>
<linearGradient id="ha124"><stop offset=".003" stop-color="#0055ff"/><stop offset=".024" stop-color="#005dff"/><stop offset=".058" stop-color="#0061ff"/><stop offset=".154" stop-color="#0061ff"/><stop offset=".216" stop-color="#005bff"/><stop offset=".236" stop-color="#0060ff"/><stop offset=".250" stop-color="#006cff"/><stop offset=".264" stop-color="#0087ff"/><stop offset=".277" stop-color="#00b7ff"/><stop offset=".291" stop-color="#00f7ff"/><stop offset=".298" stop-color="#19ffe6"/><stop offset=".312" stop-color="#52ffad"/><stop offset=".318" stop-color="#68ff97"/><stop offset=".339" stop-color="#96ff69"/><stop offset=".353" stop-color="#aaff55"/><stop offset=".373" stop-color="#beff41"/><stop offset=".394" stop-color="#cbff34"/><stop offset=".421" stop-color="#d2ff2d"/><stop offset=".449" stop-color="#d2ff2d"/><stop offset=".483" stop-color="#caff35"/><stop offset=".627" stop-color="#95ff6a"/><stop offset=".709" stop-color="#81ff7e"/><stop offset=".812" stop-color="#78ff87"/><stop offset=".997" stop-color="#75ff8a"/></linearGradient>
<linearGradient id="ha125"><stop offset=".003" stop-color="#0055ff"/><stop offset=".031" stop-color="#005fff"/><stop offset=".072" stop-color="#0061ff"/><stop offset=".154" stop-color="#0061ff"/><stop offset=".216" stop-color="#0059ff"/><stop offset=".236" stop-color="#005bff"/><stop offset=".250" stop-color="#0065ff"/><stop offset=".264" stop-color="#007cff"/><stop offset=".277" stop-color="#00a6ff"/><stop offset=".291" stop-color="#00e3ff"/><stop offset=".298" stop-color="#06fff9"/><stop offset=".312" stop-color="#44ffbb"/><stop offset=".318" stop-color="#5dffa2"/><stop offset=".332" stop-color="#82ff7d"/><stop offset=".346" stop-color="#9bff64"/><stop offset=".360" stop-color="#adff52"/><stop offset=".380" stop-color="#c0ff3f"/><stop offset=".421" stop-color="#cfff30"/><stop offset=".449" stop-color="#ceff31"/><stop offset=".483" stop-color="#c7ff38"/><stop offset=".627" stop-color="#92ff6d"/><stop offset=".709" stop-color="#7eff81"/><stop offset=".812" stop-color="#75ff8a"/><stop offset=".997" stop-color="#73ff8c"/></linearGradient>
<linearGradient id="ha126"><stop offset=".003" stop-color="#0055ff"/><stop offset=".031" stop-color="#005fff"/><stop offset=".079" stop-color="#0062ff"/><stop offset=".161" stop-color="#0061ff"/><stop offset=".223" stop-color="#0055ff"/><stop offset=".243" stop-color="#0059ff"/><stop offset=".257" stop-color="#0066ff"/><stop offset=".271" stop-color="#0081ff"/><stop offset=".284" stop-color="#00afff"/><stop offset=".298" stop-color="#00efff"/><stop offset=".305" stop-color="#12ffed"/><stop offset=".318" stop-color="#4dffb2"/><stop offset=".325" stop-color="#64ff9b"/><stop offset=".332" stop-color="#77ff88"/><stop offset=".346" stop-color="#94ff6b"/><stop offset=".360" stop-color="#a7ff58"/><stop offset=".380" stop-color="#baff45"/><stop offset=".401" stop-color="#c5ff3a"/><stop offset=".421" stop-color="#caff35"/><stop offset=".483" stop-color="#c2ff3d"/><stop offset=".627" stop-color="#8eff71"/><stop offset=".709" stop-color="#7aff85"/><stop offset=".812" stop-color="#71ff8e"/><stop offset=".997" stop-color="#6fff90"/></linearGradient>
<linearGradient id="ha127"><stop offset=".003" stop-color="#0055ff"/><stop offset=".038" stop-color="#005fff"/><stop offset=".127" stop-color="#0062ff"/><stop offset=".175" stop-color="#005fff"/><stop offset=".223" stop-color="#0052ff"/><stop offset=".243" stop-color="#0054ff"/><stop offset=".264" stop-color="#0068ff"/><stop offset=".277" stop-color="#0086ff"/><stop offset=".291" stop-color="#00b8ff"/><stop offset=".305" stop-color="#00f9ff"/><stop offset=".312" stop-color="#1bffe4"/><stop offset=".318" stop-color="#39ffc6"/><stop offset=".332" stop-color="#6aff95"/><stop offset=".339" stop-color="#7bff84"/><stop offset=".353" stop-color="#96ff69"/><stop offset=".380" stop-color="#b3ff4c"/><stop offset=".401" stop-color="#beff41"/><stop offset=".421" stop-color="#c3ff3c"/><stop offset=".483" stop-color="#bbff44"/><stop offset=".627" stop-color="#88ff77"/><stop offset=".709" stop-color="#75ff8a"/><stop offset=".812" stop-color="#6cff93"/><stop offset=".997" stop-color="#6aff95"/></linearGradient>
<linearGradient id="ha128"><stop offset=".003" stop-color="#0055ff"/><stop offset=".045" stop-color="#0060ff"/><stop offset=".134" stop-color="#0062ff"/><stop offset=".175" stop-color="#005eff"/><stop offset=".229" stop-color="#004dff"/><stop offset=".250" stop-color="#0052ff"/><stop offset=".271" stop-color="#006aff"/><stop offset=".284" stop-color="#008bff"/><stop offset=".298" stop-color="#00bfff"/><stop offset=".312" stop-color="#02fffd"/><stop offset=".325" stop-color="#3fffc0"/><stop offset=".332" stop-color="#58ffa7"/><stop offset=".339" stop-color="#6cff93"/><stop offset=".353" stop-color="#8aff75"/><stop offset=".366" stop-color="#9dff62"/><stop offset=".380" stop-color="#aaff55"/><stop offset=".401" stop-color="#b5ff4a"/><stop offset=".421" stop-color="#baff45"/><stop offset=".483" stop-color="#b3ff4c"/><stop offset=".627" stop-color="#81ff7e"/><stop offset=".709" stop-color="#6eff91"/><stop offset=".812" stop-color="#65ff9a"/><stop offset=".997" stop-color="#63ff9c"/></linearGradient>
<linearGradient id="ha129"><stop offset=".003" stop-color="#0055ff"/><stop offset=".045" stop-color="#0060ff"/><stop offset=".140" stop-color="#0061ff"/><stop offset=".175" stop-color="#005dff"/><stop offset=".229" stop-color="#0049ff"/><stop offset=".250" stop-color="#004cff"/><stop offset=".271" stop-color="#0060ff"/><stop offset=".284" stop-color="#007cff"/><stop offset=".298" stop-color="#00a8ff"/><stop offset=".312" stop-color="#00e5ff"/><stop offset=".318" stop-color="#07fff8"/><stop offset=".332" stop-color="#42ffbd"/><stop offset=".339" stop-color="#59ffa6"/><stop offset=".346" stop-color="#6cff93"/><stop offset=".360" stop-color="#87ff78"/><stop offset=".373" stop-color="#98ff67"/><stop offset=".387" stop-color="#a3ff5c"/><stop offset=".421" stop-color="#afff50"/><stop offset=".483" stop-color="#a8ff57"/><stop offset=".627" stop-color="#77ff88"/><stop offset=".709" stop-color="#66ff99"/><stop offset=".812" stop-color="#5dffa2"/><stop offset=".997" stop-color="#5bffa4"/></linearGradient>
<linearGradient id="ha130"><stop offset=".003" stop-color="#0055ff"/><stop offset=".045" stop-color="#0060ff"/><stop offset=".147" stop-color="#0061ff"/><stop offset=".182" stop-color="#005aff"/><stop offset=".229" stop-color="#0044ff"/><stop offset=".250" stop-color="#0047ff"/><stop offset=".271" stop-color="#0058ff"/><stop offset=".284" stop-color="#006fff"/><stop offset=".291" stop-color="#0080ff"/><stop offset=".305" stop-color="#00adff"/><stop offset=".318" stop-color="#00eaff"/><stop offset=".325" stop-color="#0afff5"/><stop offset=".339" stop-color="#42ffbd"/><stop offset=".346" stop-color="#57ffa8"/><stop offset=".353" stop-color="#69ff96"/><stop offset=".366" stop-color="#81ff7e"/><stop offset=".387" stop-color="#96ff69"/><stop offset=".421" stop-color="#a1ff5e"/><stop offset=".483" stop-color="#9bff64"/><stop offset=".627" stop-color="#6cff93"/><stop offset=".709" stop-color="#5bffa4"/><stop offset=".812" stop-color="#53ffac"/><stop offset=".997" stop-color="#51ffae"/></linearGradient>
<linearGradient id="ha131"><stop offset=".003" stop-color="#0055ff"/><stop offset=".045" stop-color="#0060ff"/><stop offset=".147" stop-color="#0061ff"/><stop offset=".182" stop-color="#0059ff"/><stop offset=".229" stop-color="#0040ff"/><stop offset=".250" stop-color="#0041ff"/><stop offset=".271" stop-color="#0052ff"/><stop offset=".291" stop-color="#0072ff"/><stop offset=".305" stop-color="#0098ff"/><stop offset=".312" stop-color="#00b1ff"/><stop offset=".325" stop-color="#00ecff"/><stop offset=".332" stop-color="#0bfff4"/><stop offset=".346" stop-color="#3fffc0"/><stop offset=".353" stop-color="#53ffac"/><stop offset=".366" stop-color="#6fff90"/><stop offset=".380" stop-color="#80ff7f"/><stop offset=".394" stop-color="#8aff75"/><stop offset=".428" stop-color="#93ff6c"/><stop offset=".483" stop-color="#8cff73"/><stop offset=".627" stop-color="#60ff9f"/><stop offset=".709" stop-color="#4fffb0"/><stop offset=".812" stop-color="#47ffb8"/><stop offset=".997" stop-color="#45ffba"/></linearGradient>
<linearGradient id="ha132"><stop offset=".003" stop-color="#0055ff"/><stop offset=".045" stop-color="#0060ff"/><stop offset=".147" stop-color="#0061ff"/><stop offset=".182" stop-color="#0058ff"/><stop offset=".229" stop-color="#003cff"/><stop offset=".250" stop-color="#003dff"/><stop offset=".277" stop-color="#0054ff"/><stop offset=".298" stop-color="#0076ff"/><stop offset=".312" stop-color="#009bff"/><stop offset=".332" stop-color="#00ecff"/><stop offset=".339" stop-color="#0afff5"/><stop offset=".353" stop-color="#3affc5"/><stop offset=".360" stop-color="#4cffb3"/><stop offset=".373" stop-color="#65ff9a"/><stop offset=".394" stop-color="#78ff87"/><stop offset=".428" stop-color="#81ff7e"/><stop offset=".483" stop-color="#7bff84"/><stop offset=".627" stop-color="#51ffae"/><stop offset=".709" stop-color="#42ffbd"/><stop offset=".812" stop-color="#3affc5"/><stop offset=".997" stop-color="#38ffc7"/></linearGradient>
<linearGradient id="ha133"><stop offset=".003" stop-color="#0055ff"/><stop offset=".045" stop-color="#0060ff"/><stop offset=".154" stop-color="#0060ff"/><stop offset=".182" stop-color="#0057ff"/><stop offset=".229" stop-color="#0038ff"/><stop offset=".250" stop-color="#0039ff"/><stop offset=".277" stop-color="#004fff"/><stop offset=".291" stop-color="#0061ff"/><stop offset=".305" stop-color="#0079ff"/><stop offset=".318" stop-color="#009dff"/><stop offset=".339" stop-color="#00ebff"/><stop offset=".346" stop-color="#07fff8"/><stop offset=".360" stop-color="#32ffcd"/><stop offset=".366" stop-color="#42ffbd"/><stop offset=".380" stop-color="#57ffa8"/><stop offset=".401" stop-color="#67ff98"/><stop offset=".428" stop-color="#6eff91"/><stop offset=".483" stop-color="#68ff97"/><stop offset=".627" stop-color="#41ffbe"/><stop offset=".709" stop-color="#33ffcc"/><stop offset=".812" stop-color="#2cffd3"/><stop offset=".997" stop-color="#2affd5"/></linearGradient>
<linearGradient id="ha134"><stop offset=".003" stop-color="#0055ff"/><stop offset=".024" stop-color="#005dff"/><stop offset=".051" stop-color="#0061ff"/><stop offset=".154" stop-color="#0060ff"/><stop offset=".182" stop-color="#0057ff"/><stop offset=".229" stop-color="#0034ff"/><stop offset=".250" stop-color="#0035ff"/><stop offset=".284" stop-color="#0053ff"/><stop offset=".312" stop-color="#007bff"/><stop offset=".325" stop-color="#009eff"/><stop offset=".353" stop-color="#01fffe"/><stop offset=".366" stop-color="#28ffd7"/><stop offset=".373" stop-color="#35ffca"/><stop offset=".387" stop-color="#48ffb7"/><stop offset=".408" stop-color="#54ffab"/><stop offset=".435" stop-color="#59ffa6"/><stop offset=".483" stop-color="#54ffab"/><stop offset=".627" stop-color="#30ffcf"/><stop offset=".709" stop-color="#23ffdc"/><stop offset=".812" stop-color="#1cffe3"/><stop offset=".997" stop-color="#1bffe4"/></linearGradient>
<linearGradient id="ha135"><stop offset=".003" stop-color="#0055ff"/><stop offset=".024" stop-color="#005dff"/><stop offset=".051" stop-color="#0061ff"/><stop offset=".154" stop-color="#0060ff"/><stop offset=".182" stop-color="#0056ff"/><stop offset=".229" stop-color="#0031ff"/><stop offset=".250" stop-color="#0032ff"/><stop offset=".264" stop-color="#003bff"/><stop offset=".291" stop-color="#0057ff"/><stop offset=".318" stop-color="#007dff"/><stop offset=".332" stop-color="#009eff"/><stop offset=".360" stop-color="#00f8ff"/><stop offset=".366" stop-color="#0cfff3"/><stop offset=".380" stop-color="#27ffd8"/><stop offset=".394" stop-color="#36ffc9"/><stop offset=".414" stop-color="#40ffbf"/><stop offset=".442" stop-color="#43ffbc"/><stop offset=".497" stop-color="#3cffc3"/><stop offset=".634" stop-color="#1cffe3"/><stop offset=".709" stop-color="#11ffee"/><stop offset=".812" stop-color="#0cfff3"/><stop offset=".997" stop-color="#0afff5"/></linearGradient>
<linearGradient id="ha136"><stop offset=".003" stop-color="#0055ff"/><stop offset=".024" stop-color="#005dff"/><stop offset=".051" stop-color="#0061ff"/><stop offset=".154" stop-color="#0060ff"/><stop offset=".182" stop-color="#0055ff"/><stop offset=".229" stop-color="#002fff"/><stop offset=".250" stop-color="#002fff"/><stop offset=".264" stop-color="#0039ff"/><stop offset=".305" stop-color="#0062ff"/><stop offset=".325" stop-color="#007eff"/><stop offset=".339" stop-color="#009dff"/><stop offset=".360" stop-color="#00dcff"/><stop offset=".373" stop-color="#00ffff"/><stop offset=".387" stop-color="#16ffe9"/><stop offset=".401" stop-color="#23ffdc"/><stop offset=".421" stop-color="#2affd5"/><stop offset=".442" stop-color="#2cffd3"/><stop offset=".702" stop-color="#00ffff"/><stop offset=".812" stop-color="#00f9ff"/><stop offset=".997" stop-color="#00f8ff"/></linearGradient>
<linearGradient id="ha137"><stop offset=".003" stop-color="#0055ff"/><stop offset=".024" stop-color="#005dff"/><stop offset=".051" stop-color="#0061ff"/><stop offset=".154" stop-color="#005fff"/><stop offset=".182" stop-color="#0055ff"/><stop offset=".229" stop-color="#002dff"/><stop offset=".250" stop-color="#002dff"/><stop offset=".264" stop-color="#0037ff"/><stop offset=".325" stop-color="#0074ff"/><stop offset=".339" stop-color="#008cff"/><stop offset=".373" stop-color="#00e4ff"/><stop offset=".387" stop-color="#00fcff"/><stop offset=".394" stop-color="#05fffa"/><stop offset=".414" stop-color="#11ffee"/><stop offset=".442" stop-color="#15ffea"/><stop offset=".579" stop-color="#00ffff"/><stop offset=".736" stop-color="#00ebff"/><stop offset=".997" stop-color="#00e7ff"/></linearGradient>
<linearGradient id="ha138"><stop offset=".003" stop-color="#0055ff"/><stop offset=".024" stop-color="#005dff"/><stop offset=".051" stop-color="#0061ff"/><stop offset=".154" stop-color="#005fff"/><stop offset=".182" stop-color="#0055ff"/><stop offset=".229" stop-color="#002cff"/><stop offset=".250" stop-color="#002cff"/><stop offset=".332" stop-color="#0075ff"/><stop offset=".346" stop-color="#008bff"/><stop offset=".373" stop-color="#00cbff"/><stop offset=".387" stop-color="#00e3ff"/><stop offset=".408" stop-color="#00f6ff"/><stop offset=".428" stop-color="#00fcff"/><stop offset=".483" stop-color="#00faff"/><stop offset=".709" stop-color="#00dbff"/><stop offset=".997" stop-color="#00d6ff"/></linearGradient>
<linearGradient id="ha139"><stop offset=".003" stop-color="#0055ff"/><stop offset=".024" stop-color="#005dff"/><stop offset=".051" stop-color="#0061ff"/><stop offset=".154" stop-color="#005fff"/><stop offset=".182" stop-color="#0055ff"/><stop offset=".229" stop-color="#002cff"/><stop offset=".250" stop-color="#002cff"/><stop offset=".339" stop-color="#0075ff"/><stop offset=".353" stop-color="#0089ff"/><stop offset=".380" stop-color="#00c0ff"/><stop offset=".394" stop-color="#00d4ff"/><stop offset=".414" stop-color="#00e2ff"/><stop offset=".435" stop-color="#00e6ff"/><stop offset=".483" stop-color="#00e5ff"/><stop offset=".709" stop-color="#00caff"/><stop offset=".997" stop-color="#00c5ff"/></linearGradient>
<linearGradient id="ha140"><stop offset=".003" stop-color="#0055ff"/><stop offset=".024" stop-color="#005dff"/><stop offset=".051" stop-color="#0061ff"/><stop offset=".154" stop-color="#005fff"/><stop offset=".182" stop-color="#0055ff"/><stop offset=".229" stop-color="#002dff"/><stop offset=".243" stop-color="#002bff"/><stop offset=".257" stop-color="#0031ff"/><stop offset=".298" stop-color="#0056ff"/><stop offset=".346" stop-color="#0074ff"/><stop offset=".387" stop-color="#00b5ff"/><stop offset=".401" stop-color="#00c4ff"/><stop offset=".435" stop-color="#00d1ff"/><stop offset=".483" stop-color="#00d0ff"/><stop offset=".709" stop-color="#00b9ff"/><stop offset=".997" stop-color="#00b6ff"/></linearGradient>
<linearGradient id="ha141"><stop offset=".003" stop-color="#0055ff"/><stop offset=".024" stop-color="#005dff"/><stop offset=".051" stop-color="#0061ff"/><stop offset=".154" stop-color="#005fff"/><stop offset=".182" stop-color="#0055ff"/><stop offset=".229" stop-color="#002fff"/><stop offset=".243" stop-color="#002cff"/><stop offset=".257" stop-color="#0032ff"/><stop offset=".298" stop-color="#0055ff"/><stop offset=".346" stop-color="#006eff"/><stop offset=".360" stop-color="#007bff"/><stop offset=".387" stop-color="#00a2ff"/><stop offset=".401" stop-color="#00b0ff"/><stop offset=".435" stop-color="#00bdff"/><stop offset=".490" stop-color="#00bdff"/><stop offset=".702" stop-color="#00aaff"/><stop offset=".997" stop-color="#00a7ff"/></linearGradient>
<linearGradient id="ha142"><stop offset=".003" stop-color="#0055ff"/><stop offset=".024" stop-color="#005dff"/><stop offset=".051" stop-color="#0061ff"/><stop offset=".154" stop-color="#005fff"/><stop offset=".182" stop-color="#0055ff"/><stop offset=".229" stop-color="#0031ff"/><stop offset=".243" stop-color="#002fff"/><stop offset=".257" stop-color="#0034ff"/><stop offset=".298" stop-color="#0055ff"/><stop offset=".353" stop-color="#006dff"/><stop offset=".394" stop-color="#0098ff"/><stop offset=".408" stop-color="#00a3ff"/><stop offset=".442" stop-color="#00acff"/><stop offset=".702" stop-color="#009cff"/><stop offset=".997" stop-color="#0099ff"/></linearGradient>
<linearGradient id="ha143"><stop offset=".003" stop-color="#0055ff"/><stop offset=".024" stop-color="#005dff"/><stop offset=".051" stop-color="#0060ff"/><stop offset=".154" stop-color="#005fff"/><stop offset=".182" stop-color="#0056ff"/><stop offset=".229" stop-color="#0033ff"/><stop offset=".243" stop-color="#0031ff"/><stop offset=".257" stop-color="#0036ff"/><stop offset=".305" stop-color="#0058ff"/><stop offset=".360" stop-color="#006bff"/><stop offset=".408" stop-color="#0093ff"/><stop offset=".435" stop-color="#009aff"/><stop offset=".497" stop-color="#009bff"/><stop offset=".702" stop-color="#008eff"/><stop offset=".997" stop-color="#008dff"/></linearGradient>
<linearGradient id="ha144"><stop offset=".003" stop-color="#0055ff"/><stop offset=".024" stop-color="#005dff"/><stop offset=".051" stop-color="#0060ff"/><stop offset=".154" stop-color="#005fff"/><stop offset=".182" stop-color="#0056ff"/><stop offset=".229" stop-color="#0036ff"/><stop offset=".243" stop-color="#0034ff"/><stop offset=".257" stop-color="#0038ff"/><stop offset=".305" stop-color="#0056ff"/><stop offset=".360" stop-color="#0066ff"/><stop offset=".408" stop-color="#0084ff"/><stop offset=".442" stop-color="#008cff"/><stop offset=".497" stop-color="#008eff"/><stop offset=".695" stop-color="#0081ff"/><stop offset=".997" stop-color="#0080ff"/></linearGradient>
<linearGradient id="ha145"><stop offset=".003" stop-color="#0055ff"/><stop offset=".045" stop-color="#005fff"/><stop offset=".147" stop-color="#005fff"/><stop offset=".175" stop-color="#0058ff"/><stop offset=".223" stop-color="#003cff"/><stop offset=".243" stop-color="#0037ff"/><stop offset=".305" stop-color="#0053ff"/><stop offset=".360" stop-color="#0060ff"/><stop offset=".408" stop-color="#0076ff"/><stop offset=".469" stop-color="#0080ff"/><stop offset=".695" stop-color="#0074ff"/><stop offset=".771" stop-color="#0079ff"/><stop offset=".997" stop-color="#0074ff"/></linearGradient>
<linearGradient id="ha146"><stop offset=".003" stop-color="#0054ff"/><stop offset=".045" stop-color="#005fff"/><stop offset=".140" stop-color="#005eff"/><stop offset=".175" stop-color="#0057ff"/><stop offset=".223" stop-color="#003eff"/><stop offset=".243" stop-color="#0039ff"/><stop offset=".305" stop-color="#004eff"/><stop offset=".408" stop-color="#0069ff"/><stop offset=".490" stop-color="#0075ff"/><stop offset=".565" stop-color="#006cff"/><stop offset=".634" stop-color="#006dff"/><stop offset=".695" stop-color="#0067ff"/><stop offset=".771" stop-color="#006fff"/><stop offset=".832" stop-color="#006aff"/><stop offset=".901" stop-color="#006dff"/><stop offset=".962" stop-color="#0065ff"/><stop offset=".997" stop-color="#0068ff"/></linearGradient>
<linearGradient id="ha147"><stop offset=".003" stop-color="#0054ff"/><stop offset=".045" stop-color="#005eff"/><stop offset=".134" stop-color="#005dff"/><stop offset=".175" stop-color="#0055ff"/><stop offset=".223" stop-color="#003fff"/><stop offset=".243" stop-color="#003aff"/><stop offset=".353" stop-color="#0053ff"/><stop offset=".497" stop-color="#006bff"/><stop offset=".565" stop-color="#005fff"/><stop offset=".634" stop-color="#0062ff"/><stop offset=".695" stop-color="#0059ff"/><stop offset=".771" stop-color="#0066ff"/><stop offset=".832" stop-color="#005eff"/><stop offset=".901" stop-color="#0063ff"/><stop offset=".962" stop-color="#0057ff"/><stop offset=".997" stop-color="#005bff"/></linearGradient>
<linearGradient id="ha148"><stop offset=".003" stop-color="#0054ff"/><stop offset=".038" stop-color="#005dff"/><stop offset=".127" stop-color="#005dff"/><stop offset=".168" stop-color="#0056ff"/><stop offset=".229" stop-color="#003fff"/><stop offset=".250" stop-color="#003cff"/><stop offset=".366" stop-color="#0050ff"/><stop offset=".435" stop-color="#0054ff"/><stop offset=".497" stop-color="#0063ff"/><stop offset=".565" stop-color="#0053ff"/><stop offset=".634" stop-color="#0058ff"/><stop offset=".695" stop-color="#004cff"/><stop offset=".771" stop-color="#005eff"/><stop offset=".832" stop-color="#0054ff"/><stop offset=".901" stop-color="#005aff"/><stop offset=".962" stop-color="#004bff"/><stop offset=".997" stop-color="#0050ff"/></linearGradient>
<linearGradient id="ha149"><stop offset=".003" stop-color="#0053ff"/><stop offset=".038" stop-color="#005cff"/><stop offset=".120" stop-color="#005dff"/><stop offset=".175" stop-color="#0053ff"/><stop offset=".236" stop-color="#003fff"/><stop offset=".264" stop-color="#003cff"/><stop offset=".305" stop-color="#003eff"/><stop offset=".366" stop-color="#004bff"/><stop offset=".435" stop-color="#004aff"/><stop offset=".497" stop-color="#005cff"/><stop offset=".517" stop-color="#005aff"/><stop offset=".565" stop-color="#0049ff"/><stop offset=".634" stop-color="#0050ff"/><stop offset=".695" stop-color="#0043ff"/><stop offset=".771" stop-color="#0058ff"/><stop offset=".832" stop-color="#004bff"/><stop offset=".901" stop-color="#0053ff"/><stop offset=".962" stop-color="#0041ff"/><stop offset=".997" stop-color="#0047ff"/></linearGradient>
<linearGradient id="ha150"><stop offset=".003" stop-color="#0053ff"/><stop offset=".038" stop-color="#005cff"/><stop offset=".113" stop-color="#005dff"/><stop offset=".243" stop-color="#0040ff"/><stop offset=".291" stop-color="#003bff"/><stop offset=".366" stop-color="#0048ff"/><stop offset=".435" stop-color="#0044ff"/><stop offset=".497" stop-color="#0057ff"/><stop offset=".517" stop-color="#0055ff"/><stop offset=".565" stop-color="#0043ff"/><stop offset=".634" stop-color="#004aff"/><stop offset=".695" stop-color="#003cff"/><stop offset=".771" stop-color="#0053ff"/><stop offset=".832" stop-color="#0046ff"/><stop offset=".901" stop-color="#004eff"/><stop offset=".962" stop-color="#003aff"/><stop offset=".997" stop-color="#0041ff"/></linearGradient>
<linearGradient id="ha151"><stop offset=".003" stop-color="#0053ff"/><stop offset=".038" stop-color="#005cff"/><stop offset=".113" stop-color="#005dff"/><stop offset=".298" stop-color="#003aff"/><stop offset=".366" stop-color="#0046ff"/><stop offset=".435" stop-color="#003fff"/><stop offset=".497" stop-color="#0054ff"/><stop offset=".517" stop-color="#0051ff"/><stop offset=".565" stop-color="#003eff"/><stop offset=".634" stop-color="#0047ff"/><stop offset=".695" stop-color="#0037ff"/><stop offset=".771" stop-color="#0050ff"/><stop offset=".832" stop-color="#0042ff"/><stop offset=".901" stop-color="#004bff"/><stop offset=".962" stop-color="#0035ff"/><stop offset=".997" stop-color="#003cff"/></linearGradient>
<linearGradient id="ha152"><stop offset=".003" stop-color="#0053ff"/><stop offset=".038" stop-color="#005cff"/><stop offset=".113" stop-color="#005cff"/><stop offset=".305" stop-color="#0039ff"/><stop offset=".366" stop-color="#0045ff"/><stop offset=".435" stop-color="#003dff"/><stop offset=".497" stop-color="#0052ff"/><stop offset=".517" stop-color="#004fff"/><stop offset=".565" stop-color="#003bff"/><stop offset=".634" stop-color="#0044ff"/><stop offset=".695" stop-color="#0034ff"/><stop offset=".771" stop-color="#004fff"/><stop offset=".832" stop-color="#003fff"/><stop offset=".901" stop-color="#0049ff"/><stop offset=".962" stop-color="#0032ff"/><stop offset=".997" stop-color="#003aff"/></linearGradient>
<linearGradient id="ha153"><stop offset=".003" stop-color="#0053ff"/><stop offset=".038" stop-color="#005bff"/><stop offset=".113" stop-color="#005cff"/><stop offset=".229" stop-color="#004bff"/><stop offset=".305" stop-color="#0039ff"/><stop offset=".366" stop-color="#0044ff"/><stop offset=".435" stop-color="#003bff"/><stop offset=".483" stop-color="#004eff"/><stop offset=".503" stop-color="#0050ff"/><stop offset=".565" stop-color="#003aff"/><stop offset=".634" stop-color="#0043ff"/><stop offset=".695" stop-color="#0033ff"/><stop offset=".716" stop-color="#0037ff"/><stop offset=".750" stop-color="#0048ff"/><stop offset=".771" stop-color="#004dff"/><stop offset=".832" stop-color="#003eff"/><stop offset=".901" stop-color="#0048ff"/><stop offset=".962" stop-color="#0031ff"/><stop offset=".997" stop-color="#0038ff"/></linearGradient>
<linearGradient id="ha154"><stop offset=".003" stop-color="#0053ff"/><stop offset=".038" stop-color="#005bff"/><stop offset=".113" stop-color="#005cff"/><stop offset=".229" stop-color="#004dff"/><stop offset=".305" stop-color="#0039ff"/><stop offset=".366" stop-color="#0044ff"/><stop offset=".435" stop-color="#003aff"/><stop offset=".483" stop-color="#004dff"/><stop offset=".503" stop-color="#0050ff"/><stop offset=".565" stop-color="#0039ff"/><stop offset=".634" stop-color="#0042ff"/><stop offset=".695" stop-color="#0032ff"/><stop offset=".716" stop-color="#0036ff"/><stop offset=".750" stop-color="#0048ff"/><stop offset=".771" stop-color="#004dff"/><stop offset=".832" stop-color="#003dff"/><stop offset=".901" stop-color="#0047ff"/><stop offset=".962" stop-color="#0030ff"/><stop offset=".997" stop-color="#0038ff"/></linearGradient>
<linearGradient id="ha155"><stop offset=".003" stop-color="#0053ff"/><stop offset=".038" stop-color="#005bff"/><stop offset=".113" stop-color="#005cff"/><stop offset=".236" stop-color="#004dff"/><stop offset=".305" stop-color="#0039ff"/><stop offset=".366" stop-color="#0044ff"/><stop offset=".435" stop-color="#0039ff"/><stop offset=".483" stop-color="#004cff"/><stop offset=".503" stop-color="#004fff"/><stop offset=".565" stop-color="#0038ff"/><stop offset=".634" stop-color="#0042ff"/><stop offset=".695" stop-color="#0031ff"/><stop offset=".716" stop-color="#0036ff"/><stop offset=".750" stop-color="#0047ff"/><stop offset=".771" stop-color="#004cff"/><stop offset=".832" stop-color="#003dff"/><stop offset=".901" stop-color="#0047ff"/><stop offset=".962" stop-color="#002fff"/><stop offset=".997" stop-color="#0037ff"/></linearGradient>
<linearGradient id="ha156"><stop offset=".003" stop-color="#0053ff"/><stop offset=".038" stop-color="#005bff"/><stop offset=".113" stop-color="#005cff"/><stop offset=".236" stop-color="#004fff"/><stop offset=".305" stop-color="#0039ff"/><stop offset=".366" stop-color="#0044ff"/><stop offset=".435" stop-color="#0039ff"/><stop offset=".483" stop-color="#004cff"/><stop offset=".503" stop-color="#004fff"/><stop offset=".565" stop-color="#0038ff"/><stop offset=".634" stop-color="#0041ff"/><stop offset=".695" stop-color="#0031ff"/><stop offset=".716" stop-color="#0035ff"/><stop offset=".750" stop-color="#0047ff"/><stop offset=".771" stop-color="#004cff"/><stop offset=".832" stop-color="#003cff"/><stop offset=".901" stop-color="#0046ff"/><stop offset=".962" stop-color="#002fff"/><stop offset=".997" stop-color="#0037ff"/></linearGradient>
<linearGradient id="ha157"><stop offset=".003" stop-color="#0053ff"/><stop offset=".038" stop-color="#005bff"/><stop offset=".113" stop-color="#005cff"/><stop offset=".175" stop-color="#0053ff"/><stop offset=".236" stop-color="#0050ff"/><stop offset=".305" stop-color="#0039ff"/><stop offset=".366" stop-color="#0044ff"/><stop offset=".435" stop-color="#0039ff"/><stop offset=".483" stop-color="#004cff"/><stop offset=".503" stop-color="#004fff"/><stop offset=".565" stop-color="#0038ff"/><stop offset=".634" stop-color="#0041ff"/><stop offset=".695" stop-color="#0031ff"/><stop offset=".716" stop-color="#0035ff"/><stop offset=".750" stop-color="#0047ff"/><stop offset=".771" stop-color="#004cff"/><stop offset=".832" stop-color="#003cff"/><stop offset=".901" stop-color="#0046ff"/><stop offset=".962" stop-color="#002fff"/><stop offset=".997" stop-color="#0037ff"/></linearGradient>
<linearGradient id="ha158"><stop offset=".003" stop-color="#0053ff"/><stop offset=".038" stop-color="#005bff"/><stop offset=".113" stop-color="#005cff"/><stop offset=".175" stop-color="#0053ff"/><stop offset=".236" stop-color="#0051ff"/><stop offset=".291" stop-color="#003cff"/><stop offset=".312" stop-color="#0039ff"/><stop offset=".366" stop-color="#0044ff"/><stop offset=".435" stop-color="#0039ff"/><stop offset=".483" stop-color="#004cff"/><stop offset=".503" stop-color="#004fff"/><stop offset=".565" stop-color="#0038ff"/><stop offset=".634" stop-color="#0041ff"/><stop offset=".695" stop-color="#0031ff"/><stop offset=".716" stop-color="#0035ff"/><stop offset=".750" stop-color="#0047ff"/><stop offset=".771" stop-color="#004cff"/><stop offset=".832" stop-color="#003cff"/><stop offset=".901" stop-color="#0046ff"/><stop offset=".962" stop-color="#002fff"/><stop offset=".997" stop-color="#0036ff"/></linearGradient>
<linearGradient id="ha159"><stop offset=".003" stop-color="#0053ff"/><stop offset=".031" stop-color="#005bff"/><stop offset=".092" stop-color="#005dff"/><stop offset=".175" stop-color="#0053ff"/><stop offset=".229" stop-color="#0053ff"/><stop offset=".291" stop-color="#003cff"/><stop offset=".312" stop-color="#0039ff"/><stop offset=".366" stop-color="#0044ff"/><stop offset=".435" stop-color="#0039ff"/><stop offset=".483" stop-color="#004bff"/><stop offset=".503" stop-color="#004eff"/><stop offset=".565" stop-color="#0037ff"/><stop offset=".634" stop-color="#0041ff"/><stop offset=".695" stop-color="#0031ff"/><stop offset=".716" stop-color="#0035ff"/><stop offset=".750" stop-color="#0047ff"/><stop offset=".771" stop-color="#004cff"/><stop offset=".832" stop-color="#003cff"/><stop offset=".901" stop-color="#0046ff"/><stop offset=".962" stop-color="#002fff"/><stop offset=".997" stop-color="#0036ff"/></linearGradient>
<linearGradient id="ha160"><stop offset=".003" stop-color="#0053ff"/><stop offset=".031" stop-color="#005bff"/><stop offset=".092" stop-color="#005dff"/><stop offset=".175" stop-color="#0053ff"/><stop offset=".229" stop-color="#0053ff"/><stop offset=".291" stop-color="#003dff"/><stop offset=".312" stop-color="#0039ff"/><stop offset=".366" stop-color="#0044ff"/><stop offset=".435" stop-color="#0039ff"/><stop offset=".483" stop-color="#004bff"/><stop offset=".503" stop-color="#004eff"/><stop offset=".565" stop-color="#0037ff"/><stop offset=".634" stop-color="#0041ff"/><stop offset=".695" stop-color="#0030ff"/><stop offset=".716" stop-color="#0035ff"/><stop offset=".750" stop-color="#0046ff"/><stop offset=".771" stop-color="#004cff"/><stop offset=".832" stop-color="#003cff"/><stop offset=".901" stop-color="#0046ff"/><stop offset=".962" stop-color="#002fff"/><stop offset=".997" stop-color="#0036ff"/></linearGradient>
<linearGradient id="ha161"><stop offset=".003" stop-color="#0053ff"/><stop offset=".031" stop-color="#005bff"/><stop offset=".086" stop-color="#005dff"/><stop offset=".175" stop-color="#0053ff"/><stop offset=".229" stop-color="#0054ff"/><stop offset=".291" stop-color="#003dff"/><stop offset=".312" stop-color="#0039ff"/><stop offset=".366" stop-color="#0044ff"/><stop offset=".435" stop-color="#0039ff"/><stop offset=".483" stop-color="#004bff"/><stop offset=".503" stop-color="#004eff"/><stop offset=".565" stop-color="#0037ff"/><stop offset=".634" stop-color="#0041ff"/><stop offset=".695" stop-color="#0030ff"/><stop offset=".716" stop-color="#0035ff"/><stop offset=".750" stop-color="#0046ff"/><stop offset=".771" stop-color="#004cff"/><stop offset=".832" stop-color="#003cff"/><stop offset=".901" stop-color="#0046ff"/><stop offset=".962" stop-color="#002fff"/><stop offset=".997" stop-color="#0036ff"/></linearGradient>
<linearGradient id="ha162"><stop offset=".003" stop-color="#0053ff"/><stop offset=".031" stop-color="#005bff"/><stop offset=".086" stop-color="#005dff"/><stop offset=".175" stop-color="#0053ff"/><stop offset=".229" stop-color="#0054ff"/><stop offset=".291" stop-color="#003dff"/><stop offset=".312" stop-color="#0039ff"/><stop offset=".366" stop-color="#0044ff"/><stop offset=".435" stop-color="#0039ff"/><stop offset=".483" stop-color="#004bff"/><stop offset=".503" stop-color="#004eff"/><stop offset=".565" stop-color="#0037ff"/><stop offset=".634" stop-color="#0041ff"/><stop offset=".695" stop-color="#0030ff"/><stop offset=".716" stop-color="#0035ff"/><stop offset=".750" stop-color="#0046ff"/><stop offset=".771" stop-color="#004cff"/><stop offset=".832" stop-color="#003cff"/><stop offset=".901" stop-color="#0046ff"/><stop offset=".962" stop-color="#002fff"/><stop offset=".997" stop-color="#0036ff"/></linearGradient>
<linearGradient id="ha163"><stop offset=".003" stop-color="#0053ff"/><stop offset=".031" stop-color="#005bff"/><stop offset=".086" stop-color="#005dff"/><stop offset=".175" stop-color="#0053ff"/><stop offset=".229" stop-color="#0054ff"/><stop offset=".291" stop-color="#003dff"/><stop offset=".312" stop-color="#0039ff"/><stop offset=".366" stop-color="#0044ff"/><stop offset=".435" stop-color="#0039ff"/><stop offset=".483" stop-color="#004bff"/><stop offset=".503" stop-color="#004eff"/><stop offset=".565" stop-color="#0037ff"/><stop offset=".634" stop-color="#0041ff"/><stop offset=".695" stop-color="#0030ff"/><stop offset=".716" stop-color="#0035ff"/><stop offset=".750" stop-color="#0046ff"/><stop offset=".771" stop-color="#004cff"/><stop offset=".832" stop-color="#003cff"/><stop offset=".901" stop-color="#0046ff"/><stop offset=".962" stop-color="#002fff"/><stop offset=".997" stop-color="#0036ff"/></linearGradient>
<linearGradient id="ha164"><stop offset=".003" stop-color="#0053ff"/><stop offset=".031" stop-color="#005bff"/><stop offset=".086" stop-color="#005dff"/><stop offset=".175" stop-color="#0053ff"/><stop offset=".229" stop-color="#0054ff"/><stop offset=".250" stop-color="#0050ff"/><stop offset=".291" stop-color="#003dff"/><stop offset=".312" stop-color="#0039ff"/><stop offset=".366" stop-color="#0044ff"/><stop offset=".435" stop-color="#0039ff"/><stop offset=".483" stop-color="#004bff"/><stop offset=".503" stop-color="#004eff"/><stop offset=".565" stop-color="#0037ff"/><stop offset=".634" stop-color="#0041ff"/><stop offset=".695" stop-color="#0030ff"/><stop offset=".716" stop-color="#0035ff"/><stop offset=".750" stop-color="#0046ff"/><stop offset=".771" stop-color="#004cff"/><stop offset=".832" stop-color="#003cff"/><stop offset=".901" stop-color="#0046ff"/><stop offset=".962" stop-color="#002fff"/><stop offset=".997" stop-color="#0036ff"/></linearGradient>
<linearGradient id="ha165"><stop offset=".003" stop-color="#0053ff"/><stop offset=".031" stop-color="#005bff"/><stop offset=".086" stop-color="#005dff"/><stop offset=".175" stop-color="#0053ff"/><stop offset=".229" stop-color="#0055ff"/><stop offset=".250" stop-color="#0050ff"/><stop offset=".291" stop-color="#003dff"/><stop offset=".312" stop-color="#0039ff"/><stop offset=".366" stop-color="#0044ff"/><stop offset=".435" stop-color="#0039ff"/><stop offset=".483" stop-color="#004bff"/><stop offset=".503" stop-color="#004eff"/><stop offset=".565" stop-color="#0037ff"/><stop offset=".634" stop-color="#0041ff"/><stop offset=".695" stop-color="#0030ff"/><stop offset=".716" stop-color="#0035ff"/><stop offset=".750" stop-color="#0046ff"/><stop offset=".771" stop-color="#004cff"/><stop offset=".832" stop-color="#003cff"/><stop offset=".901" stop-color="#0046ff"/><stop offset=".962" stop-color="#002fff"/><stop offset=".997" stop-color="#0036ff"/></linearGradient>
<linearGradient id="ha166"><stop offset=".003" stop-color="#0053ff"/><stop offset=".031" stop-color="#005bff"/><stop offset=".086" stop-color="#005dff"/><stop offset=".175" stop-color="#0053ff"/><stop offset=".229" stop-color="#0055ff"/><stop offset=".250" stop-color="#0050ff"/><stop offset=".291" stop-color="#003dff"/><stop offset=".312" stop-color="#0039ff"/><stop offset=".366" stop-color="#0044ff"/><stop offset=".435" stop-color="#0039ff"/><stop offset=".483" stop-color="#004bff"/><stop offset=".503" stop-color="#004eff"/><stop offset=".565" stop-color="#0037ff"/><stop offset=".634" stop-color="#0041ff"/><stop offset=".695" stop-color="#0030ff"/><stop offset=".716" stop-color="#0035ff"/><stop offset=".750" stop-color="#0046ff"/><stop offset=".771" stop-color="#004cff"/><stop offset=".832" stop-color="#003cff"/><stop offset=".901" stop-color="#0046ff"/><stop offset=".962" stop-color="#002eff"/><stop offset=".997" stop-color="#0036ff"/></linearGradient>
<linearGradient id="ha167"><stop offset=".003" stop-color="#0053ff"/><stop offset=".031" stop-color="#005bff"/><stop offset=".086" stop-color="#005dff"/><stop offset=".175" stop-color="#0053ff"/><stop offset=".229" stop-color="#0055ff"/><stop offset=".250" stop-color="#0050ff"/><stop offset=".291" stop-color="#003dff"/><stop offset=".312" stop-color="#0039ff"/><stop offset=".366" stop-color="#0044ff"/><stop offset=".435" stop-color="#0039ff"/><stop offset=".483" stop-color="#004bff"/><stop offset=".503" stop-color="#004eff"/><stop offset=".565" stop-color="#0037ff"/><stop offset=".634" stop-color="#0041ff"/><stop offset=".695" stop-color="#0030ff"/><stop offset=".716" stop-color="#0035ff"/><stop offset=".750" stop-color="#0046ff"/><stop offset=".771" stop-color="#004cff"/><stop offset=".832" stop-color="#003cff"/><stop offset=".901" stop-color="#0046ff"/><stop offset=".962" stop-color="#002eff"/><stop offset=".997" stop-color="#0036ff"/></linearGradient>
<linearGradient id="ha168"><stop offset=".003" stop-color="#0053ff"/><stop offset=".031" stop-color="#005bff"/><stop offset=".086" stop-color="#005dff"/><stop offset=".175" stop-color="#0053ff"/><stop offset=".229" stop-color="#0055ff"/><stop offset=".250" stop-color="#0050ff"/><stop offset=".291" stop-color="#003dff"/><stop offset=".312" stop-color="#0039ff"/><stop offset=".366" stop-color="#0044ff"/><stop offset=".435" stop-color="#0039ff"/><stop offset=".483" stop-color="#004bff"/><stop offset=".503" stop-color="#004eff"/><stop offset=".565" stop-color="#0037ff"/><stop offset=".634" stop-color="#0041ff"/><stop offset=".695" stop-color="#0030ff"/><stop offset=".716" stop-color="#0035ff"/><stop offset=".750" stop-color="#0046ff"/><stop offset=".771" stop-color="#004cff"/><stop offset=".832" stop-color="#003cff"/><stop offset=".901" stop-color="#0046ff"/><stop offset=".962" stop-color="#002eff"/><stop offset=".997" stop-color="#0036ff"/></linearGradient>
<linearGradient id="hb0"><stop offset=".003" stop-color="#0055ff"/><stop offset=".024" stop-color="#005dff"/><stop offset=".051" stop-color="#0061ff"/><stop offset=".305" stop-color="#0063ff"/><stop offset=".483" stop-color="#0074ff"/><stop offset=".997" stop-color="#0073ff"/></linearGradient>
<linearGradient id="hb1"><stop offset=".003" stop-color="#0055ff"/><stop offset=".024" stop-color="#005dff"/><stop offset=".051" stop-color="#0061ff"/><stop offset=".305" stop-color="#0063ff"/><stop offset=".483" stop-color="#0074ff"/><stop offset=".997" stop-color="#0074ff"/></linearGradient>
<linearGradient id="hb2"><stop offset=".003" stop-color="#0055ff"/><stop offset=".024" stop-color="#005dff"/><stop offset=".051" stop-color="#0061ff"/><stop offset=".305" stop-color="#0063ff"/><stop offset=".483" stop-color="#0075ff"/><stop offset=".997" stop-color="#0074ff"/></linearGradient>
<linearGradient id="hb3"><stop offset=".003" stop-color="#0055ff"/><stop offset=".024" stop-color="#005dff"/><stop offset=".051" stop-color="#0061ff"/><stop offset=".305" stop-color="#0063ff"/><stop offset=".483" stop-color="#0076ff"/><stop offset=".997" stop-color="#0075ff"/></linearGradient>
<linearGradient id="hb4"><stop offset=".003" stop-color="#0055ff"/><stop offset=".024" stop-color="#005dff"/><stop offset=".051" stop-color="#0061ff"/><stop offset=".305" stop-color="#0063ff"/><stop offset=".483" stop-color="#0076ff"/><stop offset=".997" stop-color="#0075ff"/></linearGradient>
<linearGradient id="hb5"><stop offset=".003" stop-color="#0055ff"/><stop offset=".024" stop-color="#005dff"/><stop offset=".051" stop-color="#0061ff"/><stop offset=".305" stop-color="#0063ff"/><stop offset=".483" stop-color="#0077ff"/><stop offset=".997" stop-color="#0076ff"/></linearGradient>
<linearGradient id="hb6"><stop offset=".003" stop-color="#0055ff"/><stop offset=".024" stop-color="#005dff"/><stop offset=".051" stop-color="#0061ff"/><stop offset=".305" stop-color="#0063ff"/><stop offset=".483" stop-color="#0077ff"/><stop offset=".997" stop-color="#0076ff"/></linearGradient>
<linearGradient id="hb7"><stop offset=".003" stop-color="#0055ff"/><stop offset=".024" stop-color="#005dff"/><stop offset=".058" stop-color="#0061ff"/><stop offset=".312" stop-color="#0063ff"/><stop offset=".483" stop-color="#0078ff"/><stop offset=".997" stop-color="#0077ff"/></linearGradient>
<linearGradient id="hb8"><stop offset=".003" stop-color="#0055ff"/><stop offset=".024" stop-color="#005dff"/><stop offset=".058" stop-color="#0061ff"/><stop offset=".312" stop-color="#0063ff"/><stop offset=".483" stop-color="#0079ff"/><stop offset=".997" stop-color="#0078ff"/></linearGradient>
<linearGradient id="hb9"><stop offset=".003" stop-color="#0055ff"/><stop offset=".024" stop-color="#005dff"/><stop offset=".058" stop-color="#0061ff"/><stop offset=".305" stop-color="#0063ff"/><stop offset=".483" stop-color="#007aff"/><stop offset=".997" stop-color="#0079ff"/></linearGradient>
<linearGradient id="hb10"><stop offset=".003" stop-color="#0055ff"/><stop offset=".024" stop-color="#005dff"/><stop offset=".058" stop-color="#0061ff"/><stop offset=".305" stop-color="#0063ff"/><stop offset=".428" stop-color="#0076ff"/><stop offset=".483" stop-color="#007bff"/><stop offset=".997" stop-color="#0079ff"/></linearGradient>
<linearGradient id="hb11"><stop offset=".003" stop-color="#0055ff"/><stop offset=".024" stop-color="#005dff"/><stop offset=".058" stop-color="#0061ff"/><stop offset=".298" stop-color="#0062ff"/><stop offset=".428" stop-color="#0077ff"/><stop offset=".483" stop-color="#007cff"/><stop offset=".997" stop-color="#007aff"/></linearGradient>
<linearGradient id="hb12"><stop offset=".003" stop-color="#0055ff"/><stop offset=".024" stop-color="#005dff"/><stop offset=".058" stop-color="#0061ff"/><stop offset=".298" stop-color="#0062ff"/><stop offset=".428" stop-color="#0078ff"/><stop offset=".483" stop-color="#007cff"/><stop offset=".997" stop-color="#007bff"/></linearGradient>
<linearGradient id="hb13"><stop offset=".003" stop-color="#0055ff"/><stop offset=".024" stop-color="#005dff"/><stop offset=".058" stop-color="#0061ff"/><stop offset=".298" stop-color="#0061ff"/><stop offset=".428" stop-color="#0079ff"/><stop offset=".490" stop-color="#007eff"/><stop offset=".997" stop-color="#007cff"/></linearGradient>
<linearGradient id="hb14"><stop offset=".003" stop-color="#0055ff"/><stop offset=".024" stop-color="#005dff"/><stop offset=".058" stop-color="#0061ff"/><stop offset=".291" stop-color="#0060ff"/><stop offset=".428" stop-color="#007aff"/><stop offset=".490" stop-color="#007fff"/><stop offset=".997" stop-color="#007dff"/></linearGradient>
<linearGradient id="hb15"><stop offset=".003" stop-color="#0055ff"/><stop offset=".024" stop-color="#005dff"/><stop offset=".058" stop-color="#0061ff"/><stop offset=".291" stop-color="#0060ff"/><stop offset=".428" stop-color="#007bff"/><stop offset=".490" stop-color="#0080ff"/><stop offset=".997" stop-color="#007eff"/></linearGradient>
<linearGradient id="hb16"><stop offset=".003" stop-color="#0055ff"/><stop offset=".024" stop-color="#005dff"/><stop offset=".065" stop-color="#0061ff"/><stop offset=".291" stop-color="#005fff"/><stop offset=".428" stop-color="#007cff"/><stop offset=".490" stop-color="#0082ff"/><stop offset=".997" stop-color="#0080ff"/></linearGradient>
<linearGradient id="hb17"><stop offset=".003" stop-color="#0055ff"/><stop offset=".024" stop-color="#005dff"/><stop offset=".065" stop-color="#0061ff"/><stop offset=".284" stop-color="#005eff"/><stop offset=".428" stop-color="#007dff"/><stop offset=".490" stop-color="#0083ff"/><stop offset=".997" stop-color="#0081ff"/></linearGradient>
<linearGradient id="hb18"><stop offset=".003" stop-color="#0055ff"/><stop offset=".024" stop-color="#005dff"/><stop offset=".065" stop-color="#0061ff"/><stop offset=".284" stop-color="#005dff"/><stop offset=".428" stop-color="#007eff"/><stop offset=".490" stop-color="#0085ff"/><stop offset=".997" stop-color="#0083ff"/></linearGradient>
<linearGradient id="hb19"><stop offset=".003" stop-color="#0055ff"/><stop offset=".031" stop-color="#005fff"/><stop offset=".072" stop-color="#0061ff"/><stop offset=".284" stop-color="#005cff"/><stop offset=".428" stop-color="#0080ff"/><stop offset=".490" stop-color="#0086ff"/><stop offset=".997" stop-color="#0084ff"/></linearGradient>
<linearGradient id="hb20"><stop offset=".003" stop-color="#0055ff"/><stop offset=".031" stop-color="#005fff"/><stop offset=".072" stop-color="#0061ff"/><stop offset=".188" stop-color="#0062ff"/><stop offset=".284" stop-color="#005cff"/><stop offset=".428" stop-color="#0081ff"/><stop offset=".490" stop-color="#0088ff"/><stop offset=".997" stop-color="#0086ff"/></linearGradient>
<linearGradient id="hb21"><stop offset=".003" stop-color="#0055ff"/><stop offset=".031" stop-color="#005fff"/><stop offset=".072" stop-color="#0061ff"/><stop offset=".188" stop-color="#0062ff"/><stop offset=".284" stop-color="#005bff"/><stop offset=".421" stop-color="#0082ff"/><stop offset=".490" stop-color="#008bff"/><stop offset=".997" stop-color="#0088ff"/></linearGradient>
<linearGradient id="hb22"><stop offset=".003" stop-color="#0055ff"/><stop offset=".031" stop-color="#005fff"/><stop offset=".079" stop-color="#0062ff"/><stop offset=".195" stop-color="#0061ff"/><stop offset=".284" stop-color="#0059ff"/><stop offset=".421" stop-color="#0083ff"/><stop offset=".490" stop-color="#008dff"/><stop offset=".997" stop-color="#008aff"/></linearGradient>
<linearGradient id="hb23"><stop offset=".003" stop-color="#0055ff"/><stop offset=".031" stop-color="#005fff"/><stop offset=".086" stop-color="#0062ff"/><stop offset=".195" stop-color="#0061ff"/><stop offset=".284" stop-color="#0058ff"/><stop offset=".421" stop-color="#0086ff"/><stop offset=".490" stop-color="#0090ff"/><stop offset=".997" stop-color="#008dff"/></linearGradient>
<linearGradient id="hb24"><stop offset=".003" stop-color="#0055ff"/><stop offset=".038" stop-color="#005fff"/><stop offset=".106" stop-color="#0062ff"/><stop offset=".195" stop-color="#0061ff"/><stop offset=".277" stop-color="#0056ff"/><stop offset=".305" stop-color="#005cff"/><stop offset=".421" stop-color="#0088ff"/><stop offset=".490" stop-color="#0093ff"/><stop offset=".997" stop-color="#0090ff"/></linearGradient>
<linearGradient id="hb25"><stop offset=".003" stop-color="#0055ff"/><stop offset=".045" stop-color="#0060ff"/><stop offset=".147" stop-color="#0062ff"/><stop offset=".202" stop-color="#0060ff"/><stop offset=".277" stop-color="#0055ff"/><stop offset=".305" stop-color="#005cff"/><stop offset=".421" stop-color="#008aff"/><stop offset=".490" stop-color="#0096ff"/><stop offset=".620" stop-color="#0098ff"/><stop offset=".997" stop-color="#0093ff"/></linearGradient>
<linearGradient id="hb26"><stop offset=".003" stop-color="#0055ff"/><stop offset=".045" stop-color="#0060ff"/><stop offset=".161" stop-color="#0062ff"/><stop offset=".209" stop-color="#005fff"/><stop offset=".277" stop-color="#0053ff"/><stop offset=".305" stop-color="#005bff"/><stop offset=".421" stop-color="#008dff"/><stop offset=".490" stop-color="#0099ff"/><stop offset=".620" stop-color="#009cff"/><stop offset=".997" stop-color="#0096ff"/></linearGradient>
<linearGradient id="hb27"><stop offset=".003" stop-color="#0055ff"/><stop offset=".045" stop-color="#0060ff"/><stop offset=".168" stop-color="#0062ff"/><stop offset=".209" stop-color="#005fff"/><stop offset=".277" stop-color="#0052ff"/><stop offset=".305" stop-color="#005aff"/><stop offset=".421" stop-color="#0090ff"/><stop offset=".490" stop-color="#009dff"/><stop offset=".620" stop-color="#00a0ff"/><stop offset=".997" stop-color="#009aff"/></linearGradient>
<linearGradient id="hb28"><stop offset=".003" stop-color="#0055ff"/><stop offset=".045" stop-color="#0060ff"/><stop offset=".168" stop-color="#0062ff"/><stop offset=".209" stop-color="#005fff"/><stop offset=".257" stop-color="#0052ff"/><stop offset=".277" stop-color="#0051ff"/><stop offset=".305" stop-color="#005aff"/><stop offset=".421" stop-color="#0094ff"/><stop offset=".497" stop-color="#00a2ff"/><stop offset=".620" stop-color="#00a4ff"/><stop offset=".997" stop-color="#009eff"/></linearGradient>
<linearGradient id="hb29"><stop offset=".003" stop-color="#0055ff"/><stop offset=".045" stop-color="#0060ff"/><stop offset=".175" stop-color="#0062ff"/><stop offset=".209" stop-color="#005fff"/><stop offset=".257" stop-color="#0051ff"/><stop offset=".277" stop-color="#004fff"/><stop offset=".305" stop-color="#0059ff"/><stop offset=".421" stop-color="#0098ff"/><stop offset=".455" stop-color="#00a2ff"/><stop offset=".497" stop-color="#00a7ff"/><stop offset=".620" stop-color="#00a9ff"/><stop offset=".997" stop-color="#00a2ff"/></linearGradient>
<linearGradient id="hb30"><stop offset=".003" stop-color="#0055ff"/><stop offset=".045" stop-color="#0060ff"/><stop offset=".175" stop-color="#0062ff"/><stop offset=".209" stop-color="#005eff"/><stop offset=".257" stop-color="#004fff"/><stop offset=".277" stop-color="#004eff"/><stop offset=".305" stop-color="#0058ff"/><stop offset=".421" stop-color="#009cff"/><stop offset=".455" stop-color="#00a7ff"/><stop offset=".497" stop-color="#00acff"/><stop offset=".620" stop-color="#00afff"/><stop offset=".997" stop-color="#00a7ff"/></linearGradient>
<linearGradient id="hb31"><stop offset=".003" stop-color="#0055ff"/><stop offset=".045" stop-color="#0060ff"/><stop offset=".175" stop-color="#0062ff"/><stop offset=".209" stop-color="#005eff"/><stop offset=".257" stop-color="#004eff"/><stop offset=".277" stop-color="#004dff"/><stop offset=".305" stop-color="#0058ff"/><stop offset=".421" stop-color="#00a1ff"/><stop offset=".455" stop-color="#00acff"/><stop offset=".497" stop-color="#00b2ff"/><stop offset=".620" stop-color="#00b5ff"/><stop offset=".997" stop-color="#00acff"/></linearGradient>
<linearGradient id="hb32"><stop offset=".003" stop-color="#0055ff"/><stop offset=".045" stop-color="#0060ff"/><stop offset=".175" stop-color="#0062ff"/><stop offset=".209" stop-color="#005eff"/><stop offset=".257" stop-color="#004dff"/><stop offset=".277" stop-color="#004cff"/><stop offset=".305" stop-color="#0058ff"/><stop offset=".421" stop-color="#00a6ff"/><stop offset=".455" stop-color="#00b2ff"/><stop offset=".497" stop-color="#00b8ff"/><stop offset=".627" stop-color="#00bbff"/><stop offset=".997" stop-color="#00b2ff"/></linearGradient>
<linearGradient id="hb33"><stop offset=".003" stop-color="#0055ff"/><stop offset=".045" stop-color="#0060ff"/><stop offset=".175" stop-color="#0062ff"/><stop offset=".209" stop-color="#005eff"/><stop offset=".257" stop-color="#004cff"/><stop offset=".277" stop-color="#004bff"/><stop offset=".305" stop-color="#0058ff"/><stop offset=".421" stop-color="#00acff"/><stop offset=".449" stop-color="#00b7ff"/><stop offset=".490" stop-color="#00bfff"/><stop offset=".620" stop-color="#00c2ff"/><stop offset=".997" stop-color="#00b9ff"/></linearGradient>
<linearGradient id="hb34"><stop offset=".003" stop-color="#0055ff"/><stop offset=".045" stop-color="#0060ff"/><stop offset=".175" stop-color="#0062ff"/><stop offset=".209" stop-color="#005eff"/><stop offset=".257" stop-color="#004bff"/><stop offset=".277" stop-color="#004aff"/><stop offset=".305" stop-color="#0058ff"/><stop offset=".414" stop-color="#00aeff"/><stop offset=".449" stop-color="#00beff"/><stop offset=".490" stop-color="#00c6ff"/><stop offset=".620" stop-color="#00caff"/><stop offset=".997" stop-color="#00c0ff"/></linearGradient>
<linearGradient id="hb35"><stop offset=".003" stop-color="#0055ff"/><stop offset=".024" stop-color="#005dff"/><stop offset=".051" stop-color="#0061ff"/><stop offset=".182" stop-color="#0061ff"/><stop offset=".216" stop-color="#005cff"/><stop offset=".257" stop-color="#004bff"/><stop offset=".277" stop-color="#0049ff"/><stop offset=".305" stop-color="#0058ff"/><stop offset=".414" stop-color="#00b5ff"/><stop offset=".449" stop-color="#00c6ff"/><stop offset=".490" stop-color="#00ceff"/><stop offset=".620" stop-color="#00d2ff"/><stop offset=".997" stop-color="#00c7ff"/></linearGradient>
<linearGradient id="hb36"><stop offset=".003" stop-color="#0055ff"/><stop offset=".024" stop-color="#005dff"/><stop offset=".051" stop-color="#0061ff"/><stop offset=".182" stop-color="#0061ff"/><stop offset=".216" stop-color="#005cff"/><stop offset=".257" stop-color="#004aff"/><stop offset=".277" stop-color="#0049ff"/><stop offset=".305" stop-color="#0059ff"/><stop offset=".414" stop-color="#00bdff"/><stop offset=".449" stop-color="#00ceff"/><stop offset=".490" stop-color="#00d7ff"/><stop offset=".620" stop-color="#00dbff"/><stop offset=".997" stop-color="#00cfff"/></linearGradient>
<linearGradient id="hb37"><stop offset=".003" stop-color="#0055ff"/><stop offset=".024" stop-color="#005dff"/><stop offset=".051" stop-color="#0061ff"/><stop offset=".182" stop-color="#0061ff"/><stop offset=".216" stop-color="#005cff"/><stop offset=".257" stop-color="#004aff"/><stop offset=".277" stop-color="#0049ff"/><stop offset=".291" stop-color="#004fff"/><stop offset=".312" stop-color="#0060ff"/><stop offset=".414" stop-color="#00c5ff"/><stop offset=".449" stop-color="#00d7ff"/><stop offset=".490" stop-color="#00e0ff"/><stop offset=".620" stop-color="#00e5ff"/><stop offset=".997" stop-color="#00d8ff"/></linearGradient>
<linearGradient id="hb38"><stop offset=".003" stop-color="#0055ff"/><stop offset=".024" stop-color="#005dff"/><stop offset=".051" stop-color="#0061ff"/><stop offset=".182" stop-color="#0061ff"/><stop offset=".216" stop-color="#005cff"/><stop offset=".257" stop-color="#004aff"/><stop offset=".277" stop-color="#0049ff"/><stop offset=".291" stop-color="#0050ff"/><stop offset=".312" stop-color="#0061ff"/><stop offset=".387" stop-color="#00b4ff"/><stop offset=".414" stop-color="#00ceff"/><stop offset=".449" stop-color="#00e0ff"/><stop offset=".490" stop-color="#00eaff"/><stop offset=".620" stop-color="#00efff"/><stop offset=".997" stop-color="#00e1ff"/></linearGradient>
<linearGradient id="hb39"><stop offset=".003" stop-color="#0055ff"/><stop offset=".045" stop-color="#0060ff"/><stop offset=".175" stop-color="#0062ff"/><stop offset=".209" stop-color="#005eff"/><stop offset=".257" stop-color="#004aff"/><stop offset=".277" stop-color="#004aff"/><stop offset=".291" stop-color="#0051ff"/><stop offset=".312" stop-color="#0063ff"/><stop offset=".387" stop-color="#00bcff"/><stop offset=".414" stop-color="#00d7ff"/><stop offset=".449" stop-color="#00ebff"/><stop offset=".490" stop-color="#00f5ff"/><stop offset=".620" stop-color="#00faff"/><stop offset=".997" stop-color="#00eaff"/></linearGradient>
<linearGradient id="hb40"><stop offset=".003" stop-color="#0055ff"/><stop offset=".045" stop-color="#0060ff"/><stop offset=".175" stop-color="#0062ff"/><stop offset=".209" stop-color="#005eff"/><stop offset=".257" stop-color="#004bff"/><stop offset=".277" stop-color="#004bff"/><stop offset=".291" stop-color="#0052ff"/><stop offset=".312" stop-color="#0066ff"/><stop offset=".387" stop-color="#00c6ff"/><stop offset=".408" stop-color="#00dcff"/><stop offset=".442" stop-color="#00f3ff"/><stop offset=".483" stop-color="#00ffff"/><stop offset=".592" stop-color="#06fff9"/><stop offset=".743" stop-color="#00ffff"/><stop offset=".997" stop-color="#00f5ff"/></linearGradient>
<linearGradient id="hb41"><stop offset=".003" stop-color="#0055ff"/><stop offset=".045" stop-color="#0060ff"/><stop offset=".175" stop-color="#0062ff"/><stop offset=".209" stop-color="#005eff"/><stop offset=".257" stop-color="#004cff"/><stop offset=".277" stop-color="#004cff"/><stop offset=".291" stop-color="#0054ff"/><stop offset=".312" stop-color="#0069ff"/><stop offset=".401" stop-color="#00e0ff"/><stop offset=".421" stop-color="#00f2ff"/><stop offset=".442" stop-color="#00feff"/><stop offset=".497" stop-color="#0dfff2"/><stop offset=".586" stop-color="#12ffed"/><stop offset=".997" stop-color="#00ffff"/></linearGradient>
<linearGradient id="hb42"><stop offset=".003" stop-color="#0055ff"/><stop offset=".045" stop-color="#0060ff"/><stop offset=".175" stop-color="#0062ff"/><stop offset=".209" stop-color="#005eff"/><stop offset=".257" stop-color="#004dff"/><stop offset=".277" stop-color="#004eff"/><stop offset=".291" stop-color="#0056ff"/><stop offset=".312" stop-color="#006cff"/><stop offset=".387" stop-color="#00dbff"/><stop offset=".421" stop-color="#00feff"/><stop offset=".449" stop-color="#0efff1"/><stop offset=".476" stop-color="#16ffe9"/><stop offset=".565" stop-color="#1effe1"/><stop offset=".997" stop-color="#0bfff4"/></linearGradient>
<linearGradient id="hb43"><stop offset=".003" stop-color="#0055ff"/><stop offset=".045" stop-color="#0060ff"/><stop offset=".175" stop-color="#0062ff"/><stop offset=".209" stop-color="#005eff"/><stop offset=".257" stop-color="#004eff"/><stop offset=".277" stop-color="#0050ff"/><stop offset=".291" stop-color="#0059ff"/><stop offset=".312" stop-color="#0071ff"/><stop offset=".380" stop-color="#00ddff"/><stop offset=".408" stop-color="#00ffff"/><stop offset=".435" stop-color="#14ffeb"/><stop offset=".462" stop-color="#20ffdf"/><stop offset=".551" stop-color="#2bffd4"/><stop offset=".647" stop-color="#2affd5"/><stop offset=".997" stop-color="#17ffe8"/></linearGradient>
<linearGradient id="hb44"><stop offset=".003" stop-color="#0055ff"/><stop offset=".045" stop-color="#0060ff"/><stop offset=".168" stop-color="#0062ff"/><stop offset=".209" stop-color="#005fff"/><stop offset=".257" stop-color="#0050ff"/><stop offset=".277" stop-color="#0053ff"/><stop offset=".291" stop-color="#005dff"/><stop offset=".312" stop-color="#0076ff"/><stop offset=".380" stop-color="#00e9ff"/><stop offset=".394" stop-color="#00fcff"/><stop offset=".401" stop-color="#05fffa"/><stop offset=".428" stop-color="#1dffe2"/><stop offset=".455" stop-color="#2bffd4"/><stop offset=".490" stop-color="#33ffcc"/><stop offset=".545" stop-color="#38ffc7"/><stop offset=".647" stop-color="#37ffc8"/><stop offset=".997" stop-color="#23ffdc"/></linearGradient>
<linearGradient id="hb45"><stop offset=".003" stop-color="#0055ff"/><stop offset=".045" stop-color="#0060ff"/><stop offset=".154" stop-color="#0062ff"/><stop offset=".202" stop-color="#0060ff"/><stop offset=".257" stop-color="#0052ff"/><stop offset=".277" stop-color="#0056ff"/><stop offset=".291" stop-color="#0061ff"/><stop offset=".312" stop-color="#007cff"/><stop offset=".366" stop-color="#00dfff"/><stop offset=".387" stop-color="#01fffe"/><stop offset=".414" stop-color="#21ffde"/><stop offset=".442" stop-color="#32ffcd"/><stop offset=".476" stop-color="#3dffc2"/><stop offset=".524" stop-color="#44ffbb"/><stop offset=".640" stop-color="#45ffba"/><stop offset=".860" stop-color="#34ffcb"/><stop offset=".997" stop-color="#2fffd0"/></linearGradient>
<linearGradient id="hb46"><stop offset=".003" stop-color="#0055ff"/><stop offset=".045" stop-color="#0060ff"/><stop offset=".161" stop-color="#0062ff"/><stop offset=".202" stop-color="#0061ff"/><stop offset=".257" stop-color="#0054ff"/><stop offset=".271" stop-color="#0056ff"/><stop offset=".284" stop-color="#005fff"/><stop offset=".305" stop-color="#0078ff"/><stop offset=".325" stop-color="#009bff"/><stop offset=".366" stop-color="#00ecff"/><stop offset=".380" stop-color="#05fffa"/><stop offset=".408" stop-color="#28ffd7"/><stop offset=".435" stop-color="#3dffc2"/><stop offset=".469" stop-color="#49ffb6"/><stop offset=".517" stop-color="#51ffae"/><stop offset=".634" stop-color="#53ffac"/><stop offset=".866" stop-color="#40ffbf"/><stop offset=".997" stop-color="#3bffc4"/></linearGradient>
<linearGradient id="hb47"><stop offset=".003" stop-color="#0055ff"/><stop offset=".031" stop-color="#005fff"/><stop offset=".079" stop-color="#0062ff"/><stop offset=".188" stop-color="#0062ff"/><stop offset=".250" stop-color="#0057ff"/><stop offset=".271" stop-color="#005aff"/><stop offset=".284" stop-color="#0063ff"/><stop offset=".305" stop-color="#007eff"/><stop offset=".366" stop-color="#00faff"/><stop offset=".373" stop-color="#08fff7"/><stop offset=".401" stop-color="#30ffcf"/><stop offset=".428" stop-color="#47ffb8"/><stop offset=".462" stop-color="#55ffaa"/><stop offset=".510" stop-color="#5effa1"/><stop offset=".634" stop-color="#60ff9f"/><stop offset=".866" stop-color="#4dffb2"/><stop offset=".997" stop-color="#47ffb8"/></linearGradient>
<linearGradient id="hb48"><stop offset=".003" stop-color="#0055ff"/><stop offset=".024" stop-color="#005dff"/><stop offset=".065" stop-color="#0061ff"/><stop offset=".188" stop-color="#0062ff"/><stop offset=".250" stop-color="#005aff"/><stop offset=".271" stop-color="#005eff"/><stop offset=".284" stop-color="#0069ff"/><stop offset=".305" stop-color="#0086ff"/><stop offset=".360" stop-color="#00fbff"/><stop offset=".366" stop-color="#0afff5"/><stop offset=".394" stop-color="#36ffc9"/><stop offset=".421" stop-color="#51ffae"/><stop offset=".455" stop-color="#61ff9e"/><stop offset=".503" stop-color="#6bff94"/><stop offset=".634" stop-color="#6eff91"/><stop offset=".866" stop-color="#5affa5"/><stop offset=".997" stop-color="#54ffab"/></linearGradient>
<linearGradient id="hb49"><stop offset=".003" stop-color="#0055ff"/><stop offset=".024" stop-color="#005dff"/><stop offset=".058" stop-color="#0061ff"/><stop offset=".264" stop-color="#005fff"/><stop offset=".284" stop-color="#006fff"/><stop offset=".298" stop-color="#0082ff"/><stop offset=".318" stop-color="#00abff"/><stop offset=".353" stop-color="#00fbff"/><stop offset=".360" stop-color="#0bfff4"/><stop offset=".387" stop-color="#3cffc3"/><stop offset=".414" stop-color="#5affa5"/><stop offset=".449" stop-color="#6dff92"/><stop offset=".497" stop-color="#78ff87"/><stop offset=".558" stop-color="#7dff82"/><stop offset=".634" stop-color="#7cff83"/><stop offset=".866" stop-color="#66ff99"/><stop offset=".997" stop-color="#60ff9f"/></linearGradient>
<linearGradient id="hb50"><stop offset=".003" stop-color="#0055ff"/><stop offset=".024" stop-color="#005dff"/><stop offset=".051" stop-color="#0061ff"/><stop offset=".188" stop-color="#0063ff"/><stop offset=".243" stop-color="#0060ff"/><stop offset=".264" stop-color="#0064ff"/><stop offset=".284" stop-color="#0076ff"/><stop offset=".298" stop-color="#008bff"/><stop offset=".318" stop-color="#00b7ff"/><stop offset=".346" stop-color="#00faff"/><stop offset=".353" stop-color="#0bfff4"/><stop offset=".380" stop-color="#41ffbe"/><stop offset=".408" stop-color="#62ff9d"/><stop offset=".442" stop-color="#78ff87"/><stop offset=".497" stop-color="#86ff79"/><stop offset=".565" stop-color="#8bff74"/><stop offset=".634" stop-color="#8aff75"/><stop offset=".866" stop-color="#72ff8d"/><stop offset=".997" stop-color="#6cff93"/></linearGradient>
<linearGradient id="hb51"><stop offset=".003" stop-color="#0055ff"/><stop offset=".045" stop-color="#0060ff"/><stop offset=".243" stop-color="#0062ff"/><stop offset=".264" stop-color="#0069ff"/><stop offset=".277" stop-color="#0074ff"/><stop offset=".291" stop-color="#0088ff"/><stop offset=".312" stop-color="#00b2ff"/><stop offset=".339" stop-color="#00f8ff"/><stop offset=".346" stop-color="#0afff5"/><stop offset=".373" stop-color="#45ffba"/><stop offset=".387" stop-color="#5affa5"/><stop offset=".408" stop-color="#71ff8e"/><stop offset=".442" stop-color="#86ff79"/><stop offset=".490" stop-color="#93ff6c"/><stop offset=".558" stop-color="#9aff65"/><stop offset=".627" stop-color="#99ff66"/><stop offset=".866" stop-color="#7fff80"/><stop offset=".997" stop-color="#78ff87"/></linearGradient>
<linearGradient id="hb52"><stop offset=".003" stop-color="#0055ff"/><stop offset=".045" stop-color="#0060ff"/><stop offset=".229" stop-color="#0064ff"/><stop offset=".257" stop-color="#006aff"/><stop offset=".277" stop-color="#007bff"/><stop offset=".291" stop-color="#0090ff"/><stop offset=".312" stop-color="#00beff"/><stop offset=".332" stop-color="#00f4ff"/><stop offset=".339" stop-color="#07fff8"/><stop offset=".360" stop-color="#39ffc6"/><stop offset=".373" stop-color="#54ffab"/><stop offset=".401" stop-color="#79ff86"/><stop offset=".435" stop-color="#91ff6e"/><stop offset=".483" stop-color="#a0ff5f"/><stop offset=".551" stop-color="#a8ff57"/><stop offset=".627" stop-color="#a8ff57"/><stop offset=".866" stop-color="#8bff74"/><stop offset=".997" stop-color="#83ff7c"/></linearGradient>
<linearGradient id="hb53"><stop offset=".003" stop-color="#0055ff"/><stop offset=".045" stop-color="#0060ff"/><stop offset=".223" stop-color="#0066ff"/><stop offset=".257" stop-color="#006eff"/><stop offset=".277" stop-color="#0082ff"/><stop offset=".291" stop-color="#0099ff"/><stop offset=".305" stop-color="#00b8ff"/><stop offset=".332" stop-color="#03fffc"/><stop offset=".353" stop-color="#39ffc6"/><stop offset=".366" stop-color="#57ffa8"/><stop offset=".394" stop-color="#81ff7e"/><stop offset=".428" stop-color="#9cff63"/><stop offset=".483" stop-color="#afff50"/><stop offset=".551" stop-color="#b8ff47"/><stop offset=".627" stop-color="#b9ff46"/><stop offset=".866" stop-color="#97ff68"/><stop offset=".997" stop-color="#8eff71"/></linearGradient>
<linearGradient id="hb54"><stop offset=".003" stop-color="#0055ff"/><stop offset=".038" stop-color="#0060ff"/><stop offset=".195" stop-color="#0065ff"/><stop offset=".250" stop-color="#006fff"/><stop offset=".271" stop-color="#0080ff"/><stop offset=".284" stop-color="#0095ff"/><stop offset=".305" stop-color="#00c3ff"/><stop offset=".325" stop-color="#00fdff"/><stop offset=".353" stop-color="#48ffb7"/><stop offset=".366" stop-color="#66ff99"/><stop offset=".380" stop-color="#7eff81"/><stop offset=".401" stop-color="#97ff68"/><stop offset=".421" stop-color="#a7ff58"/><stop offset=".449" stop-color="#b5ff4a"/><stop offset=".517" stop-color="#c6ff39"/><stop offset=".579" stop-color="#cbff34"/><stop offset=".640" stop-color="#c9ff36"/><stop offset=".860" stop-color="#a4ff5b"/><stop offset=".997" stop-color="#99ff66"/></linearGradient>
<linearGradient id="hb55"><stop offset=".003" stop-color="#0055ff"/><stop offset=".038" stop-color="#0060ff"/><stop offset=".182" stop-color="#0065ff"/><stop offset=".243" stop-color="#0070ff"/><stop offset=".264" stop-color="#007fff"/><stop offset=".277" stop-color="#0091ff"/><stop offset=".298" stop-color="#00bdff"/><stop offset=".318" stop-color="#00f6ff"/><stop offset=".325" stop-color="#0cfff3"/><stop offset=".346" stop-color="#46ffb9"/><stop offset=".366" stop-color="#75ff8a"/><stop offset=".380" stop-color="#8cff73"/><stop offset=".401" stop-color="#a6ff59"/><stop offset=".421" stop-color="#b6ff49"/><stop offset=".449" stop-color="#c5ff3a"/><stop offset=".524" stop-color="#d9ff26"/><stop offset=".579" stop-color="#deff21"/><stop offset=".640" stop-color="#dcff23"/><stop offset=".860" stop-color="#b0ff4f"/><stop offset=".997" stop-color="#a3ff5c"/></linearGradient>
<linearGradient id="hb56"><stop offset=".003" stop-color="#0055ff"/><stop offset=".045" stop-color="#0060ff"/><stop offset=".195" stop-color="#0067ff"/><stop offset=".243" stop-color="#0073ff"/><stop offset=".264" stop-color="#0084ff"/><stop offset=".277" stop-color="#0099ff"/><stop offset=".291" stop-color="#00b5ff"/><stop offset=".312" stop-color="#00eeff"/><stop offset=".318" stop-color="#04fffb"/><stop offset=".339" stop-color="#41ffbe"/><stop offset=".360" stop-color="#75ff8a"/><stop offset=".373" stop-color="#90ff6f"/><stop offset=".394" stop-color="#adff52"/><stop offset=".421" stop-color="#c6ff39"/><stop offset=".449" stop-color="#d5ff2a"/><stop offset=".531" stop-color="#edff12"/><stop offset=".586" stop-color="#f3ff0c"/><stop offset=".647" stop-color="#efff10"/><stop offset=".860" stop-color="#bcff43"/><stop offset=".997" stop-color="#adff52"/></linearGradient>
<linearGradient id="hb57"><stop offset=".003" stop-color="#0055ff"/><stop offset=".038" stop-color="#0060ff"/><stop offset=".175" stop-color="#0065ff"/><stop offset=".236" stop-color="#0072ff"/><stop offset=".257" stop-color="#0081ff"/><stop offset=".277" stop-color="#009fff"/><stop offset=".291" stop-color="#00beff"/><stop offset=".312" stop-color="#00f8ff"/><stop offset=".318" stop-color="#0ffff0"/><stop offset=".339" stop-color="#4effb1"/><stop offset=".360" stop-color="#82ff7d"/><stop offset=".373" stop-color="#9dff62"/><stop offset=".394" stop-color="#bbff44"/><stop offset=".414" stop-color="#cfff30"/><stop offset=".442" stop-color="#e1ff1e"/><stop offset=".524" stop-color="#ffff00"/><stop offset=".592" stop-color="#fff700"/><stop offset=".668" stop-color="#ffff00"/><stop offset=".860" stop-color="#c7ff38"/><stop offset=".997" stop-color="#b5ff4a"/></linearGradient>
<linearGradient id="hb58"><stop offset=".003" stop-color="#0055ff"/><stop offset=".045" stop-color="#0060ff"/><stop offset=".188" stop-color="#0067ff"/><stop offset=".236" stop-color="#0074ff"/><stop offset=".257" stop-color="#0085ff"/><stop offset=".271" stop-color="#0099ff"/><stop offset=".291" stop-color="#00c5ff"/><stop offset=".312" stop-color="#03fffc"/><stop offset=".346" stop-color="#6cff93"/><stop offset=".360" stop-color="#8eff71"/><stop offset=".380" stop-color="#b4ff4b"/><stop offset=".401" stop-color="#cfff30"/><stop offset=".421" stop-color="#e1ff1e"/><stop offset=".476" stop-color="#fffe00"/><stop offset=".538" stop-color="#ffea00"/><stop offset=".599" stop-color="#ffe400"/><stop offset=".654" stop-color="#ffea00"/><stop offset=".723" stop-color="#fffe00"/><stop offset=".866" stop-color="#cfff30"/><stop offset=".997" stop-color="#bdff42"/></linearGradient>
<linearGradient id="hb59"><stop offset=".003" stop-color="#0055ff"/><stop offset=".045" stop-color="#0060ff"/><stop offset=".182" stop-color="#0066ff"/><stop offset=".229" stop-color="#0073ff"/><stop offset=".250" stop-color="#0081ff"/><stop offset=".271" stop-color="#009dff"/><stop offset=".284" stop-color="#00baff"/><stop offset=".305" stop-color="#00f3ff"/><stop offset=".312" stop-color="#0afff5"/><stop offset=".346" stop-color="#75ff8a"/><stop offset=".360" stop-color="#97ff68"/><stop offset=".373" stop-color="#b2ff4d"/><stop offset=".387" stop-color="#c8ff37"/><stop offset=".408" stop-color="#e0ff1f"/><stop offset=".449" stop-color="#ffff00"/><stop offset=".524" stop-color="#ffdf00"/><stop offset=".599" stop-color="#ffd400"/><stop offset=".668" stop-color="#ffde00"/><stop offset=".757" stop-color="#feff01"/><stop offset=".873" stop-color="#d5ff2a"/><stop offset=".997" stop-color="#c3ff3c"/></linearGradient>
<linearGradient id="hb60"><stop offset=".003" stop-color="#0055ff"/><stop offset=".045" stop-color="#0060ff"/><stop offset=".182" stop-color="#0066ff"/><stop offset=".229" stop-color="#0074ff"/><stop offset=".250" stop-color="#0083ff"/><stop offset=".271" stop-color="#00a0ff"/><stop offset=".284" stop-color="#00bdff"/><stop offset=".305" stop-color="#00f8ff"/><stop offset=".312" stop-color="#0ffff0"/><stop offset=".346" stop-color="#7aff85"/><stop offset=".360" stop-color="#9cff63"/><stop offset=".373" stop-color="#b8ff47"/><stop offset=".387" stop-color="#ceff31"/><stop offset=".408" stop-color="#e7ff18"/><stop offset=".435" stop-color="#fdff02"/><stop offset=".442" stop-color="#fffc00"/><stop offset=".483" stop-color="#ffe600"/><stop offset=".524" stop-color="#ffd600"/><stop offset=".565" stop-color="#ffcc00"/><stop offset=".599" stop-color="#ffca00"/><stop offset=".668" stop-color="#ffd500"/><stop offset=".777" stop-color="#fdff02"/><stop offset=".887" stop-color="#d7ff28"/><stop offset=".997" stop-color="#c6ff39"/></linearGradient>
<linearGradient id="hb61"><stop offset=".003" stop-color="#0055ff"/><stop offset=".045" stop-color="#0060ff"/><stop offset=".182" stop-color="#0066ff"/><stop offset=".229" stop-color="#0074ff"/><stop offset=".250" stop-color="#0084ff"/><stop offset=".271" stop-color="#00a2ff"/><stop offset=".284" stop-color="#00bfff"/><stop offset=".305" stop-color="#00faff"/><stop offset=".312" stop-color="#11ffee"/><stop offset=".346" stop-color="#7cff83"/><stop offset=".366" stop-color="#adff52"/><stop offset=".394" stop-color="#d9ff26"/><stop offset=".414" stop-color="#efff10"/><stop offset=".435" stop-color="#fffe00"/><stop offset=".476" stop-color="#ffe600"/><stop offset=".517" stop-color="#ffd500"/><stop offset=".558" stop-color="#ffc900"/><stop offset=".599" stop-color="#ffc600"/><stop offset=".634" stop-color="#ffc900"/><stop offset=".675" stop-color="#ffd300"/><stop offset=".777" stop-color="#ffff00"/><stop offset=".887" stop-color="#d8ff27"/><stop offset=".997" stop-color="#c8ff37"/></linearGradient>
<linearGradient id="hb62"><stop offset=".003" stop-color="#0055ff"/><stop offset=".045" stop-color="#0060ff"/><stop offset=".182" stop-color="#0066ff"/><stop offset=".229" stop-color="#0075ff"/><stop offset=".250" stop-color="#0085ff"/><stop offset=".271" stop-color="#00a2ff"/><stop offset=".284" stop-color="#00bfff"/><stop offset=".305" stop-color="#00f9ff"/><stop offset=".312" stop-color="#10ffef"/><stop offset=".346" stop-color="#7aff85"/><stop offset=".360" stop-color="#9dff62"/><stop offset=".373" stop-color="#b8ff47"/><stop offset=".387" stop-color="#ceff31"/><stop offset=".408" stop-color="#e7ff18"/><stop offset=".435" stop-color="#fdff02"/><stop offset=".442" stop-color="#fffc00"/><stop offset=".483" stop-color="#ffe600"/><stop offset=".524" stop-color="#ffd600"/><stop offset=".565" stop-color="#ffcc00"/><stop offset=".599" stop-color="#ffca00"/><stop offset=".668" stop-color="#ffd500"/><stop offset=".777" stop-color="#fdff02"/><stop offset=".887" stop-color="#d7ff28"/><stop offset=".997" stop-color="#c6ff39"/></linearGradient>
<linearGradient id="hb63"><stop offset=".003" stop-color="#0055ff"/><stop offset=".045" stop-color="#0060ff"/><stop offset=".182" stop-color="#0066ff"/><stop offset=".229" stop-color="#0074ff"/><stop offset=".250" stop-color="#0084ff"/><stop offset=".271" stop-color="#00a1ff"/><stop offset=".284" stop-color="#00bdff"/><stop offset=".305" stop-color="#00f6ff"/><stop offset=".312" stop-color="#0cfff3"/><stop offset=".346" stop-color="#75ff8a"/><stop offset=".360" stop-color="#97ff68"/><stop offset=".373" stop-color="#b2ff4d"/><stop offset=".387" stop-color="#c8ff37"/><stop offset=".408" stop-color="#e0ff1f"/><stop offset=".449" stop-color="#feff01"/><stop offset=".524" stop-color="#ffdf00"/><stop offset=".599" stop-color="#ffd400"/><stop offset=".668" stop-color="#ffdf00"/><stop offset=".757" stop-color="#feff01"/><stop offset=".873" stop-color="#d5ff2a"/><stop offset=".997" stop-color="#c3ff3c"/></linearGradient>
<linearGradient id="hb64"><stop offset=".003" stop-color="#0055ff"/><stop offset=".045" stop-color="#0060ff"/><stop offset=".182" stop-color="#0066ff"/><stop offset=".229" stop-color="#0073ff"/><stop offset=".250" stop-color="#0083ff"/><stop offset=".271" stop-color="#009eff"/><stop offset=".284" stop-color="#00b9ff"/><stop offset=".305" stop-color="#00f0ff"/><stop offset=".312" stop-color="#05fffa"/><stop offset=".339" stop-color="#59ffa6"/><stop offset=".353" stop-color="#7eff81"/><stop offset=".366" stop-color="#9cff63"/><stop offset=".380" stop-color="#b4ff4b"/><stop offset=".401" stop-color="#ceff31"/><stop offset=".421" stop-color="#e1ff1e"/><stop offset=".476" stop-color="#fffe00"/><stop offset=".538" stop-color="#ffeb00"/><stop offset=".599" stop-color="#ffe400"/><stop offset=".654" stop-color="#ffeb00"/><stop offset=".723" stop-color="#ffff00"/><stop offset=".866" stop-color="#cfff30"/><stop offset=".997" stop-color="#bcff43"/></linearGradient>
<linearGradient id="hb65"><stop offset=".003" stop-color="#0055ff"/><stop offset=".045" stop-color="#0060ff"/><stop offset=".182" stop-color="#0066ff"/><stop offset=".229" stop-color="#0072ff"/><stop offset=".250" stop-color="#0081ff"/><stop offset=".271" stop-color="#009aff"/><stop offset=".291" stop-color="#00c4ff"/><stop offset=".312" stop-color="#00fcff"/><stop offset=".346" stop-color="#61ff9e"/><stop offset=".360" stop-color="#82ff7d"/><stop offset=".373" stop-color="#9cff63"/><stop offset=".394" stop-color="#baff45"/><stop offset=".414" stop-color="#ceff31"/><stop offset=".442" stop-color="#e0ff1f"/><stop offset=".524" stop-color="#feff01"/><stop offset=".592" stop-color="#fff800"/><stop offset=".661" stop-color="#ffff00"/><stop offset=".860" stop-color="#c6ff39"/><stop offset=".997" stop-color="#b4ff4b"/></linearGradient>
<linearGradient id="hb66"><stop offset=".003" stop-color="#0055ff"/><stop offset=".038" stop-color="#0060ff"/><stop offset=".175" stop-color="#0065ff"/><stop offset=".229" stop-color="#0071ff"/><stop offset=".250" stop-color="#007eff"/><stop offset=".271" stop-color="#0096ff"/><stop offset=".291" stop-color="#00bdff"/><stop offset=".312" stop-color="#00f2ff"/><stop offset=".318" stop-color="#07fff8"/><stop offset=".346" stop-color="#54ffab"/><stop offset=".366" stop-color="#82ff7d"/><stop offset=".380" stop-color="#99ff66"/><stop offset=".401" stop-color="#b3ff4c"/><stop offset=".421" stop-color="#c4ff3b"/><stop offset=".449" stop-color="#d3ff2c"/><stop offset=".531" stop-color="#ebff14"/><stop offset=".586" stop-color="#f1ff0e"/><stop offset=".647" stop-color="#edff12"/><stop offset=".860" stop-color="#baff45"/><stop offset=".997" stop-color="#abff54"/></linearGradient>
<linearGradient id="hb67"><stop offset=".003" stop-color="#0055ff"/><stop offset=".045" stop-color="#0060ff"/><stop offset=".188" stop-color="#0066ff"/><stop offset=".236" stop-color="#0073ff"/><stop offset=".257" stop-color="#0082ff"/><stop offset=".277" stop-color="#009cff"/><stop offset=".298" stop-color="#00c4ff"/><stop offset=".318" stop-color="#00faff"/><stop offset=".325" stop-color="#0efff1"/><stop offset=".346" stop-color="#45ffba"/><stop offset=".366" stop-color="#73ff8c"/><stop offset=".380" stop-color="#8aff75"/><stop offset=".401" stop-color="#a3ff5c"/><stop offset=".421" stop-color="#b4ff4b"/><stop offset=".449" stop-color="#c2ff3d"/><stop offset=".524" stop-color="#d6ff29"/><stop offset=".579" stop-color="#dcff23"/><stop offset=".640" stop-color="#d9ff26"/><stop offset=".860" stop-color="#aeff51"/><stop offset=".997" stop-color="#a1ff5e"/></linearGradient>
<linearGradient id="hb68"><stop offset=".003" stop-color="#0055ff"/><stop offset=".045" stop-color="#0060ff"/><stop offset=".195" stop-color="#0066ff"/><stop offset=".243" stop-color="#0075ff"/><stop offset=".264" stop-color="#0085ff"/><stop offset=".284" stop-color="#00a1ff"/><stop offset=".305" stop-color="#00cbff"/><stop offset=".325" stop-color="#00ffff"/><stop offset=".346" stop-color="#36ffc9"/><stop offset=".366" stop-color="#63ff9c"/><stop offset=".380" stop-color="#7aff85"/><stop offset=".401" stop-color="#93ff6c"/><stop offset=".421" stop-color="#a4ff5b"/><stop offset=".449" stop-color="#b1ff4e"/><stop offset=".517" stop-color="#c2ff3d"/><stop offset=".579" stop-color="#c7ff38"/><stop offset=".640" stop-color="#c5ff3a"/><stop offset=".860" stop-color="#a1ff5e"/><stop offset=".997" stop-color="#95ff6a"/></linearGradient>
<linearGradient id="hb69"><stop offset=".003" stop-color="#0055ff"/><stop offset=".045" stop-color="#0060ff"/><stop offset=".195" stop-color="#0066ff"/><stop offset=".243" stop-color="#0072ff"/><stop offset=".264" stop-color="#0081ff"/><stop offset=".284" stop-color="#009aff"/><stop offset=".305" stop-color="#00c0ff"/><stop offset=".325" stop-color="#00f2ff"/><stop offset=".332" stop-color="#04fffb"/><stop offset=".366" stop-color="#53ffac"/><stop offset=".394" stop-color="#7cff83"/><stop offset=".414" stop-color="#8fff70"/><stop offset=".435" stop-color="#9bff64"/><stop offset=".490" stop-color="#acff53"/><stop offset=".558" stop-color="#b4ff4b"/><stop offset=".634" stop-color="#b3ff4c"/><stop offset=".866" stop-color="#92ff6d"/><stop offset=".997" stop-color="#8aff75"/></linearGradient>
<linearGradient id="hb70"><stop offset=".003" stop-color="#0055ff"/><stop offset=".045" stop-color="#0060ff"/><stop offset=".202" stop-color="#0066ff"/><stop offset=".250" stop-color="#0074ff"/><stop offset=".271" stop-color="#0083ff"/><stop offset=".291" stop-color="#009dff"/><stop offset=".312" stop-color="#00c4ff"/><stop offset=".332" stop-color="#00f5ff"/><stop offset=".339" stop-color="#06fff9"/><stop offset=".360" stop-color="#35ffca"/><stop offset=".373" stop-color="#4fffb0"/><stop offset=".401" stop-color="#73ff8c"/><stop offset=".435" stop-color="#8bff74"/><stop offset=".490" stop-color="#9bff64"/><stop offset=".558" stop-color="#a2ff5d"/><stop offset=".627" stop-color="#a2ff5d"/><stop offset=".866" stop-color="#85ff7a"/><stop offset=".997" stop-color="#7dff82"/></linearGradient>
<linearGradient id="hb71"><stop offset=".003" stop-color="#0055ff"/><stop offset=".038" stop-color="#005fff"/><stop offset=".195" stop-color="#0065ff"/><stop offset=".250" stop-color="#0071ff"/><stop offset=".271" stop-color="#007fff"/><stop offset=".291" stop-color="#0096ff"/><stop offset=".312" stop-color="#00b9ff"/><stop offset=".339" stop-color="#00f6ff"/><stop offset=".346" stop-color="#07fff8"/><stop offset=".366" stop-color="#32ffcd"/><stop offset=".380" stop-color="#4affb5"/><stop offset=".408" stop-color="#6aff95"/><stop offset=".442" stop-color="#7fff80"/><stop offset=".490" stop-color="#8bff74"/><stop offset=".558" stop-color="#92ff6d"/><stop offset=".627" stop-color="#91ff6e"/><stop offset=".866" stop-color="#78ff87"/><stop offset=".997" stop-color="#71ff8e"/></linearGradient>
<linearGradient id="hb72"><stop offset=".003" stop-color="#0055ff"/><stop offset=".045" stop-color="#0060ff"/><stop offset=".209" stop-color="#0066ff"/><stop offset=".257" stop-color="#0072ff"/><stop offset=".277" stop-color="#0081ff"/><stop offset=".298" stop-color="#0099ff"/><stop offset=".318" stop-color="#00bcff"/><stop offset=".346" stop-color="#00f7ff"/><stop offset=".353" stop-color="#06fff9"/><stop offset=".380" stop-color="#39ffc6"/><stop offset=".408" stop-color="#5affa5"/><stop offset=".442" stop-color="#6fff90"/><stop offset=".497" stop-color="#7dff82"/><stop offset=".558" stop-color="#82ff7d"/><stop offset=".634" stop-color="#81ff7e"/><stop offset=".866" stop-color="#6aff95"/><stop offset=".997" stop-color="#64ff9b"/></linearGradient>
<linearGradient id="hb73"><stop offset=".003" stop-color="#0055ff"/><stop offset=".038" stop-color="#005fff"/><stop offset=".202" stop-color="#0064ff"/><stop offset=".257" stop-color="#0070ff"/><stop offset=".284" stop-color="#0082ff"/><stop offset=".305" stop-color="#009bff"/><stop offset=".325" stop-color="#00beff"/><stop offset=".353" stop-color="#00f6ff"/><stop offset=".360" stop-color="#05fffa"/><stop offset=".387" stop-color="#33ffcc"/><stop offset=".414" stop-color="#50ffaf"/><stop offset=".449" stop-color="#62ff9d"/><stop offset=".497" stop-color="#6dff92"/><stop offset=".627" stop-color="#72ff8d"/><stop offset=".866" stop-color="#5cffa3"/><stop offset=".997" stop-color="#56ffa9"/></linearGradient>
<linearGradient id="hb74"><stop offset=".003" stop-color="#0055ff"/><stop offset=".038" stop-color="#005fff"/><stop offset=".209" stop-color="#0065ff"/><stop offset=".264" stop-color="#0071ff"/><stop offset=".291" stop-color="#0084ff"/><stop offset=".312" stop-color="#009cff"/><stop offset=".366" stop-color="#02fffd"/><stop offset=".394" stop-color="#2cffd3"/><stop offset=".421" stop-color="#45ffba"/><stop offset=".455" stop-color="#55ffaa"/><stop offset=".503" stop-color="#5fffa0"/><stop offset=".634" stop-color="#62ff9d"/><stop offset=".866" stop-color="#4effb1"/><stop offset=".997" stop-color="#49ffb6"/></linearGradient>
<linearGradient id="hb75"><stop offset=".003" stop-color="#0055ff"/><stop offset=".045" stop-color="#0060ff"/><stop offset=".223" stop-color="#0065ff"/><stop offset=".271" stop-color="#0071ff"/><stop offset=".291" stop-color="#007fff"/><stop offset=".312" stop-color="#0094ff"/><stop offset=".332" stop-color="#00b3ff"/><stop offset=".373" stop-color="#00fdff"/><stop offset=".380" stop-color="#09fff6"/><stop offset=".408" stop-color="#2bffd4"/><stop offset=".435" stop-color="#3effc1"/><stop offset=".469" stop-color="#4affb5"/><stop offset=".524" stop-color="#51ffae"/><stop offset=".640" stop-color="#52ffad"/><stop offset=".860" stop-color="#41ffbe"/><stop offset=".997" stop-color="#3bffc4"/></linearGradient>
<linearGradient id="hb76"><stop offset=".003" stop-color="#0055ff"/><stop offset=".045" stop-color="#0060ff"/><stop offset=".216" stop-color="#0064ff"/><stop offset=".271" stop-color="#006fff"/><stop offset=".298" stop-color="#0080ff"/><stop offset=".318" stop-color="#0095ff"/><stop offset=".373" stop-color="#00eeff"/><stop offset=".387" stop-color="#04fffb"/><stop offset=".414" stop-color="#21ffde"/><stop offset=".442" stop-color="#32ffcd"/><stop offset=".476" stop-color="#3cffc3"/><stop offset=".524" stop-color="#42ffbd"/><stop offset=".640" stop-color="#43ffbc"/><stop offset=".860" stop-color="#33ffcc"/><stop offset=".997" stop-color="#2dffd2"/></linearGradient>
<linearGradient id="hb77"><stop offset=".003" stop-color="#0055ff"/><stop offset=".045" stop-color="#0060ff"/><stop offset=".216" stop-color="#0064ff"/><stop offset=".277" stop-color="#006fff"/><stop offset=".298" stop-color="#007bff"/><stop offset=".318" stop-color="#008eff"/><stop offset=".339" stop-color="#00a9ff"/><stop offset=".387" stop-color="#00f4ff"/><stop offset=".401" stop-color="#05fffa"/><stop offset=".428" stop-color="#1cffe3"/><stop offset=".455" stop-color="#28ffd7"/><stop offset=".545" stop-color="#34ffcb"/><stop offset=".647" stop-color="#33ffcc"/><stop offset=".997" stop-color="#20ffdf"/></linearGradient>
<linearGradient id="hb78"><stop offset=".003" stop-color="#0055ff"/><stop offset=".045" stop-color="#0060ff"/><stop offset=".223" stop-color="#0064ff"/><stop offset=".284" stop-color="#0070ff"/><stop offset=".305" stop-color="#007cff"/><stop offset=".325" stop-color="#008fff"/><stop offset=".387" stop-color="#00e6ff"/><stop offset=".408" stop-color="#00fcff"/><stop offset=".414" stop-color="#03fffc"/><stop offset=".442" stop-color="#14ffeb"/><stop offset=".469" stop-color="#1dffe2"/><stop offset=".558" stop-color="#26ffd9"/><stop offset=".997" stop-color="#13ffec"/></linearGradient>
<linearGradient id="hb79"><stop offset=".003" stop-color="#0055ff"/><stop offset=".045" stop-color="#0060ff"/><stop offset=".229" stop-color="#0063ff"/><stop offset=".284" stop-color="#006dff"/><stop offset=".305" stop-color="#0077ff"/><stop offset=".325" stop-color="#0088ff"/><stop offset=".394" stop-color="#00e0ff"/><stop offset=".421" stop-color="#00f9ff"/><stop offset=".435" stop-color="#03fffc"/><stop offset=".490" stop-color="#12ffed"/><stop offset=".579" stop-color="#18ffe7"/><stop offset=".997" stop-color="#06fff9"/></linearGradient>
<linearGradient id="hb80"><stop offset=".003" stop-color="#0055ff"/><stop offset=".045" stop-color="#0060ff"/><stop offset=".236" stop-color="#0063ff"/><stop offset=".291" stop-color="#006dff"/><stop offset=".312" stop-color="#0078ff"/><stop offset=".332" stop-color="#0088ff"/><stop offset=".408" stop-color="#00e1ff"/><stop offset=".435" stop-color="#00f4ff"/><stop offset=".462" stop-color="#00feff"/><stop offset=".517" stop-color="#08fff7"/><stop offset=".586" stop-color="#0afff5"/><stop offset=".805" stop-color="#00ffff"/><stop offset=".997" stop-color="#00f9ff"/></linearGradient>
<linearGradient id="hb81"><stop offset=".003" stop-color="#0055ff"/><stop offset=".045" stop-color="#0060ff"/><stop offset=".236" stop-color="#0062ff"/><stop offset=".291" stop-color="#006aff"/><stop offset=".332" stop-color="#0082ff"/><stop offset=".394" stop-color="#00c8ff"/><stop offset=".414" stop-color="#00daff"/><stop offset=".442" stop-color="#00ebff"/><stop offset=".483" stop-color="#00f6ff"/><stop offset=".620" stop-color="#00fcff"/><stop offset=".997" stop-color="#00edff"/></linearGradient>
<linearGradient id="hb82"><stop offset=".003" stop-color="#0055ff"/><stop offset=".024" stop-color="#005dff"/><stop offset=".051" stop-color="#0061ff"/><stop offset=".243" stop-color="#0061ff"/><stop offset=".298" stop-color="#0069ff"/><stop offset=".339" stop-color="#0082ff"/><stop offset=".394" stop-color="#00bdff"/><stop offset=".421" stop-color="#00d3ff"/><stop offset=".449" stop-color="#00e1ff"/><stop offset=".490" stop-color="#00ebff"/><stop offset=".620" stop-color="#00efff"/><stop offset=".997" stop-color="#00e2ff"/></linearGradient>
<linearGradient id="hb83"><stop offset=".003" stop-color="#0055ff"/><stop offset=".024" stop-color="#005dff"/><stop offset=".051" stop-color="#0061ff"/><stop offset=".250" stop-color="#005fff"/><stop offset=".298" stop-color="#0065ff"/><stop offset=".339" stop-color="#007bff"/><stop offset=".394" stop-color="#00b2ff"/><stop offset=".421" stop-color="#00c8ff"/><stop offset=".449" stop-color="#00d6ff"/><stop offset=".490" stop-color="#00dfff"/><stop offset=".620" stop-color="#00e4ff"/><stop offset=".997" stop-color="#00d7ff"/></linearGradient>
<linearGradient id="hb84"><stop offset=".003" stop-color="#0055ff"/><stop offset=".024" stop-color="#005dff"/><stop offset=".058" stop-color="#0061ff"/><stop offset=".257" stop-color="#005dff"/><stop offset=".298" stop-color="#0061ff"/><stop offset=".339" stop-color="#0075ff"/><stop offset=".421" stop-color="#00beff"/><stop offset=".449" stop-color="#00cbff"/><stop offset=".490" stop-color="#00d5ff"/><stop offset=".620" stop-color="#00d9ff"/><stop offset=".997" stop-color="#00ceff"/></linearGradient>
<linearGradient id="hb85"><stop offset=".003" stop-color="#0055ff"/><stop offset=".024" stop-color="#005dff"/><stop offset=".065" stop-color="#0061ff"/><stop offset=".161" stop-color="#0061ff"/><stop offset=".264" stop-color="#0059ff"/><stop offset=".305" stop-color="#005eff"/><stop offset=".346" stop-color="#0073ff"/><stop offset=".401" stop-color="#00a5ff"/><stop offset=".428" stop-color="#00b9ff"/><stop offset=".455" stop-color="#00c4ff"/><stop offset=".497" stop-color="#00ccff"/><stop offset=".620" stop-color="#00cfff"/><stop offset=".997" stop-color="#00c5ff"/></linearGradient>
<linearGradient id="hb86"><stop offset=".003" stop-color="#0055ff"/><stop offset=".031" stop-color="#005fff"/><stop offset=".086" stop-color="#0062ff"/><stop offset=".168" stop-color="#0060ff"/><stop offset=".271" stop-color="#0055ff"/><stop offset=".305" stop-color="#0058ff"/><stop offset=".346" stop-color="#006cff"/><stop offset=".401" stop-color="#009dff"/><stop offset=".428" stop-color="#00b0ff"/><stop offset=".455" stop-color="#00bcff"/><stop offset=".497" stop-color="#00c3ff"/><stop offset=".620" stop-color="#00c7ff"/><stop offset=".997" stop-color="#00bdff"/></linearGradient>
<linearGradient id="hb87"><stop offset=".003" stop-color="#0055ff"/><stop offset=".038" stop-color="#005fff"/><stop offset=".113" stop-color="#0061ff"/><stop offset=".182" stop-color="#005eff"/><stop offset=".271" stop-color="#004fff"/><stop offset=".305" stop-color="#0051ff"/><stop offset=".346" stop-color="#0064ff"/><stop offset=".401" stop-color="#0094ff"/><stop offset=".428" stop-color="#00a8ff"/><stop offset=".462" stop-color="#00b6ff"/><stop offset=".503" stop-color="#00bcff"/><stop offset=".620" stop-color="#00bfff"/><stop offset=".997" stop-color="#00b7ff"/></linearGradient>
<linearGradient id="hb88"><stop offset=".003" stop-color="#0055ff"/><stop offset=".045" stop-color="#0060ff"/><stop offset=".134" stop-color="#0061ff"/><stop offset=".188" stop-color="#005bff"/><stop offset=".271" stop-color="#0049ff"/><stop offset=".305" stop-color="#0049ff"/><stop offset=".346" stop-color="#005cff"/><stop offset=".408" stop-color="#0092ff"/><stop offset=".435" stop-color="#00a5ff"/><stop offset=".462" stop-color="#00afff"/><stop offset=".503" stop-color="#00b6ff"/><stop offset=".620" stop-color="#00b9ff"/><stop offset=".997" stop-color="#00b1ff"/></linearGradient>
<linearGradient id="hb89"><stop offset=".003" stop-color="#0055ff"/><stop offset=".045" stop-color="#0060ff"/><stop offset=".140" stop-color="#0060ff"/><stop offset=".195" stop-color="#0058ff"/><stop offset=".271" stop-color="#0042ff"/><stop offset=".305" stop-color="#0041ff"/><stop offset=".325" stop-color="#0047ff"/><stop offset=".346" stop-color="#0053ff"/><stop offset=".408" stop-color="#008cff"/><stop offset=".435" stop-color="#009eff"/><stop offset=".462" stop-color="#00a9ff"/><stop offset=".503" stop-color="#00b1ff"/><stop offset=".620" stop-color="#00b3ff"/><stop offset=".997" stop-color="#00acff"/></linearGradient>
<linearGradient id="hb90"><stop offset=".003" stop-color="#0055ff"/><stop offset=".024" stop-color="#005dff"/><stop offset=".051" stop-color="#0061ff"/><stop offset=".147" stop-color="#005fff"/><stop offset=".195" stop-color="#0056ff"/><stop offset=".271" stop-color="#003bff"/><stop offset=".298" stop-color="#0037ff"/><stop offset=".318" stop-color="#003bff"/><stop offset=".339" stop-color="#0046ff"/><stop offset=".428" stop-color="#0095ff"/><stop offset=".455" stop-color="#00a2ff"/><stop offset=".483" stop-color="#00aaff"/><stop offset=".599" stop-color="#00afff"/><stop offset=".997" stop-color="#00a8ff"/></linearGradient>
<linearGradient id="hb91"><stop offset=".003" stop-color="#0055ff"/><stop offset=".024" stop-color="#005dff"/><stop offset=".051" stop-color="#0061ff"/><stop offset=".147" stop-color="#005eff"/><stop offset=".195" stop-color="#0054ff"/><stop offset=".271" stop-color="#0033ff"/><stop offset=".305" stop-color="#002fff"/><stop offset=".325" stop-color="#0035ff"/><stop offset=".346" stop-color="#0042ff"/><stop offset=".408" stop-color="#0080ff"/><stop offset=".428" stop-color="#0090ff"/><stop offset=".455" stop-color="#009fff"/><stop offset=".483" stop-color="#00a6ff"/><stop offset=".592" stop-color="#00acff"/><stop offset=".997" stop-color="#00a5ff"/></linearGradient>
<linearGradient id="hb92"><stop offset=".003" stop-color="#0055ff"/><stop offset=".024" stop-color="#005dff"/><stop offset=".051" stop-color="#0061ff"/><stop offset=".154" stop-color="#005dff"/><stop offset=".202" stop-color="#004eff"/><stop offset=".271" stop-color="#002cff"/><stop offset=".305" stop-color="#0026ff"/><stop offset=".325" stop-color="#002cff"/><stop offset=".346" stop-color="#003aff"/><stop offset=".408" stop-color="#007bff"/><stop offset=".428" stop-color="#008dff"/><stop offset=".455" stop-color="#009cff"/><stop offset=".483" stop-color="#00a4ff"/><stop offset=".592" stop-color="#00aaff"/><stop offset=".997" stop-color="#00a4ff"/></linearGradient>
<linearGradient id="hb93"><stop offset=".003" stop-color="#0055ff"/><stop offset=".024" stop-color="#005dff"/><stop offset=".058" stop-color="#0061ff"/><stop offset=".154" stop-color="#005cff"/><stop offset=".202" stop-color="#004cff"/><stop offset=".271" stop-color="#0025ff"/><stop offset=".305" stop-color="#001eff"/><stop offset=".325" stop-color="#0025ff"/><stop offset=".346" stop-color="#0033ff"/><stop offset=".408" stop-color="#0078ff"/><stop offset=".428" stop-color="#008bff"/><stop offset=".455" stop-color="#009bff"/><stop offset=".483" stop-color="#00a3ff"/><stop offset=".586" stop-color="#00aaff"/><stop offset=".997" stop-color="#00a3ff"/></linearGradient>
<linearGradient id="hb94"><stop offset=".003" stop-color="#0055ff"/><stop offset=".024" stop-color="#005dff"/><stop offset=".058" stop-color="#0061ff"/><stop offset=".154" stop-color="#005cff"/><stop offset=".202" stop-color="#004aff"/><stop offset=".271" stop-color="#001fff"/><stop offset=".305" stop-color="#0018ff"/><stop offset=".325" stop-color="#001eff"/><stop offset=".346" stop-color="#002eff"/><stop offset=".408" stop-color="#0077ff"/><stop offset=".428" stop-color="#008aff"/><stop offset=".455" stop-color="#009bff"/><stop offset=".483" stop-color="#00a4ff"/><stop offset=".586" stop-color="#00aaff"/><stop offset=".997" stop-color="#00a3ff"/></linearGradient>
<linearGradient id="hb95"><stop offset=".003" stop-color="#0055ff"/><stop offset=".024" stop-color="#005dff"/><stop offset=".058" stop-color="#0061ff"/><stop offset=".154" stop-color="#005bff"/><stop offset=".202" stop-color="#0049ff"/><stop offset=".271" stop-color="#001cff"/><stop offset=".305" stop-color="#0013ff"/><stop offset=".325" stop-color="#001aff"/><stop offset=".346" stop-color="#002bff"/><stop offset=".408" stop-color="#0076ff"/><stop offset=".428" stop-color="#008bff"/><stop offset=".455" stop-color="#009cff"/><stop offset=".483" stop-color="#00a6ff"/><stop offset=".586" stop-color="#00acff"/><stop offset=".997" stop-color="#00a5ff"/></linearGradient>
<linearGradient id="hb96"><stop offset=".003" stop-color="#0055ff"/><stop offset=".024" stop-color="#005dff"/><stop offset=".058" stop-color="#0061ff"/><stop offset=".154" stop-color="#005bff"/><stop offset=".202" stop-color="#0048ff"/><stop offset=".271" stop-color="#001aff"/><stop offset=".305" stop-color="#0011ff"/><stop offset=".325" stop-color="#0019ff"/><stop offset=".346" stop-color="#0029ff"/><stop offset=".401" stop-color="#0070ff"/><stop offset=".428" stop-color="#008dff"/><stop offset=".455" stop-color="#009fff"/><stop offset=".483" stop-color="#00a9ff"/><stop offset=".586" stop-color="#00afff"/><stop offset=".997" stop-color="#00a8ff"/></linearGradient>
<linearGradient id="hb97"><stop offset=".003" stop-color="#0055ff"/><stop offset=".024" stop-color="#005dff"/><stop offset=".058" stop-color="#0061ff"/><stop offset=".154" stop-color="#005bff"/><stop offset=".202" stop-color="#0048ff"/><stop offset=".271" stop-color="#001aff"/><stop offset=".305" stop-color="#0012ff"/><stop offset=".325" stop-color="#0019ff"/><stop offset=".346" stop-color="#002bff"/><stop offset=".401" stop-color="#0073ff"/><stop offset=".428" stop-color="#0091ff"/><stop offset=".455" stop-color="#00a3ff"/><stop offset=".483" stop-color="#00adff"/><stop offset=".586" stop-color="#00b4ff"/><stop offset=".997" stop-color="#00abff"/></linearGradient>
<linearGradient id="hb98"><stop offset=".003" stop-color="#0055ff"/><stop offset=".024" stop-color="#005dff"/><stop offset=".058" stop-color="#0061ff"/><stop offset=".154" stop-color="#005bff"/><stop offset=".202" stop-color="#0049ff"/><stop offset=".271" stop-color="#001cff"/><stop offset=".305" stop-color="#0015ff"/><stop offset=".325" stop-color="#001dff"/><stop offset=".346" stop-color="#002fff"/><stop offset=".401" stop-color="#0078ff"/><stop offset=".428" stop-color="#0096ff"/><stop offset=".455" stop-color="#00a9ff"/><stop offset=".483" stop-color="#00b3ff"/><stop offset=".586" stop-color="#00b9ff"/><stop offset=".997" stop-color="#00b0ff"/></linearGradient>
<linearGradient id="hb99"><stop offset=".003" stop-color="#0055ff"/><stop offset=".024" stop-color="#005dff"/><stop offset=".058" stop-color="#0061ff"/><stop offset=".154" stop-color="#005cff"/><stop offset=".202" stop-color="#004aff"/><stop offset=".271" stop-color="#0020ff"/><stop offset=".305" stop-color="#001aff"/><stop offset=".325" stop-color="#0023ff"/><stop offset=".346" stop-color="#0035ff"/><stop offset=".401" stop-color="#007fff"/><stop offset=".428" stop-color="#009dff"/><stop offset=".455" stop-color="#00b0ff"/><stop offset=".483" stop-color="#00b9ff"/><stop offset=".586" stop-color="#00c0ff"/><stop offset=".997" stop-color="#00b6ff"/></linearGradient>
<linearGradient id="hb100"><stop offset=".003" stop-color="#0055ff"/><stop offset=".024" stop-color="#005dff"/><stop offset=".058" stop-color="#0061ff"/><stop offset=".154" stop-color="#005cff"/><stop offset=".195" stop-color="#004fff"/><stop offset=".271" stop-color="#0026ff"/><stop offset=".298" stop-color="#0021ff"/><stop offset=".318" stop-color="#0026ff"/><stop offset=".339" stop-color="#0036ff"/><stop offset=".360" stop-color="#004eff"/><stop offset=".401" stop-color="#0088ff"/><stop offset=".428" stop-color="#00a6ff"/><stop offset=".455" stop-color="#00b8ff"/><stop offset=".483" stop-color="#00c2ff"/><stop offset=".586" stop-color="#00c8ff"/><stop offset=".997" stop-color="#00bdff"/></linearGradient>
<linearGradient id="hb101"><stop offset=".003" stop-color="#0055ff"/><stop offset=".024" stop-color="#005dff"/><stop offset=".051" stop-color="#0061ff"/><stop offset=".147" stop-color="#005eff"/><stop offset=".195" stop-color="#0051ff"/><stop offset=".271" stop-color="#002dff"/><stop offset=".298" stop-color="#0029ff"/><stop offset=".318" stop-color="#0030ff"/><stop offset=".339" stop-color="#0040ff"/><stop offset=".401" stop-color="#0093ff"/><stop offset=".428" stop-color="#00b0ff"/><stop offset=".455" stop-color="#00c2ff"/><stop offset=".483" stop-color="#00cbff"/><stop offset=".586" stop-color="#00d2ff"/><stop offset=".997" stop-color="#00c5ff"/></linearGradient>
<linearGradient id="hb102"><stop offset=".003" stop-color="#0055ff"/><stop offset=".045" stop-color="#0060ff"/><stop offset=".140" stop-color="#005fff"/><stop offset=".195" stop-color="#0054ff"/><stop offset=".271" stop-color="#0035ff"/><stop offset=".305" stop-color="#0035ff"/><stop offset=".318" stop-color="#003bff"/><stop offset=".339" stop-color="#004cff"/><stop offset=".401" stop-color="#009fff"/><stop offset=".428" stop-color="#00bcff"/><stop offset=".462" stop-color="#00d0ff"/><stop offset=".503" stop-color="#00d9ff"/><stop offset=".599" stop-color="#00dcff"/><stop offset=".997" stop-color="#00ceff"/></linearGradient>
<linearGradient id="hb103"><stop offset=".003" stop-color="#0055ff"/><stop offset=".045" stop-color="#0060ff"/><stop offset=".134" stop-color="#0060ff"/><stop offset=".188" stop-color="#0058ff"/><stop offset=".271" stop-color="#003dff"/><stop offset=".305" stop-color="#003fff"/><stop offset=".325" stop-color="#004bff"/><stop offset=".339" stop-color="#0058ff"/><stop offset=".394" stop-color="#00a3ff"/><stop offset=".421" stop-color="#00c2ff"/><stop offset=".455" stop-color="#00d9ff"/><stop offset=".497" stop-color="#00e4ff"/><stop offset=".599" stop-color="#00e7ff"/><stop offset=".997" stop-color="#00d8ff"/></linearGradient>
<linearGradient id="hb104"><stop offset=".003" stop-color="#0055ff"/><stop offset=".045" stop-color="#0060ff"/><stop offset=".127" stop-color="#0061ff"/><stop offset=".182" stop-color="#005bff"/><stop offset=".264" stop-color="#0046ff"/><stop offset=".298" stop-color="#0048ff"/><stop offset=".318" stop-color="#0052ff"/><stop offset=".339" stop-color="#0065ff"/><stop offset=".394" stop-color="#00b2ff"/><stop offset=".421" stop-color="#00d0ff"/><stop offset=".455" stop-color="#00e6ff"/><stop offset=".497" stop-color="#00f0ff"/><stop offset=".599" stop-color="#00f4ff"/><stop offset=".997" stop-color="#00e3ff"/></linearGradient>
<linearGradient id="hb105"><stop offset=".003" stop-color="#0055ff"/><stop offset=".038" stop-color="#005fff"/><stop offset=".106" stop-color="#0061ff"/><stop offset=".175" stop-color="#005dff"/><stop offset=".264" stop-color="#004dff"/><stop offset=".298" stop-color="#0052ff"/><stop offset=".332" stop-color="#006aff"/><stop offset=".394" stop-color="#00c1ff"/><stop offset=".421" stop-color="#00dfff"/><stop offset=".449" stop-color="#00f0ff"/><stop offset=".490" stop-color="#00fdff"/><stop offset=".634" stop-color="#00ffff"/><stop offset=".839" stop-color="#00f2ff"/><stop offset=".997" stop-color="#00eeff"/></linearGradient>
<linearGradient id="hb106"><stop offset=".003" stop-color="#0055ff"/><stop offset=".031" stop-color="#005fff"/><stop offset=".079" stop-color="#0062ff"/><stop offset=".161" stop-color="#0060ff"/><stop offset=".257" stop-color="#0054ff"/><stop offset=".291" stop-color="#0058ff"/><stop offset=".312" stop-color="#0063ff"/><stop offset=".332" stop-color="#0077ff"/><stop offset=".387" stop-color="#00c7ff"/><stop offset=".408" stop-color="#00e1ff"/><stop offset=".428" stop-color="#00f3ff"/><stop offset=".449" stop-color="#00ffff"/><stop offset=".497" stop-color="#0cfff3"/><stop offset=".565" stop-color="#10ffef"/><stop offset=".825" stop-color="#00ffff"/><stop offset=".997" stop-color="#00faff"/></linearGradient>
<linearGradient id="hb107"><stop offset=".003" stop-color="#0055ff"/><stop offset=".024" stop-color="#005dff"/><stop offset=".058" stop-color="#0061ff"/><stop offset=".154" stop-color="#0061ff"/><stop offset=".250" stop-color="#005aff"/><stop offset=".291" stop-color="#0061ff"/><stop offset=".325" stop-color="#007bff"/><stop offset=".394" stop-color="#00e0ff"/><stop offset=".414" stop-color="#00f7ff"/><stop offset=".428" stop-color="#03fffc"/><stop offset=".476" stop-color="#17ffe8"/><stop offset=".558" stop-color="#1effe1"/><stop offset=".853" stop-color="#0bfff4"/><stop offset=".997" stop-color="#07fff8"/></linearGradient>
<linearGradient id="hb108"><stop offset=".003" stop-color="#0055ff"/><stop offset=".024" stop-color="#005dff"/><stop offset=".051" stop-color="#0061ff"/><stop offset=".243" stop-color="#005eff"/><stop offset=".284" stop-color="#0065ff"/><stop offset=".305" stop-color="#0071ff"/><stop offset=".325" stop-color="#0086ff"/><stop offset=".387" stop-color="#00e7ff"/><stop offset=".408" stop-color="#01fffe"/><stop offset=".428" stop-color="#12ffed"/><stop offset=".455" stop-color="#20ffdf"/><stop offset=".490" stop-color="#28ffd7"/><stop offset=".538" stop-color="#2cffd3"/><stop offset=".627" stop-color="#2affd5"/><stop offset=".860" stop-color="#18ffe7"/><stop offset=".997" stop-color="#14ffeb"/></linearGradient>
<linearGradient id="hb109"><stop offset=".003" stop-color="#0055ff"/><stop offset=".024" stop-color="#005dff"/><stop offset=".051" stop-color="#0061ff"/><stop offset=".229" stop-color="#0060ff"/><stop offset=".277" stop-color="#0068ff"/><stop offset=".298" stop-color="#0074ff"/><stop offset=".318" stop-color="#0088ff"/><stop offset=".394" stop-color="#00ffff"/><stop offset=".421" stop-color="#1cffe3"/><stop offset=".449" stop-color="#2cffd3"/><stop offset=".483" stop-color="#35ffca"/><stop offset=".524" stop-color="#3affc5"/><stop offset=".613" stop-color="#39ffc6"/><stop offset=".839" stop-color="#26ffd9"/><stop offset=".997" stop-color="#20ffdf"/></linearGradient>
<linearGradient id="hb110"><stop offset=".003" stop-color="#0055ff"/><stop offset=".045" stop-color="#0060ff"/><stop offset=".229" stop-color="#0062ff"/><stop offset=".277" stop-color="#006dff"/><stop offset=".298" stop-color="#007bff"/><stop offset=".318" stop-color="#0092ff"/><stop offset=".380" stop-color="#00fbff"/><stop offset=".387" stop-color="#06fff9"/><stop offset=".414" stop-color="#26ffd9"/><stop offset=".442" stop-color="#37ffc8"/><stop offset=".476" stop-color="#42ffbd"/><stop offset=".517" stop-color="#48ffb7"/><stop offset=".606" stop-color="#47ffb8"/><stop offset=".839" stop-color="#32ffcd"/><stop offset=".997" stop-color="#2cffd3"/></linearGradient>
<linearGradient id="hb111"><stop offset=".003" stop-color="#0055ff"/><stop offset=".045" stop-color="#0060ff"/><stop offset=".216" stop-color="#0063ff"/><stop offset=".271" stop-color="#006eff"/><stop offset=".291" stop-color="#007cff"/><stop offset=".312" stop-color="#0092ff"/><stop offset=".332" stop-color="#00b2ff"/><stop offset=".373" stop-color="#00feff"/><stop offset=".401" stop-color="#26ffd9"/><stop offset=".428" stop-color="#3effc1"/><stop offset=".462" stop-color="#4dffb2"/><stop offset=".510" stop-color="#55ffaa"/><stop offset=".606" stop-color="#55ffaa"/><stop offset=".839" stop-color="#3effc1"/><stop offset=".997" stop-color="#38ffc7"/></linearGradient>
<linearGradient id="hb112"><stop offset=".003" stop-color="#0055ff"/><stop offset=".045" stop-color="#0060ff"/><stop offset=".209" stop-color="#0064ff"/><stop offset=".264" stop-color="#006fff"/><stop offset=".291" stop-color="#0081ff"/><stop offset=".312" stop-color="#0099ff"/><stop offset=".332" stop-color="#00bcff"/><stop offset=".366" stop-color="#01fffe"/><stop offset=".394" stop-color="#2cffd3"/><stop offset=".421" stop-color="#47ffb8"/><stop offset=".455" stop-color="#58ffa7"/><stop offset=".503" stop-color="#61ff9e"/><stop offset=".606" stop-color="#62ff9d"/><stop offset=".839" stop-color="#4affb5"/><stop offset=".997" stop-color="#43ffbc"/></linearGradient>
<linearGradient id="hb113"><stop offset=".003" stop-color="#0055ff"/><stop offset=".045" stop-color="#0060ff"/><stop offset=".216" stop-color="#0065ff"/><stop offset=".264" stop-color="#0071ff"/><stop offset=".284" stop-color="#007fff"/><stop offset=".305" stop-color="#0097ff"/><stop offset=".325" stop-color="#00b9ff"/><stop offset=".360" stop-color="#00ffff"/><stop offset=".387" stop-color="#2fffd0"/><stop offset=".414" stop-color="#4effb1"/><stop offset=".449" stop-color="#61ff9e"/><stop offset=".497" stop-color="#6cff93"/><stop offset=".606" stop-color="#6dff92"/><stop offset=".839" stop-color="#55ffaa"/><stop offset=".997" stop-color="#4dffb2"/></linearGradient>
<linearGradient id="hb114"><stop offset=".003" stop-color="#0055ff"/><stop offset=".038" stop-color="#005fff"/><stop offset=".202" stop-color="#0064ff"/><stop offset=".257" stop-color="#0070ff"/><stop offset=".277" stop-color="#007dff"/><stop offset=".298" stop-color="#0093ff"/><stop offset=".318" stop-color="#00b4ff"/><stop offset=".353" stop-color="#00fbff"/><stop offset=".360" stop-color="#0afff5"/><stop offset=".387" stop-color="#3affc5"/><stop offset=".414" stop-color="#59ffa6"/><stop offset=".449" stop-color="#6cff93"/><stop offset=".497" stop-color="#77ff88"/><stop offset=".606" stop-color="#78ff87"/><stop offset=".839" stop-color="#5effa1"/><stop offset=".997" stop-color="#57ffa8"/></linearGradient>
<linearGradient id="hb115"><stop offset=".003" stop-color="#0055ff"/><stop offset=".045" stop-color="#0060ff"/><stop offset=".209" stop-color="#0065ff"/><stop offset=".257" stop-color="#0072ff"/><stop offset=".277" stop-color="#0080ff"/><stop offset=".298" stop-color="#0097ff"/><stop offset=".318" stop-color="#00baff"/><stop offset=".346" stop-color="#00f5ff"/><stop offset=".353" stop-color="#05fffa"/><stop offset=".380" stop-color="#3affc5"/><stop offset=".408" stop-color="#5cffa3"/><stop offset=".442" stop-color="#72ff8d"/><stop offset=".490" stop-color="#7fff80"/><stop offset=".599" stop-color="#82ff7d"/><stop offset=".839" stop-color="#66ff99"/><stop offset=".997" stop-color="#5fffa0"/></linearGradient>
<linearGradient id="hb116"><stop offset=".003" stop-color="#0055ff"/><stop offset=".038" stop-color="#005fff"/><stop offset=".195" stop-color="#0064ff"/><stop offset=".250" stop-color="#0070ff"/><stop offset=".271" stop-color="#007cff"/><stop offset=".291" stop-color="#0092ff"/><stop offset=".312" stop-color="#00b2ff"/><stop offset=".346" stop-color="#00fdff"/><stop offset=".353" stop-color="#0dfff2"/><stop offset=".380" stop-color="#42ffbd"/><stop offset=".408" stop-color="#64ff9b"/><stop offset=".442" stop-color="#7aff85"/><stop offset=".490" stop-color="#87ff78"/><stop offset=".599" stop-color="#89ff76"/><stop offset=".839" stop-color="#6dff92"/><stop offset=".997" stop-color="#65ff9a"/></linearGradient>
<linearGradient id="hb117"><stop offset=".003" stop-color="#0055ff"/><stop offset=".038" stop-color="#005fff"/><stop offset=".195" stop-color="#0065ff"/><stop offset=".250" stop-color="#0071ff"/><stop offset=".277" stop-color="#0084ff"/><stop offset=".298" stop-color="#009eff"/><stop offset=".312" stop-color="#00b6ff"/><stop offset=".346" stop-color="#04fffb"/><stop offset=".373" stop-color="#3dffc2"/><stop offset=".401" stop-color="#63ff9c"/><stop offset=".435" stop-color="#7dff82"/><stop offset=".483" stop-color="#8bff74"/><stop offset=".538" stop-color="#90ff6f"/><stop offset=".599" stop-color="#8fff70"/><stop offset=".839" stop-color="#72ff8d"/><stop offset=".997" stop-color="#6aff95"/></linearGradient>
<linearGradient id="hb118"><stop offset=".003" stop-color="#0055ff"/><stop offset=".045" stop-color="#0060ff"/><stop offset=".202" stop-color="#0065ff"/><stop offset=".250" stop-color="#0072ff"/><stop offset=".271" stop-color="#007fff"/><stop offset=".291" stop-color="#0096ff"/><stop offset=".312" stop-color="#00b9ff"/><stop offset=".339" stop-color="#00f6ff"/><stop offset=".346" stop-color="#07fff8"/><stop offset=".373" stop-color="#41ffbe"/><stop offset=".401" stop-color="#67ff98"/><stop offset=".435" stop-color="#81ff7e"/><stop offset=".483" stop-color="#8fff70"/><stop offset=".538" stop-color="#94ff6b"/><stop offset=".599" stop-color="#93ff6c"/><stop offset=".839" stop-color="#76ff89"/><stop offset=".997" stop-color="#6dff92"/></linearGradient>
<linearGradient id="hb119"><stop offset=".003" stop-color="#0055ff"/><stop offset=".045" stop-color="#0060ff"/><stop offset=".202" stop-color="#0065ff"/><stop offset=".250" stop-color="#0072ff"/><stop offset=".271" stop-color="#0080ff"/><stop offset=".291" stop-color="#0097ff"/><stop offset=".312" stop-color="#00baff"/><stop offset=".339" stop-color="#00f8ff"/><stop offset=".346" stop-color="#09fff6"/><stop offset=".373" stop-color="#43ffbc"/><stop offset=".401" stop-color="#69ff96"/><stop offset=".435" stop-color="#83ff7c"/><stop offset=".483" stop-color="#91ff6e"/><stop offset=".538" stop-color="#96ff69"/><stop offset=".599" stop-color="#94ff6b"/><stop offset=".839" stop-color="#77ff88"/><stop offset=".997" stop-color="#6fff90"/></linearGradient>
<linearGradient id="hb120"><stop offset=".003" stop-color="#0055ff"/><stop offset=".045" stop-color="#0060ff"/><stop offset=".202" stop-color="#0065ff"/><stop offset=".250" stop-color="#0072ff"/><stop offset=".271" stop-color="#0080ff"/><stop offset=".291" stop-color="#0097ff"/><stop offset=".312" stop-color="#00baff"/><stop offset=".339" stop-color="#00f8ff"/><stop offset=".346" stop-color="#09fff6"/><stop offset=".373" stop-color="#43ffbc"/><stop offset=".401" stop-color="#69ff96"/><stop offset=".435" stop-color="#83ff7c"/><stop offset=".483" stop-color="#91ff6e"/><stop offset=".538" stop-color="#96ff69"/><stop offset=".599" stop-color="#94ff6b"/><stop offset=".839" stop-color="#77ff88"/><stop offset=".997" stop-color="#6fff90"/></linearGradient>
<linearGradient id="hb121"><stop offset=".003" stop-color="#0055ff"/><stop offset=".045" stop-color="#0060ff"/><stop offset=".202" stop-color="#0065ff"/><stop offset=".250" stop-color="#0072ff"/><stop offset=".271" stop-color="#007fff"/><stop offset=".291" stop-color="#0096ff"/><stop offset=".312" stop-color="#00b9ff"/><stop offset=".339" stop-color="#00f7ff"/><stop offset=".346" stop-color="#08fff7"/><stop offset=".373" stop-color="#42ffbd"/><stop offset=".401" stop-color="#68ff97"/><stop offset=".435" stop-color="#82ff7d"/><stop offset=".483" stop-color="#90ff6f"/><stop offset=".538" stop-color="#95ff6a"/><stop offset=".599" stop-color="#93ff6c"/><stop offset=".839" stop-color="#76ff89"/><stop offset=".997" stop-color="#6eff91"/></linearGradient>
<linearGradient id="hb122"><stop offset=".003" stop-color="#0055ff"/><stop offset=".038" stop-color="#005fff"/><stop offset=".195" stop-color="#0065ff"/><stop offset=".250" stop-color="#0071ff"/><stop offset=".277" stop-color="#0085ff"/><stop offset=".298" stop-color="#009fff"/><stop offset=".318" stop-color="#00c5ff"/><stop offset=".339" stop-color="#00f4ff"/><stop offset=".346" stop-color="#05fffa"/><stop offset=".373" stop-color="#3fffc0"/><stop offset=".401" stop-color="#66ff99"/><stop offset=".435" stop-color="#7fff80"/><stop offset=".483" stop-color="#8dff72"/><stop offset=".538" stop-color="#92ff6d"/><stop offset=".599" stop-color="#91ff6e"/><stop offset=".839" stop-color="#74ff8b"/><stop offset=".997" stop-color="#6cff93"/></linearGradient>
<linearGradient id="hb123"><stop offset=".003" stop-color="#0055ff"/><stop offset=".038" stop-color="#005fff"/><stop offset=".195" stop-color="#0064ff"/><stop offset=".250" stop-color="#0071ff"/><stop offset=".277" stop-color="#0083ff"/><stop offset=".298" stop-color="#009dff"/><stop offset=".318" stop-color="#00c2ff"/><stop offset=".346" stop-color="#01fffe"/><stop offset=".366" stop-color="#2dffd2"/><stop offset=".380" stop-color="#46ffb9"/><stop offset=".408" stop-color="#68ff97"/><stop offset=".442" stop-color="#7eff81"/><stop offset=".483" stop-color="#89ff76"/><stop offset=".538" stop-color="#8eff71"/><stop offset=".599" stop-color="#8dff72"/><stop offset=".839" stop-color="#70ff8f"/><stop offset=".997" stop-color="#68ff97"/></linearGradient>
<linearGradient id="hb124"><stop offset=".003" stop-color="#0055ff"/><stop offset=".045" stop-color="#0060ff"/><stop offset=".209" stop-color="#0066ff"/><stop offset=".257" stop-color="#0073ff"/><stop offset=".277" stop-color="#0081ff"/><stop offset=".298" stop-color="#0099ff"/><stop offset=".318" stop-color="#00bdff"/><stop offset=".346" stop-color="#00f9ff"/><stop offset=".353" stop-color="#0afff5"/><stop offset=".380" stop-color="#3fffc0"/><stop offset=".408" stop-color="#61ff9e"/><stop offset=".442" stop-color="#78ff87"/><stop offset=".490" stop-color="#84ff7b"/><stop offset=".599" stop-color="#87ff78"/><stop offset=".839" stop-color="#6bff94"/><stop offset=".997" stop-color="#63ff9c"/></linearGradient>
<linearGradient id="hb125"><stop offset=".003" stop-color="#0055ff"/><stop offset=".045" stop-color="#0060ff"/><stop offset=".209" stop-color="#0065ff"/><stop offset=".257" stop-color="#0072ff"/><stop offset=".284" stop-color="#0085ff"/><stop offset=".305" stop-color="#009fff"/><stop offset=".325" stop-color="#00c5ff"/><stop offset=".353" stop-color="#01fffe"/><stop offset=".380" stop-color="#36ffc9"/><stop offset=".408" stop-color="#59ffa6"/><stop offset=".442" stop-color="#6fff90"/><stop offset=".490" stop-color="#7cff83"/><stop offset=".599" stop-color="#7fff80"/><stop offset=".839" stop-color="#63ff9c"/><stop offset=".997" stop-color="#5cffa3"/></linearGradient>
<linearGradient id="hb126"><stop offset=".003" stop-color="#0055ff"/><stop offset=".038" stop-color="#005fff"/><stop offset=".202" stop-color="#0064ff"/><stop offset=".257" stop-color="#0070ff"/><stop offset=".284" stop-color="#0082ff"/><stop offset=".305" stop-color="#009aff"/><stop offset=".325" stop-color="#00bdff"/><stop offset=".353" stop-color="#00f7ff"/><stop offset=".360" stop-color="#06fff9"/><stop offset=".387" stop-color="#36ffc9"/><stop offset=".414" stop-color="#54ffab"/><stop offset=".449" stop-color="#68ff97"/><stop offset=".497" stop-color="#72ff8d"/><stop offset=".606" stop-color="#74ff8b"/><stop offset=".839" stop-color="#5affa5"/><stop offset=".997" stop-color="#53ffac"/></linearGradient>
<linearGradient id="hb127"><stop offset=".003" stop-color="#0055ff"/><stop offset=".045" stop-color="#0060ff"/><stop offset=".216" stop-color="#0065ff"/><stop offset=".264" stop-color="#0071ff"/><stop offset=".284" stop-color="#007fff"/><stop offset=".305" stop-color="#0095ff"/><stop offset=".325" stop-color="#00b5ff"/><stop offset=".360" stop-color="#00f9ff"/><stop offset=".366" stop-color="#07fff8"/><stop offset=".394" stop-color="#33ffcc"/><stop offset=".421" stop-color="#4dffb2"/><stop offset=".455" stop-color="#5effa1"/><stop offset=".503" stop-color="#67ff98"/><stop offset=".606" stop-color="#67ff98"/><stop offset=".839" stop-color="#4fffb0"/><stop offset=".997" stop-color="#48ffb7"/></linearGradient>
<linearGradient id="hb128"><stop offset=".003" stop-color="#0055ff"/><stop offset=".038" stop-color="#005fff"/><stop offset=".209" stop-color="#0064ff"/><stop offset=".264" stop-color="#0070ff"/><stop offset=".291" stop-color="#0081ff"/><stop offset=".312" stop-color="#0098ff"/><stop offset=".332" stop-color="#00b8ff"/><stop offset=".366" stop-color="#00f9ff"/><stop offset=".373" stop-color="#06fff9"/><stop offset=".401" stop-color="#2cffd3"/><stop offset=".428" stop-color="#43ffbc"/><stop offset=".462" stop-color="#51ffae"/><stop offset=".510" stop-color="#59ffa6"/><stop offset=".606" stop-color="#59ffa6"/><stop offset=".839" stop-color="#42ffbd"/><stop offset=".997" stop-color="#3bffc4"/></linearGradient>
<linearGradient id="hb129"><stop offset=".003" stop-color="#0055ff"/><stop offset=".038" stop-color="#005fff"/><stop offset=".209" stop-color="#0064ff"/><stop offset=".271" stop-color="#0070ff"/><stop offset=".298" stop-color="#0082ff"/><stop offset=".318" stop-color="#009aff"/><stop offset=".380" stop-color="#02fffd"/><stop offset=".408" stop-color="#24ffdb"/><stop offset=".435" stop-color="#37ffc8"/><stop offset=".469" stop-color="#43ffbc"/><stop offset=".517" stop-color="#49ffb6"/><stop offset=".613" stop-color="#48ffb7"/><stop offset=".839" stop-color="#33ffcc"/><stop offset=".997" stop-color="#2dffd2"/></linearGradient>
<linearGradient id="hb130"><stop offset=".003" stop-color="#0055ff"/><stop offset=".038" stop-color="#005fff"/><stop offset=".216" stop-color="#0064ff"/><stop offset=".277" stop-color="#0071ff"/><stop offset=".298" stop-color="#007eff"/><stop offset=".318" stop-color="#0092ff"/><stop offset=".380" stop-color="#00f1ff"/><stop offset=".394" stop-color="#04fffb"/><stop offset=".421" stop-color="#1effe1"/><stop offset=".449" stop-color="#2bffd4"/><stop offset=".483" stop-color="#34ffcb"/><stop offset=".531" stop-color="#38ffc7"/><stop offset=".613" stop-color="#37ffc8"/><stop offset=".839" stop-color="#23ffdc"/><stop offset=".997" stop-color="#1dffe2"/></linearGradient>
<linearGradient id="hb131"><stop offset=".003" stop-color="#0055ff"/><stop offset=".045" stop-color="#0060ff"/><stop offset=".216" stop-color="#0064ff"/><stop offset=".277" stop-color="#006fff"/><stop offset=".298" stop-color="#0079ff"/><stop offset=".318" stop-color="#008bff"/><stop offset=".339" stop-color="#00a4ff"/><stop offset=".380" stop-color="#00e1ff"/><stop offset=".408" stop-color="#01fffe"/><stop offset=".428" stop-color="#10ffef"/><stop offset=".455" stop-color="#1bffe4"/><stop offset=".538" stop-color="#26ffd9"/><stop offset=".627" stop-color="#23ffdc"/><stop offset=".853" stop-color="#11ffee"/><stop offset=".997" stop-color="#0dfff2"/></linearGradient>
<linearGradient id="hb132"><stop offset=".003" stop-color="#0055ff"/><stop offset=".045" stop-color="#0060ff"/><stop offset=".223" stop-color="#0064ff"/><stop offset=".284" stop-color="#006fff"/><stop offset=".318" stop-color="#0084ff"/><stop offset=".339" stop-color="#009aff"/><stop offset=".394" stop-color="#00e1ff"/><stop offset=".414" stop-color="#00f4ff"/><stop offset=".435" stop-color="#01fffe"/><stop offset=".483" stop-color="#0efff1"/><stop offset=".558" stop-color="#12ffed"/><stop offset=".853" stop-color="#00ffff"/><stop offset=".997" stop-color="#00fbff"/></linearGradient>
<linearGradient id="hb133"><stop offset=".003" stop-color="#0055ff"/><stop offset=".045" stop-color="#0060ff"/><stop offset=".223" stop-color="#0063ff"/><stop offset=".284" stop-color="#006cff"/><stop offset=".325" stop-color="#0084ff"/><stop offset=".387" stop-color="#00caff"/><stop offset=".414" stop-color="#00e2ff"/><stop offset=".442" stop-color="#00f0ff"/><stop offset=".483" stop-color="#00faff"/><stop offset=".599" stop-color="#00fdff"/><stop offset=".839" stop-color="#00eeff"/><stop offset=".997" stop-color="#00eaff"/></linearGradient>
<linearGradient id="hb134"><stop offset=".003" stop-color="#0055ff"/><stop offset=".045" stop-color="#0060ff"/><stop offset=".229" stop-color="#0063ff"/><stop offset=".291" stop-color="#006cff"/><stop offset=".332" stop-color="#0083ff"/><stop offset=".387" stop-color="#00baff"/><stop offset=".414" stop-color="#00d0ff"/><stop offset=".442" stop-color="#00deff"/><stop offset=".483" stop-color="#00e7ff"/><stop offset=".599" stop-color="#00eaff"/><stop offset=".997" stop-color="#00d9ff"/></linearGradient>
<linearGradient id="hb135"><stop offset=".003" stop-color="#0055ff"/><stop offset=".045" stop-color="#0060ff"/><stop offset=".229" stop-color="#0063ff"/><stop offset=".291" stop-color="#006aff"/><stop offset=".332" stop-color="#007dff"/><stop offset=".414" stop-color="#00c0ff"/><stop offset=".442" stop-color="#00ccff"/><stop offset=".483" stop-color="#00d5ff"/><stop offset=".606" stop-color="#00d7ff"/><stop offset=".997" stop-color="#00c9ff"/></linearGradient>
<linearGradient id="hb136"><stop offset=".003" stop-color="#0055ff"/><stop offset=".024" stop-color="#005dff"/><stop offset=".051" stop-color="#0061ff"/><stop offset=".236" stop-color="#0063ff"/><stop offset=".298" stop-color="#006aff"/><stop offset=".339" stop-color="#007bff"/><stop offset=".414" stop-color="#00b1ff"/><stop offset=".442" stop-color="#00bbff"/><stop offset=".483" stop-color="#00c3ff"/><stop offset=".606" stop-color="#00c6ff"/><stop offset=".997" stop-color="#00b9ff"/></linearGradient>
<linearGradient id="hb137"><stop offset=".003" stop-color="#0055ff"/><stop offset=".024" stop-color="#005dff"/><stop offset=".051" stop-color="#0061ff"/><stop offset=".243" stop-color="#0063ff"/><stop offset=".298" stop-color="#0068ff"/><stop offset=".339" stop-color="#0076ff"/><stop offset=".421" stop-color="#00a5ff"/><stop offset=".490" stop-color="#00b4ff"/><stop offset=".613" stop-color="#00b5ff"/><stop offset=".997" stop-color="#00abff"/></linearGradient>
<linearGradient id="hb138"><stop offset=".003" stop-color="#0055ff"/><stop offset=".024" stop-color="#005dff"/><stop offset=".051" stop-color="#0061ff"/><stop offset=".250" stop-color="#0062ff"/><stop offset=".305" stop-color="#0067ff"/><stop offset=".339" stop-color="#0071ff"/><stop offset=".421" stop-color="#0099ff"/><stop offset=".490" stop-color="#00a5ff"/><stop offset=".997" stop-color="#009eff"/></linearGradient>
<linearGradient id="hb139"><stop offset=".003" stop-color="#0055ff"/><stop offset=".024" stop-color="#005dff"/><stop offset=".051" stop-color="#0061ff"/><stop offset=".305" stop-color="#0065ff"/><stop offset=".346" stop-color="#006fff"/><stop offset=".421" stop-color="#008dff"/><stop offset=".490" stop-color="#0098ff"/><stop offset=".997" stop-color="#0092ff"/></linearGradient>
<linearGradient id="hb140"><stop offset=".003" stop-color="#0055ff"/><stop offset=".024" stop-color="#005dff"/><stop offset=".058" stop-color="#0061ff"/><stop offset=".305" stop-color="#0064ff"/><stop offset=".346" stop-color="#006cff"/><stop offset=".428" stop-color="#0085ff"/><stop offset=".490" stop-color="#008dff"/><stop offset=".997" stop-color="#0088ff"/></linearGradient>
<linearGradient id="hb141"><stop offset=".003" stop-color="#0055ff"/><stop offset=".024" stop-color="#005dff"/><stop offset=".058" stop-color="#0061ff"/><stop offset=".312" stop-color="#0063ff"/><stop offset=".428" stop-color="#007cff"/><stop offset=".497" stop-color="#0084ff"/><stop offset=".997" stop-color="#007fff"/></linearGradient>
<linearGradient id="hb142"><stop offset=".003" stop-color="#0055ff"/><stop offset=".024" stop-color="#005dff"/><stop offset=".058" stop-color="#0061ff"/><stop offset=".312" stop-color="#0061ff"/><stop offset=".428" stop-color="#0075ff"/><stop offset=".497" stop-color="#007bff"/><stop offset=".997" stop-color="#0077ff"/></linearGradient>
<linearGradient id="hb143"><stop offset=".003" stop-color="#0055ff"/><stop offset=".024" stop-color="#005dff"/><stop offset=".058" stop-color="#0061ff"/><stop offset=".312" stop-color="#0060ff"/><stop offset=".497" stop-color="#0075ff"/><stop offset=".997" stop-color="#0070ff"/></linearGradient>
<linearGradient id="hb144"><stop offset=".003" stop-color="#0055ff"/><stop offset=".024" stop-color="#005dff"/><stop offset=".051" stop-color="#0060ff"/><stop offset=".305" stop-color="#005eff"/><stop offset=".497" stop-color="#006fff"/><stop offset=".997" stop-color="#006bff"/></linearGradient>
<linearGradient id="hb145"><stop offset=".003" stop-color="#0055ff"/><stop offset=".024" stop-color="#005dff"/><stop offset=".058" stop-color="#0060ff"/><stop offset=".305" stop-color="#005dff"/><stop offset=".497" stop-color="#006aff"/><stop offset=".997" stop-color="#0066ff"/></linearGradient>
<linearGradient id="hb146"><stop offset=".003" stop-color="#0055ff"/><stop offset=".024" stop-color="#005dff"/><stop offset=".058" stop-color="#0060ff"/><stop offset=".305" stop-color="#005bff"/><stop offset=".497" stop-color="#0067ff"/><stop offset=".695" stop-color="#0062ff"/><stop offset=".771" stop-color="#0066ff"/><stop offset=".997" stop-color="#0062ff"/></linearGradient>
<linearGradient id="hb147"><stop offset=".003" stop-color="#0055ff"/><stop offset=".031" stop-color="#005eff"/><stop offset=".086" stop-color="#0061ff"/><stop offset=".305" stop-color="#0059ff"/><stop offset=".497" stop-color="#0063ff"/><stop offset=".695" stop-color="#005dff"/><stop offset=".771" stop-color="#0063ff"/><stop offset=".997" stop-color="#005eff"/></linearGradient>
<linearGradient id="hb148"><stop offset=".003" stop-color="#0054ff"/><stop offset=".031" stop-color="#005eff"/><stop offset=".086" stop-color="#0060ff"/><stop offset=".236" stop-color="#005eff"/><stop offset=".305" stop-color="#0057ff"/><stop offset=".497" stop-color="#0061ff"/><stop offset=".695" stop-color="#005aff"/><stop offset=".771" stop-color="#0060ff"/><stop offset=".997" stop-color="#005bff"/></linearGradient>
<linearGradient id="hb149"><stop offset=".003" stop-color="#0054ff"/><stop offset=".031" stop-color="#005dff"/><stop offset=".092" stop-color="#0060ff"/><stop offset=".236" stop-color="#005dff"/><stop offset=".305" stop-color="#0055ff"/><stop offset=".366" stop-color="#0059ff"/><stop offset=".435" stop-color="#0058ff"/><stop offset=".497" stop-color="#005fff"/><stop offset=".565" stop-color="#0058ff"/><stop offset=".634" stop-color="#005bff"/><stop offset=".695" stop-color="#0056ff"/><stop offset=".771" stop-color="#005eff"/><stop offset=".832" stop-color="#0059ff"/><stop offset=".901" stop-color="#005cff"/><stop offset=".962" stop-color="#0055ff"/><stop offset=".997" stop-color="#0057ff"/></linearGradient>
<linearGradient id="hb150"><stop offset=".003" stop-color="#0054ff"/><stop offset=".031" stop-color="#005dff"/><stop offset=".092" stop-color="#0060ff"/><stop offset=".236" stop-color="#005cff"/><stop offset=".305" stop-color="#0052ff"/><stop offset=".366" stop-color="#0057ff"/><stop offset=".435" stop-color="#0055ff"/><stop offset=".503" stop-color="#005dff"/><stop offset=".565" stop-color="#0055ff"/><stop offset=".634" stop-color="#0058ff"/><stop offset=".695" stop-color="#0052ff"/><stop offset=".771" stop-color="#005cff"/><stop offset=".832" stop-color="#0056ff"/><stop offset=".901" stop-color="#005aff"/><stop offset=".962" stop-color="#0052ff"/><stop offset=".997" stop-color="#0054ff"/></linearGradient>
<linearGradient id="hb151"><stop offset=".003" stop-color="#0054ff"/><stop offset=".031" stop-color="#005dff"/><stop offset=".092" stop-color="#005fff"/><stop offset=".236" stop-color="#005bff"/><stop offset=".305" stop-color="#004fff"/><stop offset=".366" stop-color="#0055ff"/><stop offset=".435" stop-color="#0052ff"/><stop offset=".503" stop-color="#005bff"/><stop offset=".565" stop-color="#0052ff"/><stop offset=".634" stop-color="#0056ff"/><stop offset=".695" stop-color="#004fff"/><stop offset=".771" stop-color="#005aff"/><stop offset=".832" stop-color="#0054ff"/><stop offset=".901" stop-color="#0058ff"/><stop offset=".962" stop-color="#004eff"/><stop offset=".997" stop-color="#0051ff"/></linearGradient>
<linearGradient id="hb152"><stop offset=".003" stop-color="#0054ff"/><stop offset=".031" stop-color="#005dff"/><stop offset=".092" stop-color="#005fff"/><stop offset=".175" stop-color="#0059ff"/><stop offset=".236" stop-color="#005aff"/><stop offset=".305" stop-color="#004dff"/><stop offset=".366" stop-color="#0053ff"/><stop offset=".435" stop-color="#004fff"/><stop offset=".503" stop-color="#0059ff"/><stop offset=".565" stop-color="#004fff"/><stop offset=".634" stop-color="#0053ff"/><stop offset=".695" stop-color="#004bff"/><stop offset=".771" stop-color="#0058ff"/><stop offset=".832" stop-color="#0051ff"/><stop offset=".901" stop-color="#0055ff"/><stop offset=".962" stop-color="#004aff"/><stop offset=".997" stop-color="#004eff"/></linearGradient>
<linearGradient id="hb153"><stop offset=".003" stop-color="#0054ff"/><stop offset=".031" stop-color="#005dff"/><stop offset=".092" stop-color="#005fff"/><stop offset=".175" stop-color="#0058ff"/><stop offset=".236" stop-color="#0059ff"/><stop offset=".305" stop-color="#004aff"/><stop offset=".366" stop-color="#0051ff"/><stop offset=".435" stop-color="#004cff"/><stop offset=".503" stop-color="#0058ff"/><stop offset=".565" stop-color="#004cff"/><stop offset=".634" stop-color="#0051ff"/><stop offset=".695" stop-color="#0048ff"/><stop offset=".771" stop-color="#0057ff"/><stop offset=".832" stop-color="#004eff"/><stop offset=".901" stop-color="#0053ff"/><stop offset=".962" stop-color="#0047ff"/><stop offset=".997" stop-color="#004bff"/></linearGradient>
<linearGradient id="hb154"><stop offset=".003" stop-color="#0054ff"/><stop offset=".031" stop-color="#005cff"/><stop offset=".092" stop-color="#005eff"/><stop offset=".175" stop-color="#0057ff"/><stop offset=".236" stop-color="#0057ff"/><stop offset=".305" stop-color="#0047ff"/><stop offset=".366" stop-color="#004fff"/><stop offset=".435" stop-color="#0049ff"/><stop offset=".503" stop-color="#0057ff"/><stop offset=".565" stop-color="#0049ff"/><stop offset=".634" stop-color="#004fff"/><stop offset=".695" stop-color="#0045ff"/><stop offset=".771" stop-color="#0055ff"/><stop offset=".832" stop-color="#004cff"/><stop offset=".901" stop-color="#0052ff"/><stop offset=".962" stop-color="#0044ff"/><stop offset=".997" stop-color="#0048ff"/></linearGradient>
<linearGradient id="hb155"><stop offset=".003" stop-color="#0054ff"/><stop offset=".031" stop-color="#005cff"/><stop offset=".092" stop-color="#005eff"/><stop offset=".175" stop-color="#0055ff"/><stop offset=".236" stop-color="#0056ff"/><stop offset=".305" stop-color="#0044ff"/><stop offset=".366" stop-color="#004dff"/><stop offset=".435" stop-color="#0046ff"/><stop offset=".503" stop-color="#0055ff"/><stop offset=".565" stop-color="#0046ff"/><stop offset=".634" stop-color="#004cff"/><stop offset=".695" stop-color="#0042ff"/><stop offset=".771" stop-color="#0054ff"/><stop offset=".832" stop-color="#0049ff"/><stop offset=".901" stop-color="#0050ff"/><stop offset=".962" stop-color="#0041ff"/><stop offset=".997" stop-color="#0046ff"/></linearGradient>
<linearGradient id="hb156"><stop offset=".003" stop-color="#0054ff"/><stop offset=".031" stop-color="#005cff"/><stop offset=".079" stop-color="#005eff"/><stop offset=".175" stop-color="#0054ff"/><stop offset=".229" stop-color="#0056ff"/><stop offset=".305" stop-color="#0042ff"/><stop offset=".366" stop-color="#004bff"/><stop offset=".435" stop-color="#0044ff"/><stop offset=".503" stop-color="#0054ff"/><stop offset=".565" stop-color="#0044ff"/><stop offset=".634" stop-color="#004bff"/><stop offset=".695" stop-color="#003fff"/><stop offset=".771" stop-color="#0052ff"/><stop offset=".832" stop-color="#0047ff"/><stop offset=".901" stop-color="#004eff"/><stop offset=".962" stop-color="#003eff"/><stop offset=".997" stop-color="#0043ff"/></linearGradient>
<linearGradient id="hb157"><stop offset=".003" stop-color="#0054ff"/><stop offset=".031" stop-color="#005cff"/><stop offset=".079" stop-color="#005dff"/><stop offset=".175" stop-color="#0053ff"/><stop offset=".229" stop-color="#0055ff"/><stop offset=".305" stop-color="#003fff"/><stop offset=".366" stop-color="#004aff"/><stop offset=".435" stop-color="#0042ff"/><stop offset=".503" stop-color="#0053ff"/><stop offset=".565" stop-color="#0042ff"/><stop offset=".634" stop-color="#0049ff"/><stop offset=".695" stop-color="#003dff"/><stop offset=".771" stop-color="#0051ff"/><stop offset=".832" stop-color="#0045ff"/><stop offset=".901" stop-color="#004dff"/><stop offset=".962" stop-color="#003bff"/><stop offset=".997" stop-color="#0041ff"/></linearGradient>
<linearGradient id="hb158"><stop offset=".003" stop-color="#0053ff"/><stop offset=".031" stop-color="#005cff"/><stop offset=".079" stop-color="#005dff"/><stop offset=".175" stop-color="#0053ff"/><stop offset=".229" stop-color="#0055ff"/><stop offset=".305" stop-color="#003eff"/><stop offset=".366" stop-color="#0048ff"/><stop offset=".435" stop-color="#0040ff"/><stop offset=".503" stop-color="#0052ff"/><stop offset=".565" stop-color="#0040ff"/><stop offset=".634" stop-color="#0047ff"/><stop offset=".695" stop-color="#003aff"/><stop offset=".771" stop-color="#0050ff"/><stop offset=".832" stop-color="#0044ff"/><stop offset=".901" stop-color="#004cff"/><stop offset=".962" stop-color="#0039ff"/><stop offset=".997" stop-color="#003fff"/></linearGradient>
<linearGradient id="hb159"><stop offset=".003" stop-color="#0053ff"/><stop offset=".031" stop-color="#005bff"/><stop offset=".086" stop-color="#005dff"/><stop offset=".175" stop-color="#0052ff"/><stop offset=".229" stop-color="#0054ff"/><stop offset=".305" stop-color="#003cff"/><stop offset=".366" stop-color="#0047ff"/><stop offset=".435" stop-color="#003fff"/><stop offset=".483" stop-color="#004fff"/><stop offset=".503" stop-color="#0051ff"/><stop offset=".565" stop-color="#003eff"/><stop offset=".634" stop-color="#0046ff"/><stop offset=".695" stop-color="#0039ff"/><stop offset=".771" stop-color="#004fff"/><stop offset=".832" stop-color="#0042ff"/><stop offset=".901" stop-color="#004bff"/><stop offset=".962" stop-color="#0037ff"/><stop offset=".997" stop-color="#003eff"/></linearGradient>
<linearGradient id="hb160"><stop offset=".003" stop-color="#0053ff"/><stop offset=".031" stop-color="#005bff"/><stop offset=".086" stop-color="#005dff"/><stop offset=".175" stop-color="#0051ff"/><stop offset=".229" stop-color="#0054ff"/><stop offset=".305" stop-color="#003aff"/><stop offset=".366" stop-color="#0046ff"/><stop offset=".435" stop-color="#003dff"/><stop offset=".483" stop-color="#004eff"/><stop offset=".503" stop-color="#0051ff"/><stop offset=".565" stop-color="#003dff"/><stop offset=".634" stop-color="#0045ff"/><stop offset=".695" stop-color="#0037ff"/><stop offset=".771" stop-color="#004fff"/><stop offset=".832" stop-color="#0041ff"/><stop offset=".901" stop-color="#004aff"/><stop offset=".962" stop-color="#0035ff"/><stop offset=".997" stop-color="#003cff"/></linearGradient>
<linearGradient id="hb161"><stop offset=".003" stop-color="#0053ff"/><stop offset=".031" stop-color="#005bff"/><stop offset=".086" stop-color="#005dff"/><stop offset=".175" stop-color="#0051ff"/><stop offset=".229" stop-color="#0053ff"/><stop offset=".305" stop-color="#0039ff"/><stop offset=".366" stop-color="#0045ff"/><stop offset=".435" stop-color="#003cff"/><stop offset=".483" stop-color="#004eff"/><stop offset=".503" stop-color="#0050ff"/><stop offset=".565" stop-color="#003cff"/><stop offset=".634" stop-color="#0044ff"/><stop offset=".695" stop-color="#0036ff"/><stop offset=".771" stop-color="#004eff"/><stop offset=".832" stop-color="#0040ff"/><stop offset=".901" stop-color="#0049ff"/><stop offset=".962" stop-color="#0034ff"/><stop offset=".997" stop-color="#003bff"/></linearGradient>
<linearGradient id="hb162"><stop offset=".003" stop-color="#0053ff"/><stop offset=".031" stop-color="#005bff"/><stop offset=".086" stop-color="#005dff"/><stop offset=".175" stop-color="#0050ff"/><stop offset=".229" stop-color="#0053ff"/><stop offset=".305" stop-color="#0038ff"/><stop offset=".366" stop-color="#0044ff"/><stop offset=".435" stop-color="#003bff"/><stop offset=".483" stop-color="#004dff"/><stop offset=".503" stop-color="#0050ff"/><stop offset=".565" stop-color="#003bff"/><stop offset=".634" stop-color="#0044ff"/><stop offset=".695" stop-color="#0035ff"/><stop offset=".771" stop-color="#004eff"/><stop offset=".832" stop-color="#003fff"/><stop offset=".901" stop-color="#0048ff"/><stop offset=".962" stop-color="#0033ff"/><stop offset=".997" stop-color="#003aff"/></linearGradient>
<linearGradient id="hb163"><stop offset=".003" stop-color="#0053ff"/><stop offset=".031" stop-color="#005bff"/><stop offset=".086" stop-color="#005dff"/><stop offset=".175" stop-color="#0050ff"/><stop offset=".229" stop-color="#0052ff"/><stop offset=".305" stop-color="#0037ff"/><stop offset=".366" stop-color="#0044ff"/><stop offset=".435" stop-color="#003aff"/><stop offset=".483" stop-color="#004dff"/><stop offset=".503" stop-color="#0050ff"/><stop offset=".565" stop-color="#003aff"/><stop offset=".634" stop-color="#0043ff"/><stop offset=".695" stop-color="#0034ff"/><stop offset=".771" stop-color="#004dff"/><stop offset=".832" stop-color="#003fff"/><stop offset=".901" stop-color="#0048ff"/><stop offset=".962" stop-color="#0032ff"/><stop offset=".997" stop-color="#0039ff"/></linearGradient>
<linearGradient id="hb164"><stop offset=".003" stop-color="#0053ff"/><stop offset=".031" stop-color="#005bff"/><stop offset=".086" stop-color="#005cff"/><stop offset=".175" stop-color="#0050ff"/><stop offset=".229" stop-color="#0052ff"/><stop offset=".305" stop-color="#0037ff"/><stop offset=".366" stop-color="#0043ff"/><stop offset=".435" stop-color="#003aff"/><stop offset=".483" stop-color="#004cff"/><stop offset=".503" stop-color="#004fff"/><stop offset=".565" stop-color="#003aff"/><stop offset=".634" stop-color="#0043ff"/><stop offset=".695" stop-color="#0033ff"/><stop offset=".771" stop-color="#004dff"/><stop offset=".832" stop-color="#003eff"/><stop offset=".901" stop-color="#0047ff"/><stop offset=".962" stop-color="#0031ff"/><stop offset=".997" stop-color="#0039ff"/></linearGradient>
<linearGradient id="hb165"><stop offset=".003" stop-color="#0053ff"/><stop offset=".031" stop-color="#005bff"/><stop offset=".086" stop-color="#005cff"/><stop offset=".175" stop-color="#0050ff"/><stop offset=".229" stop-color="#0052ff"/><stop offset=".305" stop-color="#0036ff"/><stop offset=".366" stop-color="#0043ff"/><stop offset=".435" stop-color="#0039ff"/><stop offset=".483" stop-color="#004cff"/><stop offset=".503" stop-color="#004fff"/><stop offset=".565" stop-color="#0039ff"/><stop offset=".634" stop-color="#0042ff"/><stop offset=".695" stop-color="#0033ff"/><stop offset=".771" stop-color="#004dff"/><stop offset=".832" stop-color="#003eff"/><stop offset=".901" stop-color="#0047ff"/><stop offset=".962" stop-color="#0031ff"/><stop offset=".997" stop-color="#0038ff"/></linearGradient>
<linearGradient id="hb166"><stop offset=".003" stop-color="#0053ff"/><stop offset=".031" stop-color="#005bff"/><stop offset=".086" stop-color="#005cff"/><stop offset=".175" stop-color="#004fff"/><stop offset=".229" stop-color="#0052ff"/><stop offset=".305" stop-color="#0036ff"/><stop offset=".366" stop-color="#0043ff"/><stop offset=".435" stop-color="#0039ff"/><stop offset=".483" stop-color="#004cff"/><stop offset=".503" stop-color="#004fff"/><stop offset=".565" stop-color="#0039ff"/><stop offset=".634" stop-color="#0042ff"/><stop offset=".695" stop-color="#0032ff"/><stop offset=".771" stop-color="#004cff"/><stop offset=".832" stop-color="#003dff"/><stop offset=".901" stop-color="#0047ff"/><stop offset=".962" stop-color="#0030ff"/><stop offset=".997" stop-color="#0038ff"/></linearGradient>
<linearGradient id="hb167"><stop offset=".003" stop-color="#0053ff"/><stop offset=".031" stop-color="#005bff"/><stop offset=".086" stop-color="#005cff"/><stop offset=".175" stop-color="#004fff"/><stop offset=".229" stop-color="#0052ff"/><stop offset=".305" stop-color="#0035ff"/><stop offset=".366" stop-color="#0043ff"/><stop offset=".435" stop-color="#0039ff"/><stop offset=".483" stop-color="#004cff"/><stop offset=".503" stop-color="#004fff"/><stop offset=".565" stop-color="#0038ff"/><stop offset=".634" stop-color="#0042ff"/><stop offset=".695" stop-color="#0032ff"/><stop offset=".771" stop-color="#004cff"/><stop offset=".832" stop-color="#003dff"/><stop offset=".901" stop-color="#0047ff"/><stop offset=".962" stop-color="#0030ff"/><stop offset=".997" stop-color="#0037ff"/></linearGradient>
<linearGradient id="hb168"><stop offset=".003" stop-color="#0053ff"/><stop offset=".031" stop-color="#005bff"/><stop offset=".086" stop-color="#005cff"/><stop offset=".175" stop-color="#004fff"/><stop offset=".229" stop-color="#0052ff"/><stop offset=".305" stop-color="#0035ff"/><stop offset=".366" stop-color="#0042ff"/><stop offset=".435" stop-color="#0038ff"/><stop offset=".483" stop-color="#004cff"/><stop offset=".503" stop-color="#004fff"/><stop offset=".565" stop-color="#0038ff"/><stop offset=".634" stop-color="#0041ff"/><stop offset=".695" stop-color="#0031ff"/><stop offset=".771" stop-color="#004cff"/><stop offset=".832" stop-color="#003dff"/><stop offset=".901" stop-color="#0047ff"/><stop offset=".962" stop-color="#0030ff"/><stop offset=".997" stop-color="#0037ff"/></linearGradient>
<linearGradient id="hb169"><stop offset=".003" stop-color="#0053ff"/><stop offset=".031" stop-color="#005bff"/><stop offset=".086" stop-color="#005cff"/><stop offset=".175" stop-color="#004fff"/><stop offset=".229" stop-color="#0052ff"/><stop offset=".305" stop-color="#0035ff"/><stop offset=".366" stop-color="#0042ff"/><stop offset=".435" stop-color="#0038ff"/><stop offset=".483" stop-color="#004bff"/><stop offset=".503" stop-color="#004fff"/><stop offset=".565" stop-color="#0038ff"/><stop offset=".634" stop-color="#0041ff"/><stop offset=".695" stop-color="#0031ff"/><stop offset=".716" stop-color="#0036ff"/><stop offset=".750" stop-color="#0047ff"/><stop offset=".771" stop-color="#004cff"/><stop offset=".832" stop-color="#003dff"/><stop offset=".901" stop-color="#0046ff"/><stop offset=".962" stop-color="#002fff"/><stop offset=".997" stop-color="#0037ff"/></linearGradient>
<linearGradient id="jet" x1="0" y1="1" x2="0" y2="0"><stop offset="0" stop-color="#000080"/><stop offset=".125" stop-color="#0000ff"/><stop offset=".375" stop-color="#00ffff"/><stop offset=".625" stop-color="#ffff00"/><stop offset=".875" stop-color="#ff0000"/><stop offset="1" stop-color="#800000"/></linearGradient>
</defs>
<g font-family='"Liberation Sans", sans-serif' fill="#1a1a1a">
<text x="-0.8" y="7.8" font-size="14.5" font-weight="bold" fill="#000">a</text>
<text x="-0.8" y="231.2" font-size="14.5" font-weight="bold" fill="#000">b</text>
<text x="232.2" y="7.9" font-size="14.5" font-weight="bold" fill="#000">c</text>
<text x="232.3" y="231.9" font-size="14.5" font-weight="bold" fill="#000">d</text>
<g transform="translate(34 13)" shape-rendering="crispEdges">
<rect y="0" width="146" height="1" fill="url(#ha0)"/>
<rect y="1" width="146" height="1" fill="url(#ha1)"/>
<rect y="2" width="146" height="1" fill="url(#ha2)"/>
<rect y="3" width="146" height="1" fill="url(#ha3)"/>
<rect y="4" width="146" height="1" fill="url(#ha4)"/>
<rect y="5" width="146" height="1" fill="url(#ha5)"/>
<rect y="6" width="146" height="1" fill="url(#ha6)"/>
<rect y="7" width="146" height="1" fill="url(#ha7)"/>
<rect y="8" width="146" height="1" fill="url(#ha8)"/>
<rect y="9" width="146" height="1" fill="url(#ha9)"/>
<rect y="10" width="146" height="1" fill="url(#ha10)"/>
<rect y="11" width="146" height="1" fill="url(#ha11)"/>
<rect y="12" width="146" height="1" fill="url(#ha12)"/>
<rect y="13" width="146" height="1" fill="url(#ha13)"/>
<rect y="14" width="146" height="1" fill="url(#ha14)"/>
<rect y="15" width="146" height="1" fill="url(#ha15)"/>
<rect y="16" width="146" height="1" fill="url(#ha16)"/>
<rect y="17" width="146" height="1" fill="url(#ha17)"/>
<rect y="18" width="146" height="1" fill="url(#ha18)"/>
<rect y="19" width="146" height="1" fill="url(#ha19)"/>
<rect y="20" width="146" height="1" fill="url(#ha20)"/>
<rect y="21" width="146" height="1" fill="url(#ha21)"/>
<rect y="22" width="146" height="1" fill="url(#ha22)"/>
<rect y="23" width="146" height="1" fill="url(#ha23)"/>
<rect y="24" width="146" height="1" fill="url(#ha24)"/>
<rect y="25" width="146" height="1" fill="url(#ha25)"/>
<rect y="26" width="146" height="1" fill="url(#ha26)"/>
<rect y="27" width="146" height="1" fill="url(#ha27)"/>
<rect y="28" width="146" height="1" fill="url(#ha28)"/>
<rect y="29" width="146" height="1" fill="url(#ha29)"/>
<rect y="30" width="146" height="1" fill="url(#ha30)"/>
<rect y="31" width="146" height="1" fill="url(#ha31)"/>
<rect y="32" width="146" height="1" fill="url(#ha32)"/>
<rect y="33" width="146" height="1" fill="url(#ha33)"/>
<rect y="34" width="146" height="1" fill="url(#ha34)"/>
<rect y="35" width="146" height="1" fill="url(#ha35)"/>
<rect y="36" width="146" height="1" fill="url(#ha36)"/>
<rect y="37" width="146" height="1" fill="url(#ha37)"/>
<rect y="38" width="146" height="1" fill="url(#ha38)"/>
<rect y="39" width="146" height="1" fill="url(#ha39)"/>
<rect y="40" width="146" height="1" fill="url(#ha40)"/>
<rect y="41" width="146" height="1" fill="url(#ha41)"/>
<rect y="42" width="146" height="1" fill="url(#ha42)"/>
<rect y="43" width="146" height="1" fill="url(#ha43)"/>
<rect y="44" width="146" height="1" fill="url(#ha44)"/>
<rect y="45" width="146" height="1" fill="url(#ha45)"/>
<rect y="46" width="146" height="1" fill="url(#ha46)"/>
<rect y="47" width="146" height="1" fill="url(#ha47)"/>
<rect y="48" width="146" height="1" fill="url(#ha48)"/>
<rect y="49" width="146" height="1" fill="url(#ha49)"/>
<rect y="50" width="146" height="1" fill="url(#ha50)"/>
<rect y="51" width="146" height="1" fill="url(#ha51)"/>
<rect y="52" width="146" height="1" fill="url(#ha52)"/>
<rect y="53" width="146" height="1" fill="url(#ha53)"/>
<rect y="54" width="146" height="1" fill="url(#ha54)"/>
<rect y="55" width="146" height="1" fill="url(#ha55)"/>
<rect y="56" width="146" height="1" fill="url(#ha56)"/>
<rect y="57" width="146" height="1" fill="url(#ha57)"/>
<rect y="58" width="146" height="1" fill="url(#ha58)"/>
<rect y="59" width="146" height="1" fill="url(#ha59)"/>
<rect y="60" width="146" height="1" fill="url(#ha60)"/>
<rect y="61" width="146" height="1" fill="url(#ha61)"/>
<rect y="62" width="146" height="1" fill="url(#ha62)"/>
<rect y="63" width="146" height="1" fill="url(#ha63)"/>
<rect y="64" width="146" height="1" fill="url(#ha64)"/>
<rect y="65" width="146" height="1" fill="url(#ha65)"/>
<rect y="66" width="146" height="1" fill="url(#ha66)"/>
<rect y="67" width="146" height="1" fill="url(#ha67)"/>
<rect y="68" width="146" height="1" fill="url(#ha68)"/>
<rect y="69" width="146" height="1" fill="url(#ha69)"/>
<rect y="70" width="146" height="1" fill="url(#ha70)"/>
<rect y="71" width="146" height="1" fill="url(#ha71)"/>
<rect y="72" width="146" height="1" fill="url(#ha72)"/>
<rect y="73" width="146" height="1" fill="url(#ha73)"/>
<rect y="74" width="146" height="1" fill="url(#ha74)"/>
<rect y="75" width="146" height="1" fill="url(#ha75)"/>
<rect y="76" width="146" height="1" fill="url(#ha76)"/>
<rect y="77" width="146" height="1" fill="url(#ha77)"/>
<rect y="78" width="146" height="1" fill="url(#ha78)"/>
<rect y="79" width="146" height="1" fill="url(#ha79)"/>
<rect y="80" width="146" height="1" fill="url(#ha80)"/>
<rect y="81" width="146" height="1" fill="url(#ha81)"/>
<rect y="82" width="146" height="1" fill="url(#ha82)"/>
<rect y="83" width="146" height="1" fill="url(#ha83)"/>
<rect y="84" width="146" height="1" fill="url(#ha84)"/>
<rect y="85" width="146" height="1" fill="url(#ha85)"/>
<rect y="86" width="146" height="1" fill="url(#ha86)"/>
<rect y="87" width="146" height="1" fill="url(#ha87)"/>
<rect y="88" width="146" height="1" fill="url(#ha88)"/>
<rect y="89" width="146" height="1" fill="url(#ha89)"/>
<rect y="90" width="146" height="1" fill="url(#ha90)"/>
<rect y="91" width="146" height="1" fill="url(#ha91)"/>
<rect y="92" width="146" height="1" fill="url(#ha92)"/>
<rect y="93" width="146" height="1" fill="url(#ha93)"/>
<rect y="94" width="146" height="1" fill="url(#ha94)"/>
<rect y="95" width="146" height="1" fill="url(#ha95)"/>
<rect y="96" width="146" height="1" fill="url(#ha96)"/>
<rect y="97" width="146" height="1" fill="url(#ha97)"/>
<rect y="98" width="146" height="1" fill="url(#ha98)"/>
<rect y="99" width="146" height="1" fill="url(#ha99)"/>
<rect y="100" width="146" height="1" fill="url(#ha100)"/>
<rect y="101" width="146" height="1" fill="url(#ha101)"/>
<rect y="102" width="146" height="1" fill="url(#ha102)"/>
<rect y="103" width="146" height="1" fill="url(#ha103)"/>
<rect y="104" width="146" height="1" fill="url(#ha104)"/>
<rect y="105" width="146" height="1" fill="url(#ha105)"/>
<rect y="106" width="146" height="1" fill="url(#ha106)"/>
<rect y="107" width="146" height="1" fill="url(#ha107)"/>
<rect y="108" width="146" height="1" fill="url(#ha108)"/>
<rect y="109" width="146" height="1" fill="url(#ha109)"/>
<rect y="110" width="146" height="1" fill="url(#ha110)"/>
<rect y="111" width="146" height="1" fill="url(#ha111)"/>
<rect y="112" width="146" height="1" fill="url(#ha112)"/>
<rect y="113" width="146" height="1" fill="url(#ha113)"/>
<rect y="114" width="146" height="1" fill="url(#ha114)"/>
<rect y="115" width="146" height="1" fill="url(#ha115)"/>
<rect y="116" width="146" height="1" fill="url(#ha116)"/>
<rect y="117" width="146" height="1" fill="url(#ha117)"/>
<rect y="118" width="146" height="1" fill="url(#ha118)"/>
<rect y="119" width="146" height="1" fill="url(#ha119)"/>
<rect y="120" width="146" height="1" fill="url(#ha120)"/>
<rect y="121" width="146" height="1" fill="url(#ha121)"/>
<rect y="122" width="146" height="1" fill="url(#ha122)"/>
<rect y="123" width="146" height="1" fill="url(#ha123)"/>
<rect y="124" width="146" height="1" fill="url(#ha124)"/>
<rect y="125" width="146" height="1" fill="url(#ha125)"/>
<rect y="126" width="146" height="1" fill="url(#ha126)"/>
<rect y="127" width="146" height="1" fill="url(#ha127)"/>
<rect y="128" width="146" height="1" fill="url(#ha128)"/>
<rect y="129" width="146" height="1" fill="url(#ha129)"/>
<rect y="130" width="146" height="1" fill="url(#ha130)"/>
<rect y="131" width="146" height="1" fill="url(#ha131)"/>
<rect y="132" width="146" height="1" fill="url(#ha132)"/>
<rect y="133" width="146" height="1" fill="url(#ha133)"/>
<rect y="134" width="146" height="1" fill="url(#ha134)"/>
<rect y="135" width="146" height="1" fill="url(#ha135)"/>
<rect y="136" width="146" height="1" fill="url(#ha136)"/>
<rect y="137" width="146" height="1" fill="url(#ha137)"/>
<rect y="138" width="146" height="1" fill="url(#ha138)"/>
<rect y="139" width="146" height="1" fill="url(#ha139)"/>
<rect y="140" width="146" height="1" fill="url(#ha140)"/>
<rect y="141" width="146" height="1" fill="url(#ha141)"/>
<rect y="142" width="146" height="1" fill="url(#ha142)"/>
<rect y="143" width="146" height="1" fill="url(#ha143)"/>
<rect y="144" width="146" height="1" fill="url(#ha144)"/>
<rect y="145" width="146" height="1" fill="url(#ha145)"/>
<rect y="146" width="146" height="1" fill="url(#ha146)"/>
<rect y="147" width="146" height="1" fill="url(#ha147)"/>
<rect y="148" width="146" height="1" fill="url(#ha148)"/>
<rect y="149" width="146" height="1" fill="url(#ha149)"/>
<rect y="150" width="146" height="1" fill="url(#ha150)"/>
<rect y="151" width="146" height="1" fill="url(#ha151)"/>
<rect y="152" width="146" height="1" fill="url(#ha152)"/>
<rect y="153" width="146" height="1" fill="url(#ha153)"/>
<rect y="154" width="146" height="1" fill="url(#ha154)"/>
<rect y="155" width="146" height="1" fill="url(#ha155)"/>
<rect y="156" width="146" height="1" fill="url(#ha156)"/>
<rect y="157" width="146" height="1" fill="url(#ha157)"/>
<rect y="158" width="146" height="1" fill="url(#ha158)"/>
<rect y="159" width="146" height="1" fill="url(#ha159)"/>
<rect y="160" width="146" height="1" fill="url(#ha160)"/>
<rect y="161" width="146" height="1" fill="url(#ha161)"/>
<rect y="162" width="146" height="1" fill="url(#ha162)"/>
<rect y="163" width="146" height="1" fill="url(#ha163)"/>
<rect y="164" width="146" height="1" fill="url(#ha164)"/>
<rect y="165" width="146" height="1" fill="url(#ha165)"/>
<rect y="166" width="146" height="1" fill="url(#ha166)"/>
<rect y="167" width="146" height="1" fill="url(#ha167)"/>
<rect y="168" width="146" height="1" fill="url(#ha168)"/>
</g>
<g transform="translate(34 236)" shape-rendering="crispEdges">
<rect y="0" width="146" height="1" fill="url(#hb0)"/>
<rect y="1" width="146" height="1" fill="url(#hb1)"/>
<rect y="2" width="146" height="1" fill="url(#hb2)"/>
<rect y="3" width="146" height="1" fill="url(#hb3)"/>
<rect y="4" width="146" height="1" fill="url(#hb4)"/>
<rect y="5" width="146" height="1" fill="url(#hb5)"/>
<rect y="6" width="146" height="1" fill="url(#hb6)"/>
<rect y="7" width="146" height="1" fill="url(#hb7)"/>
<rect y="8" width="146" height="1" fill="url(#hb8)"/>
<rect y="9" width="146" height="1" fill="url(#hb9)"/>
<rect y="10" width="146" height="1" fill="url(#hb10)"/>
<rect y="11" width="146" height="1" fill="url(#hb11)"/>
<rect y="12" width="146" height="1" fill="url(#hb12)"/>
<rect y="13" width="146" height="1" fill="url(#hb13)"/>
<rect y="14" width="146" height="1" fill="url(#hb14)"/>
<rect y="15" width="146" height="1" fill="url(#hb15)"/>
<rect y="16" width="146" height="1" fill="url(#hb16)"/>
<rect y="17" width="146" height="1" fill="url(#hb17)"/>
<rect y="18" width="146" height="1" fill="url(#hb18)"/>
<rect y="19" width="146" height="1" fill="url(#hb19)"/>
<rect y="20" width="146" height="1" fill="url(#hb20)"/>
<rect y="21" width="146" height="1" fill="url(#hb21)"/>
<rect y="22" width="146" height="1" fill="url(#hb22)"/>
<rect y="23" width="146" height="1" fill="url(#hb23)"/>
<rect y="24" width="146" height="1" fill="url(#hb24)"/>
<rect y="25" width="146" height="1" fill="url(#hb25)"/>
<rect y="26" width="146" height="1" fill="url(#hb26)"/>
<rect y="27" width="146" height="1" fill="url(#hb27)"/>
<rect y="28" width="146" height="1" fill="url(#hb28)"/>
<rect y="29" width="146" height="1" fill="url(#hb29)"/>
<rect y="30" width="146" height="1" fill="url(#hb30)"/>
<rect y="31" width="146" height="1" fill="url(#hb31)"/>
<rect y="32" width="146" height="1" fill="url(#hb32)"/>
<rect y="33" width="146" height="1" fill="url(#hb33)"/>
<rect y="34" width="146" height="1" fill="url(#hb34)"/>
<rect y="35" width="146" height="1" fill="url(#hb35)"/>
<rect y="36" width="146" height="1" fill="url(#hb36)"/>
<rect y="37" width="146" height="1" fill="url(#hb37)"/>
<rect y="38" width="146" height="1" fill="url(#hb38)"/>
<rect y="39" width="146" height="1" fill="url(#hb39)"/>
<rect y="40" width="146" height="1" fill="url(#hb40)"/>
<rect y="41" width="146" height="1" fill="url(#hb41)"/>
<rect y="42" width="146" height="1" fill="url(#hb42)"/>
<rect y="43" width="146" height="1" fill="url(#hb43)"/>
<rect y="44" width="146" height="1" fill="url(#hb44)"/>
<rect y="45" width="146" height="1" fill="url(#hb45)"/>
<rect y="46" width="146" height="1" fill="url(#hb46)"/>
<rect y="47" width="146" height="1" fill="url(#hb47)"/>
<rect y="48" width="146" height="1" fill="url(#hb48)"/>
<rect y="49" width="146" height="1" fill="url(#hb49)"/>
<rect y="50" width="146" height="1" fill="url(#hb50)"/>
<rect y="51" width="146" height="1" fill="url(#hb51)"/>
<rect y="52" width="146" height="1" fill="url(#hb52)"/>
<rect y="53" width="146" height="1" fill="url(#hb53)"/>
<rect y="54" width="146" height="1" fill="url(#hb54)"/>
<rect y="55" width="146" height="1" fill="url(#hb55)"/>
<rect y="56" width="146" height="1" fill="url(#hb56)"/>
<rect y="57" width="146" height="1" fill="url(#hb57)"/>
<rect y="58" width="146" height="1" fill="url(#hb58)"/>
<rect y="59" width="146" height="1" fill="url(#hb59)"/>
<rect y="60" width="146" height="1" fill="url(#hb60)"/>
<rect y="61" width="146" height="1" fill="url(#hb61)"/>
<rect y="62" width="146" height="1" fill="url(#hb62)"/>
<rect y="63" width="146" height="1" fill="url(#hb63)"/>
<rect y="64" width="146" height="1" fill="url(#hb64)"/>
<rect y="65" width="146" height="1" fill="url(#hb65)"/>
<rect y="66" width="146" height="1" fill="url(#hb66)"/>
<rect y="67" width="146" height="1" fill="url(#hb67)"/>
<rect y="68" width="146" height="1" fill="url(#hb68)"/>
<rect y="69" width="146" height="1" fill="url(#hb69)"/>
<rect y="70" width="146" height="1" fill="url(#hb70)"/>
<rect y="71" width="146" height="1" fill="url(#hb71)"/>
<rect y="72" width="146" height="1" fill="url(#hb72)"/>
<rect y="73" width="146" height="1" fill="url(#hb73)"/>
<rect y="74" width="146" height="1" fill="url(#hb74)"/>
<rect y="75" width="146" height="1" fill="url(#hb75)"/>
<rect y="76" width="146" height="1" fill="url(#hb76)"/>
<rect y="77" width="146" height="1" fill="url(#hb77)"/>
<rect y="78" width="146" height="1" fill="url(#hb78)"/>
<rect y="79" width="146" height="1" fill="url(#hb79)"/>
<rect y="80" width="146" height="1" fill="url(#hb80)"/>
<rect y="81" width="146" height="1" fill="url(#hb81)"/>
<rect y="82" width="146" height="1" fill="url(#hb82)"/>
<rect y="83" width="146" height="1" fill="url(#hb83)"/>
<rect y="84" width="146" height="1" fill="url(#hb84)"/>
<rect y="85" width="146" height="1" fill="url(#hb85)"/>
<rect y="86" width="146" height="1" fill="url(#hb86)"/>
<rect y="87" width="146" height="1" fill="url(#hb87)"/>
<rect y="88" width="146" height="1" fill="url(#hb88)"/>
<rect y="89" width="146" height="1" fill="url(#hb89)"/>
<rect y="90" width="146" height="1" fill="url(#hb90)"/>
<rect y="91" width="146" height="1" fill="url(#hb91)"/>
<rect y="92" width="146" height="1" fill="url(#hb92)"/>
<rect y="93" width="146" height="1" fill="url(#hb93)"/>
<rect y="94" width="146" height="1" fill="url(#hb94)"/>
<rect y="95" width="146" height="1" fill="url(#hb95)"/>
<rect y="96" width="146" height="1" fill="url(#hb96)"/>
<rect y="97" width="146" height="1" fill="url(#hb97)"/>
<rect y="98" width="146" height="1" fill="url(#hb98)"/>
<rect y="99" width="146" height="1" fill="url(#hb99)"/>
<rect y="100" width="146" height="1" fill="url(#hb100)"/>
<rect y="101" width="146" height="1" fill="url(#hb101)"/>
<rect y="102" width="146" height="1" fill="url(#hb102)"/>
<rect y="103" width="146" height="1" fill="url(#hb103)"/>
<rect y="104" width="146" height="1" fill="url(#hb104)"/>
<rect y="105" width="146" height="1" fill="url(#hb105)"/>
<rect y="106" width="146" height="1" fill="url(#hb106)"/>
<rect y="107" width="146" height="1" fill="url(#hb107)"/>
<rect y="108" width="146" height="1" fill="url(#hb108)"/>
<rect y="109" width="146" height="1" fill="url(#hb109)"/>
<rect y="110" width="146" height="1" fill="url(#hb110)"/>
<rect y="111" width="146" height="1" fill="url(#hb111)"/>
<rect y="112" width="146" height="1" fill="url(#hb112)"/>
<rect y="113" width="146" height="1" fill="url(#hb113)"/>
<rect y="114" width="146" height="1" fill="url(#hb114)"/>
<rect y="115" width="146" height="1" fill="url(#hb115)"/>
<rect y="116" width="146" height="1" fill="url(#hb116)"/>
<rect y="117" width="146" height="1" fill="url(#hb117)"/>
<rect y="118" width="146" height="1" fill="url(#hb118)"/>
<rect y="119" width="146" height="1" fill="url(#hb119)"/>
<rect y="120" width="146" height="1" fill="url(#hb120)"/>
<rect y="121" width="146" height="1" fill="url(#hb121)"/>
<rect y="122" width="146" height="1" fill="url(#hb122)"/>
<rect y="123" width="146" height="1" fill="url(#hb123)"/>
<rect y="124" width="146" height="1" fill="url(#hb124)"/>
<rect y="125" width="146" height="1" fill="url(#hb125)"/>
<rect y="126" width="146" height="1" fill="url(#hb126)"/>
<rect y="127" width="146" height="1" fill="url(#hb127)"/>
<rect y="128" width="146" height="1" fill="url(#hb128)"/>
<rect y="129" width="146" height="1" fill="url(#hb129)"/>
<rect y="130" width="146" height="1" fill="url(#hb130)"/>
<rect y="131" width="146" height="1" fill="url(#hb131)"/>
<rect y="132" width="146" height="1" fill="url(#hb132)"/>
<rect y="133" width="146" height="1" fill="url(#hb133)"/>
<rect y="134" width="146" height="1" fill="url(#hb134)"/>
<rect y="135" width="146" height="1" fill="url(#hb135)"/>
<rect y="136" width="146" height="1" fill="url(#hb136)"/>
<rect y="137" width="146" height="1" fill="url(#hb137)"/>
<rect y="138" width="146" height="1" fill="url(#hb138)"/>
<rect y="139" width="146" height="1" fill="url(#hb139)"/>
<rect y="140" width="146" height="1" fill="url(#hb140)"/>
<rect y="141" width="146" height="1" fill="url(#hb141)"/>
<rect y="142" width="146" height="1" fill="url(#hb142)"/>
<rect y="143" width="146" height="1" fill="url(#hb143)"/>
<rect y="144" width="146" height="1" fill="url(#hb144)"/>
<rect y="145" width="146" height="1" fill="url(#hb145)"/>
<rect y="146" width="146" height="1" fill="url(#hb146)"/>
<rect y="147" width="146" height="1" fill="url(#hb147)"/>
<rect y="148" width="146" height="1" fill="url(#hb148)"/>
<rect y="149" width="146" height="1" fill="url(#hb149)"/>
<rect y="150" width="146" height="1" fill="url(#hb150)"/>
<rect y="151" width="146" height="1" fill="url(#hb151)"/>
<rect y="152" width="146" height="1" fill="url(#hb152)"/>
<rect y="153" width="146" height="1" fill="url(#hb153)"/>
<rect y="154" width="146" height="1" fill="url(#hb154)"/>
<rect y="155" width="146" height="1" fill="url(#hb155)"/>
<rect y="156" width="146" height="1" fill="url(#hb156)"/>
<rect y="157" width="146" height="1" fill="url(#hb157)"/>
<rect y="158" width="146" height="1" fill="url(#hb158)"/>
<rect y="159" width="146" height="1" fill="url(#hb159)"/>
<rect y="160" width="146" height="1" fill="url(#hb160)"/>
<rect y="161" width="146" height="1" fill="url(#hb161)"/>
<rect y="162" width="146" height="1" fill="url(#hb162)"/>
<rect y="163" width="146" height="1" fill="url(#hb163)"/>
<rect y="164" width="146" height="1" fill="url(#hb164)"/>
<rect y="165" width="146" height="1" fill="url(#hb165)"/>
<rect y="166" width="146" height="1" fill="url(#hb166)"/>
<rect y="167" width="146" height="1" fill="url(#hb167)"/>
<rect y="168" width="146" height="1" fill="url(#hb168)"/>
<rect y="169" width="146" height="1" fill="url(#hb169)"/>
</g>
<line x1="73.5" y1="13" x2="73.5" y2="182" stroke="#000" stroke-opacity="0.42" stroke-width="0.75" stroke-dasharray="1 1"/>
<line x1="99" y1="13" x2="99" y2="182" stroke="#000" stroke-opacity="0.42" stroke-width="0.75" stroke-dasharray="1 1"/>
<line x1="34" y1="72" x2="180" y2="72" stroke="#000" stroke-opacity="0.42" stroke-width="0.75" stroke-dasharray="1 1"/>
<line x1="34" y1="133.4" x2="180" y2="133.4" stroke="#000" stroke-opacity="0.42" stroke-width="0.75" stroke-dasharray="1 1"/>
<line x1="34" y1="48.6" x2="36.5" y2="48.6" stroke="#000" stroke-opacity="0.5" stroke-width="0.8"/>
<line x1="177.5" y1="48.6" x2="180" y2="48.6" stroke="#000" stroke-opacity="0.5" stroke-width="0.8"/>
<line x1="34" y1="84.4" x2="36.5" y2="84.4" stroke="#000" stroke-opacity="0.5" stroke-width="0.8"/>
<line x1="177.5" y1="84.4" x2="180" y2="84.4" stroke="#000" stroke-opacity="0.5" stroke-width="0.8"/>
<line x1="34" y1="120.3" x2="36.5" y2="120.3" stroke="#000" stroke-opacity="0.5" stroke-width="0.8"/>
<line x1="177.5" y1="120.3" x2="180" y2="120.3" stroke="#000" stroke-opacity="0.5" stroke-width="0.8"/>
<line x1="34" y1="156.4" x2="36.5" y2="156.4" stroke="#000" stroke-opacity="0.5" stroke-width="0.8"/>
<line x1="177.5" y1="156.4" x2="180" y2="156.4" stroke="#000" stroke-opacity="0.5" stroke-width="0.8"/>
<line x1="82.7" y1="13" x2="82.7" y2="15.5" stroke="#000" stroke-opacity="0.5" stroke-width="0.8"/>
<line x1="82.7" y1="179.5" x2="82.7" y2="182" stroke="#000" stroke-opacity="0.5" stroke-width="0.8"/>
<line x1="131.3" y1="13" x2="131.3" y2="15.5" stroke="#000" stroke-opacity="0.5" stroke-width="0.8"/>
<line x1="131.3" y1="179.5" x2="131.3" y2="182" stroke="#000" stroke-opacity="0.5" stroke-width="0.8"/>
<text x="169.3" y="64.8" font-size="10" text-anchor="start" fill="#111">B</text>
<text x="168.3" y="129.8" font-size="10" text-anchor="start" fill="#111">A</text>
<text x="30.6" y="17.1" font-size="10" text-anchor="end">2.2</text>
<text x="30.6" y="52.9" font-size="10" text-anchor="end">2.1</text>
<text x="30.6" y="88.7" font-size="10" text-anchor="end">2</text>
<text x="30.6" y="124.6" font-size="10" text-anchor="end">1.9</text>
<text x="30.6" y="160.7" font-size="10" text-anchor="end">1.8</text>
<text x="34.3" y="193.6" font-size="10" text-anchor="middle">–100</text>
<text x="82.6" y="193.6" font-size="10" text-anchor="middle">0</text>
<text x="131.5" y="193.6" font-size="10" text-anchor="middle">100</text>
<text x="179.6" y="193.6" font-size="10" text-anchor="middle">200</text>
<text x="98.5" y="210.3" font-size="9.5" fill="#333">τ</text><text x="106.3" y="209.5" font-size="10" text-anchor="start">(fs)</text>
<text transform="translate(8.2 96.5) rotate(-90)" font-size="10" text-anchor="middle"><tspan font-style="italic">E</tspan><tspan font-size="7" dy="2.2">probe</tspan><tspan dy="-2.2"> (eV)</tspan></text>
<line x1="74" y1="236.2" x2="74" y2="405.2" stroke="#000" stroke-opacity="0.42" stroke-width="0.75" stroke-dasharray="1 1"/>
<line x1="118.7" y1="236.2" x2="118.7" y2="405.2" stroke="#000" stroke-opacity="0.42" stroke-width="0.75" stroke-dasharray="1 1"/>
<line x1="34" y1="297.5" x2="180" y2="297.5" stroke="#000" stroke-opacity="0.42" stroke-width="0.75" stroke-dasharray="1 1"/>
<line x1="34" y1="357" x2="180" y2="357" stroke="#000" stroke-opacity="0.42" stroke-width="0.75" stroke-dasharray="1 1"/>
<line x1="34" y1="272.3" x2="36.5" y2="272.3" stroke="#000" stroke-opacity="0.5" stroke-width="0.8"/>
<line x1="177.5" y1="272.3" x2="180" y2="272.3" stroke="#000" stroke-opacity="0.5" stroke-width="0.8"/>
<line x1="34" y1="307.9" x2="36.5" y2="307.9" stroke="#000" stroke-opacity="0.5" stroke-width="0.8"/>
<line x1="177.5" y1="307.9" x2="180" y2="307.9" stroke="#000" stroke-opacity="0.5" stroke-width="0.8"/>
<line x1="34" y1="343.5" x2="36.5" y2="343.5" stroke="#000" stroke-opacity="0.5" stroke-width="0.8"/>
<line x1="177.5" y1="343.5" x2="180" y2="343.5" stroke="#000" stroke-opacity="0.5" stroke-width="0.8"/>
<line x1="34" y1="379.1" x2="36.5" y2="379.1" stroke="#000" stroke-opacity="0.5" stroke-width="0.8"/>
<line x1="177.5" y1="379.1" x2="180" y2="379.1" stroke="#000" stroke-opacity="0.5" stroke-width="0.8"/>
<line x1="82.7" y1="236.2" x2="82.7" y2="238.7" stroke="#000" stroke-opacity="0.5" stroke-width="0.8"/>
<line x1="82.7" y1="402.7" x2="82.7" y2="405.2" stroke="#000" stroke-opacity="0.5" stroke-width="0.8"/>
<line x1="131.3" y1="236.2" x2="131.3" y2="238.7" stroke="#000" stroke-opacity="0.5" stroke-width="0.8"/>
<line x1="131.3" y1="402.7" x2="131.3" y2="405.2" stroke="#000" stroke-opacity="0.5" stroke-width="0.8"/>
<text x="168" y="290.2" font-size="10" text-anchor="start" fill="#111">B</text>
<text x="169" y="351.8" font-size="10" text-anchor="start" fill="#111">A</text>
<text x="30.6" y="241" font-size="10" text-anchor="end">2.2</text>
<text x="30.6" y="276.6" font-size="10" text-anchor="end">2.1</text>
<text x="30.6" y="312.2" font-size="10" text-anchor="end">2</text>
<text x="30.6" y="347.8" font-size="10" text-anchor="end">1.9</text>
<text x="30.6" y="383.4" font-size="10" text-anchor="end">1.8</text>
<text x="34.3" y="416.8" font-size="10" text-anchor="middle">–100</text>
<text x="82.6" y="416.8" font-size="10" text-anchor="middle">0</text>
<text x="131.5" y="416.8" font-size="10" text-anchor="middle">100</text>
<text x="179.6" y="416.8" font-size="10" text-anchor="middle">200</text>
<text x="107.2" y="433.7" font-size="9.5" fill="#333">τ</text><text x="115" y="432.9" font-size="10" text-anchor="start">(fs)</text>
<text transform="translate(8.2 320.3) rotate(-90)" font-size="10" text-anchor="middle"><tspan font-style="italic">E</tspan><tspan font-size="7" dy="2.2">probe</tspan><tspan dy="-2.2"> (eV)</tspan></text>
<rect x="192.3" y="13" width="9.9" height="169" fill="url(#jet)"/>
<line x1="199.7" y1="20.6" x2="202.2" y2="20.6" stroke="#000" stroke-opacity="0.45" stroke-width="0.8"/>
<line x1="199.7" y1="51.3" x2="202.2" y2="51.3" stroke="#000" stroke-opacity="0.45" stroke-width="0.8"/>
<line x1="199.7" y1="82.3" x2="202.2" y2="82.3" stroke="#000" stroke-opacity="0.45" stroke-width="0.8"/>
<line x1="199.7" y1="113.6" x2="202.2" y2="113.6" stroke="#000" stroke-opacity="0.45" stroke-width="0.8"/>
<line x1="199.7" y1="144.6" x2="202.2" y2="144.6" stroke="#000" stroke-opacity="0.45" stroke-width="0.8"/>
<line x1="199.7" y1="175.6" x2="202.2" y2="175.6" stroke="#000" stroke-opacity="0.45" stroke-width="0.8"/>
<text x="205.6" y="36.8" font-size="8.3" text-anchor="start">0.8</text>
<text x="205.6" y="64.6" font-size="8.3" text-anchor="start">0.6</text>
<text x="205.6" y="93" font-size="8.3" text-anchor="start">0.4</text>
<text x="205.6" y="122.4" font-size="8.3" text-anchor="start">0.2</text>
<text x="205.6" y="150.1" font-size="8.3" text-anchor="start">0</text>
<text x="205.6" y="178.6" font-size="8.3" text-anchor="start">–0.2</text>
<text x="178" y="8.2" font-size="9.7">Δ<tspan font-style="italic">R</tspan>/<tspan font-style="italic">R</tspan>(%)</text>
<rect x="192.3" y="237" width="9.9" height="168.8" fill="url(#jet)"/>
<line x1="199.7" y1="262.6" x2="202.2" y2="262.6" stroke="#000" stroke-opacity="0.45" stroke-width="0.8"/>
<line x1="199.7" y1="288.1" x2="202.2" y2="288.1" stroke="#000" stroke-opacity="0.45" stroke-width="0.8"/>
<line x1="199.7" y1="313.6" x2="202.2" y2="313.6" stroke="#000" stroke-opacity="0.45" stroke-width="0.8"/>
<line x1="199.7" y1="339.6" x2="202.2" y2="339.6" stroke="#000" stroke-opacity="0.45" stroke-width="0.8"/>
<line x1="199.7" y1="365.8" x2="202.2" y2="365.8" stroke="#000" stroke-opacity="0.45" stroke-width="0.8"/>
<line x1="199.7" y1="392" x2="202.2" y2="392" stroke="#000" stroke-opacity="0.45" stroke-width="0.8"/>
<text x="205.6" y="241.5" font-size="8.3" text-anchor="start">1</text>
<text x="205.6" y="267.3" font-size="8.3" text-anchor="start">0.8</text>
<text x="205.6" y="292.8" font-size="8.3" text-anchor="start">0.6</text>
<text x="205.6" y="318" font-size="8.3" text-anchor="start">0.4</text>
<text x="205.6" y="344" font-size="8.3" text-anchor="start">0.2</text>
<text x="205.6" y="370" font-size="8.3" text-anchor="start">0</text>
<text x="205.6" y="396.2" font-size="8.3" text-anchor="start">–0.2</text>
<text x="178" y="228.9" font-size="9.7">Δ<tspan font-style="italic">R</tspan>/<tspan font-style="italic">R</tspan>(%)</text>
<line x1="266.9" y1="13.8" x2="446.1" y2="13.8" stroke="#ececec" stroke-width="1"/>
<line x1="446.1" y1="13.8" x2="446.1" y2="181.4" stroke="#ececec" stroke-width="1"/>
<line x1="266.9" y1="181.4" x2="446.1" y2="181.4" stroke="#d8d8d8" stroke-width="1"/>
<line x1="266.9" y1="13.8" x2="266.9" y2="181.4" stroke="#d8d8d8" stroke-width="1"/>
<line x1="326.6" y1="181.4" x2="326.6" y2="179.2" stroke="#999" stroke-width="0.7"/>
<line x1="326.6" y1="13.8" x2="326.6" y2="16" stroke="#999" stroke-width="0.7"/>
<line x1="386.4" y1="181.4" x2="386.4" y2="179.2" stroke="#999" stroke-width="0.7"/>
<line x1="386.4" y1="13.8" x2="386.4" y2="16" stroke="#999" stroke-width="0.7"/>
<line x1="266.9" y1="27.6" x2="269.1" y2="27.6" stroke="#999" stroke-width="0.7"/>
<line x1="446.1" y1="27.6" x2="443.9" y2="27.6" stroke="#999" stroke-width="0.7"/>
<line x1="266.9" y1="55.6" x2="269.1" y2="55.6" stroke="#999" stroke-width="0.7"/>
<line x1="446.1" y1="55.6" x2="443.9" y2="55.6" stroke="#999" stroke-width="0.7"/>
<line x1="266.9" y1="83.7" x2="269.1" y2="83.7" stroke="#999" stroke-width="0.7"/>
<line x1="446.1" y1="83.7" x2="443.9" y2="83.7" stroke="#999" stroke-width="0.7"/>
<line x1="266.9" y1="111.7" x2="269.1" y2="111.7" stroke="#999" stroke-width="0.7"/>
<line x1="446.1" y1="111.7" x2="443.9" y2="111.7" stroke="#999" stroke-width="0.7"/>
<line x1="266.9" y1="139.7" x2="269.1" y2="139.7" stroke="#999" stroke-width="0.7"/>
<line x1="446.1" y1="139.7" x2="443.9" y2="139.7" stroke="#999" stroke-width="0.7"/>
<line x1="266.9" y1="167.7" x2="269.1" y2="167.7" stroke="#999" stroke-width="0.7"/>
<line x1="446.1" y1="167.7" x2="443.9" y2="167.7" stroke="#999" stroke-width="0.7"/>
<path d="M267 167C268.33 166.92 272.33 166.58 275 166.5C277.67 166.42 280.5 166.75 283 166.5C285.5 166.25 287.67 165.72 290 165C292.33 164.28 294.78 163.4 297 162.2C299.22 161 301.52 159.57 303.3 157.8C305.08 156.03 306.23 154.12 307.7 151.6C309.17 149.08 310.78 146.23 312.1 142.7C313.42 139.17 314.42 135.4 315.6 130.4C316.78 125.4 318.05 118.6 319.2 112.7C320.35 106.8 321.55 100.43 322.5 95C323.45 89.57 324.07 84.87 324.9 80.1C325.73 75.33 326.63 71.27 327.5 66.4C328.37 61.53 329.1 55.77 330.1 50.9C331.1 46.03 332.37 40.63 333.5 37.2C334.63 33.77 335.62 31.97 336.9 30.3C338.18 28.63 339.77 27.2 341.2 27.2C342.63 27.2 344.35 29.07 345.5 30.3C346.65 31.53 346.57 31.82 348.1 34.6C349.63 37.38 352.08 43.25 354.7 47C357.32 50.75 361.2 55.12 363.8 57.1C366.4 59.08 367.55 57.77 370.3 58.9C373.05 60.03 377.4 63.07 380.3 63.9C383.2 64.73 385.25 63.2 387.7 63.9C390.15 64.6 391.33 66.33 395 68.1C398.67 69.87 405.12 72.97 409.7 74.5C414.28 76.03 418.83 76.68 422.5 77.3C426.17 77.92 427.88 77.45 431.7 78.2C435.52 78.95 443.12 81.2 445.4 81.8" fill="none" stroke="#D95319" stroke-width="1.4" stroke-linejoin="round"/>
<path d="M267 168C268.33 167.83 272.33 167.08 275 167C277.67 166.92 280.5 167.67 283 167.5C285.5 167.33 287.67 166.75 290 166C292.33 165.25 294.75 164.33 297 163C299.25 161.67 301.67 159.83 303.5 158C305.33 156.17 306.5 154.5 308 152C309.5 149.5 311.17 146.5 312.5 143C313.83 139.5 314.75 136 316 131C317.25 126 318.87 118.17 320 113C321.13 107.83 321.53 105.5 322.8 100C324.07 94.5 326.23 85.17 327.6 80C328.97 74.83 329.97 72.33 331 69C332.03 65.67 332.92 62.42 333.8 60C334.68 57.58 335.5 56.17 336.3 54.5C337.1 52.83 337.78 51.45 338.6 50C339.42 48.55 340.18 47.5 341.2 45.8C342.22 44.1 343.55 41.67 344.7 39.8C345.85 37.93 346.43 36.4 348.1 34.6C349.77 32.8 352.38 30.2 354.7 29C357.02 27.8 359.25 27.4 362 27.4C364.75 27.4 367.83 27.87 371.2 29C374.57 30.13 378.23 32.88 382.2 34.2C386.17 35.52 391.03 35.83 395 36.9C398.97 37.97 401.42 39.22 406 40.6C410.58 41.98 415.93 43.52 422.5 45.2C429.07 46.88 441.58 49.78 445.4 50.7" fill="none" stroke="#ECBA3A" stroke-width="1.4" stroke-linejoin="round"/>
<path d="M267 167C268.33 166.83 272.33 166 275 166C277.67 166 280.5 167 283 167C285.5 167 287.67 166.67 290 166C292.33 165.33 294.65 164.37 297 163C299.35 161.63 302.17 159.7 304.1 157.8C306.03 155.9 307.12 154.12 308.6 151.6C310.08 149.08 311.53 146.23 313 142.7C314.47 139.17 316.07 135.4 317.4 130.4C318.73 125.4 319.87 117.77 321 112.7C322.13 107.63 322.63 105.45 324.2 100C325.77 94.55 328.72 85 330.4 80C332.08 75 332.93 73.33 334.3 70C335.67 66.67 337.3 63.33 338.6 60C339.9 56.67 340.83 53 342.1 50C343.37 47 344.88 44.28 346.2 42C347.52 39.72 348.28 38.22 350 36.3C351.72 34.38 354.2 31.92 356.5 30.5C358.8 29.08 361.05 27.8 363.8 27.8C366.55 27.8 369.93 29.75 373 30.5C376.07 31.25 379.15 32.15 382.2 32.3C385.25 32.45 388.25 31.08 391.3 31.4C394.35 31.72 396.22 32.52 400.5 34.2C404.78 35.88 411.8 39.82 417 41.5C422.2 43.18 426.97 43.53 431.7 44.3C436.43 45.07 443.12 45.8 445.4 46.1" fill="none" stroke="#2E9A2E" stroke-width="1.4" stroke-linejoin="round"/>
<path d="M267 167C268.33 167.03 272.33 167.07 275 167.2C277.67 167.33 280.25 167.53 283 167.8C285.75 168.07 288.87 169.1 291.5 168.8C294.13 168.5 296.38 167.18 298.8 166C301.22 164.82 304.13 163.62 306 161.7C307.87 159.78 308.53 157.67 310 154.5C311.47 151.33 313.27 146.72 314.8 142.7C316.33 138.68 317.88 135.4 319.2 130.4C320.52 125.4 321.63 117.77 322.7 112.7C323.77 107.63 324.02 105.45 325.6 100C327.18 94.55 330.42 85 332.2 80C333.98 75 334.88 73.33 336.3 70C337.72 66.67 339.28 63.33 340.7 60C342.12 56.67 343.5 52.83 344.8 50C346.1 47.17 346.25 46.4 348.5 43C350.75 39.6 355.43 32.13 358.3 29.6C361.17 27.07 362.95 27.95 365.7 27.8C368.45 27.65 372.37 28.77 374.8 28.7C377.23 28.63 377.55 27.25 380.3 27.4C383.05 27.55 387.93 28.67 391.3 29.6C394.67 30.53 398.22 32.05 400.5 33C402.78 33.95 403.58 35.1 405 35.3C406.42 35.5 407.58 34.37 409 34.2C410.42 34.03 412 33.83 413.5 34.3C415 34.77 416.42 36.35 418 37C419.58 37.65 421.33 37.87 423 38.2C424.67 38.53 426.33 38.53 428 39C429.67 39.47 431 40.07 433 41C435 41.93 437.93 43.72 440 44.6C442.07 45.48 444.5 46.02 445.4 46.3" fill="none" stroke="#2BC8D0" stroke-width="1.4" stroke-linejoin="round"/>
<path d="M267 166.5C268.33 166.42 272.33 166.08 275 166C277.67 165.92 280.5 166.33 283 166C285.5 165.67 287.65 164.63 290 164C292.35 163.37 294.75 163.08 297.1 162.2C299.45 161.32 302.03 159.88 304.1 158.7C306.17 157.52 307.72 156.88 309.5 155.1C311.28 153.32 312.88 150.95 314.8 148C316.72 145.05 318.95 141.52 321 137.4C323.05 133.28 325.2 128.02 327.1 123.3C329 118.58 331.17 112.98 332.4 109.1C333.63 105.22 333.12 104.85 334.5 100C335.88 95.15 338.75 86.67 340.7 80C342.65 73.33 344.82 64.67 346.2 60C347.58 55.33 348.12 54.5 349 52C349.88 49.5 350.55 47.67 351.5 45C352.45 42.33 353.25 38.72 354.7 36C356.15 33.28 358.07 30.13 360.2 28.7C362.33 27.27 364.75 27.4 367.5 27.4C370.25 27.4 373.95 27.57 376.7 28.7C379.45 29.83 380.95 32.83 384 34.2C387.05 35.57 392.25 35.83 395 36.9C397.75 37.97 398.05 38.92 400.5 40.6C402.95 42.28 407.25 46.38 409.7 47C412.15 47.62 413.07 44 415.2 44.3C417.33 44.6 420.37 48.35 422.5 48.8C424.63 49.25 425.55 45.92 428 47C430.45 48.08 434.3 54.23 437.2 55.3C440.1 56.37 444.03 53.72 445.4 53.4" fill="none" stroke="#2F7FCF" stroke-width="1.4" stroke-linejoin="round"/>
<text x="263" y="31.2" font-size="10" text-anchor="end">1</text>
<text x="263" y="67" font-size="10" text-anchor="end">0.8</text>
<text x="263" y="89" font-size="10" text-anchor="end">0.6</text>
<text x="263" y="115.1" font-size="10" text-anchor="end">0.4</text>
<text x="263" y="137.4" font-size="10" text-anchor="end">0.2</text>
<text x="263" y="172.2" font-size="10" text-anchor="end">0</text>
<text x="267.2" y="193.4" font-size="10" text-anchor="middle">–100</text>
<text x="326.6" y="193.4" font-size="10" text-anchor="middle">0</text>
<text x="386.4" y="193.4" font-size="10" text-anchor="middle">100</text>
<text x="446.2" y="193.4" font-size="10" text-anchor="middle">200</text>
<text x="348.4" y="209.4" font-size="9.5" fill="#333">τ</text><text x="356.2" y="208.6" font-size="10" text-anchor="start">(fs)</text>
<text x="274.8" y="29.9" font-size="8.7" text-anchor="start">A exciton</text>
<text transform="translate(242.3 96.8) rotate(-90)" font-size="10" text-anchor="middle">Δ<tspan font-style="italic">R</tspan>/<tspan font-style="italic">R</tspan> (norm.)</text>
<line x1="498.5" y1="12.3" x2="677.4" y2="12.3" stroke="#d0d0d0" stroke-width="1"/>
<line x1="677.4" y1="12.3" x2="677.4" y2="180.9" stroke="#d0d0d0" stroke-width="1"/>
<line x1="498.5" y1="180.9" x2="677.4" y2="180.9" stroke="#bdbdbd" stroke-width="1"/>
<line x1="498.5" y1="12.3" x2="498.5" y2="180.9" stroke="#bdbdbd" stroke-width="1"/>
<line x1="558.4" y1="180.9" x2="558.4" y2="178.7" stroke="#999" stroke-width="0.7"/>
<line x1="558.4" y1="12.3" x2="558.4" y2="14.5" stroke="#999" stroke-width="0.7"/>
<line x1="617.8" y1="180.9" x2="617.8" y2="178.7" stroke="#999" stroke-width="0.7"/>
<line x1="617.8" y1="12.3" x2="617.8" y2="14.5" stroke="#999" stroke-width="0.7"/>
<line x1="498.5" y1="26.4" x2="500.7" y2="26.4" stroke="#999" stroke-width="0.7"/>
<line x1="677.4" y1="26.4" x2="675.2" y2="26.4" stroke="#999" stroke-width="0.7"/>
<line x1="498.5" y1="54.6" x2="500.7" y2="54.6" stroke="#999" stroke-width="0.7"/>
<line x1="677.4" y1="54.6" x2="675.2" y2="54.6" stroke="#999" stroke-width="0.7"/>
<line x1="498.5" y1="82.8" x2="500.7" y2="82.8" stroke="#999" stroke-width="0.7"/>
<line x1="677.4" y1="82.8" x2="675.2" y2="82.8" stroke="#999" stroke-width="0.7"/>
<line x1="498.5" y1="111" x2="500.7" y2="111" stroke="#999" stroke-width="0.7"/>
<line x1="677.4" y1="111" x2="675.2" y2="111" stroke="#999" stroke-width="0.7"/>
<line x1="498.5" y1="139.2" x2="500.7" y2="139.2" stroke="#999" stroke-width="0.7"/>
<line x1="677.4" y1="139.2" x2="675.2" y2="139.2" stroke="#999" stroke-width="0.7"/>
<line x1="498.5" y1="167.4" x2="500.7" y2="167.4" stroke="#999" stroke-width="0.7"/>
<line x1="677.4" y1="167.4" x2="675.2" y2="167.4" stroke="#999" stroke-width="0.7"/>
<path d="M498.5 165.5C500.42 165.42 507.08 165.08 510 165C512.92 164.92 514 164.75 516 165C518 165.25 520 166 522 166.5C524 167 526.5 167.77 528 168C529.5 168.23 529.58 167.3 531 167.9C532.42 168.5 534.82 171.6 536.5 171.6C538.18 171.6 539.72 170.67 541.1 167.9C542.48 165.13 543.73 160.2 544.8 155C545.87 149.8 546.65 142.82 547.5 136.7C548.35 130.58 549.03 124.42 549.9 118.3C550.77 112.18 551.9 105.68 552.7 100C553.5 94.32 553.77 89.88 554.7 84.2C555.63 78.52 556.77 72.02 558.3 65.9C559.83 59.78 561.9 52.7 563.9 47.5C565.9 42.3 568.28 37.87 570.3 34.7C572.32 31.53 574.05 29.95 576 28.5C577.95 27.05 579.73 26.02 582 26C584.27 25.98 586.98 27.45 589.6 28.4C592.22 29.35 595.02 30.08 597.7 31.7C600.38 33.32 603.03 36.63 605.7 38.1C608.37 39.57 611.3 39.43 613.7 40.5C616.1 41.57 617.97 42.9 620.1 44.5C622.23 46.1 623.82 48.23 626.5 50.1C629.18 51.97 632.45 53.82 636.2 55.7C639.95 57.58 644.98 59.78 649 61.4C653.02 63.02 656.82 64.33 660.3 65.4C663.78 66.47 667.1 67.13 669.9 67.8C672.7 68.47 675.9 69.13 677.1 69.4" fill="none" stroke="#D95319" stroke-width="1.4" stroke-linejoin="round"/>
<path d="M498.5 166.5C500.42 166.5 506.42 166.5 510 166.5C513.58 166.5 516.5 166.27 520 166.5C523.5 166.73 528.17 167.98 531 167.9C533.83 167.82 535.17 167.22 537 166C538.83 164.78 540.55 163.35 542 160.6C543.45 157.85 544.47 154.1 545.7 149.5C546.93 144.9 548.18 138.5 549.4 133C550.62 127.5 551.93 122 553 116.5C554.07 111 554.83 105.42 555.8 100C556.77 94.58 557.85 88.67 558.8 84C559.75 79.33 560.55 75.63 561.5 72C562.45 68.37 562.85 66.52 564.5 62.2C566.15 57.88 569.1 50.7 571.4 46.1C573.7 41.5 576 37.65 578.3 34.6C580.6 31.55 583.3 29.25 585.2 27.8C587.1 26.35 588.17 25.93 589.7 25.9C591.23 25.87 592.27 26.23 594.4 27.6C596.53 28.97 599.55 32.35 602.5 34.1C605.45 35.85 609.17 37.03 612.1 38.1C615.03 39.17 617.42 39.7 620.1 40.5C622.78 41.3 625.25 41.57 628.2 42.9C631.15 44.23 634.33 46.77 637.8 48.5C641.27 50.23 645.25 52.1 649 53.3C652.75 54.5 657.08 55.23 660.3 55.7C663.52 56.17 665.5 55.57 668.3 56.1C671.1 56.63 675.63 58.43 677.1 58.9" fill="none" stroke="#ECBA3A" stroke-width="1.4" stroke-linejoin="round"/>
<path d="M498.5 166C499.25 165.92 501.58 165.75 503 165.5C504.42 165.25 505.5 164.5 507 164.5C508.5 164.5 510.17 165.25 512 165.5C513.83 165.75 516.17 166.12 518 166C519.83 165.88 521.5 165.22 523 164.8C524.5 164.38 525.67 163.63 527 163.5C528.33 163.37 529.72 164.18 531 164C532.28 163.82 533.17 163.58 534.7 162.4C536.23 161.22 538.52 159.2 540.2 156.9C541.88 154.6 543.27 152.27 544.8 148.6C546.33 144.93 547.72 139.95 549.4 134.9C551.08 129.85 552.92 124.12 554.9 118.3C556.88 112.48 559.57 105.68 561.3 100C563.03 94.32 563.95 89.88 565.3 84.2C566.65 78.52 567.35 72.02 569.4 65.9C571.45 59.78 575.17 52.7 577.6 47.5C580.03 42.3 582.17 37.62 584 34.7C585.83 31.78 587.22 31.38 588.6 30C589.98 28.62 591.07 26.53 592.3 26.4C593.53 26.27 594.7 27.92 596 29.2C597.3 30.48 597.95 33.97 600.1 34.1C602.25 34.23 606.1 30.4 608.9 30C611.7 29.6 614.5 31.7 616.9 31.7C619.3 31.7 620.88 29.47 623.3 30C625.72 30.53 629.25 33.95 631.4 34.9C633.55 35.85 634.33 34.37 636.2 35.7C638.07 37.03 640.47 41.75 642.6 42.9C644.73 44.05 646.87 43.13 649 42.6C651.13 42.07 653.25 39.12 655.4 39.7C657.55 40.28 659.48 44.37 661.9 46.1C664.32 47.83 667.37 50.1 669.9 50.1C672.43 50.1 675.9 46.77 677.1 46.1" fill="none" stroke="#2E9A2E" stroke-width="1.4" stroke-linejoin="round"/>
<path d="M498.5 166.5C500.42 166.58 506.42 166.92 510 167C513.58 167.08 516.67 166.83 520 167C523.33 167.17 527.25 167.7 530 168C532.75 168.3 534.35 170.35 536.5 168.8C538.65 167.25 540.75 162.83 542.9 158.7C545.05 154.57 547.25 149.2 549.4 144C551.55 138.8 553.52 134.83 555.8 127.5C558.08 120.17 561.2 107.22 563.1 100C565 92.78 565.85 89.88 567.2 84.2C568.55 78.52 569.17 72.02 571.2 65.9C573.23 59.78 576.95 52.7 579.4 47.5C581.85 42.3 584.13 37.37 585.9 34.7C587.67 32.03 588.17 32.57 590 31.5C591.83 30.43 594.55 28.82 596.9 28.3C599.25 27.78 601.57 28.52 604.1 28.4C606.63 28.28 609.17 27.47 612.1 27.6C615.03 27.73 618.48 28.8 621.7 29.2C624.92 29.6 628.45 30.13 631.4 30C634.35 29.87 636.73 27.45 639.4 28.4C642.07 29.35 645 34.35 647.4 35.7C649.8 37.05 651.38 35.7 653.8 36.5C656.22 37.3 659.7 39.08 661.9 40.5C664.1 41.92 665.4 43.27 667 45C668.6 46.73 669.82 50.72 671.5 50.9C673.18 51.08 676.17 46.9 677.1 46.1" fill="none" stroke="#2BC8D0" stroke-width="1.4" stroke-linejoin="round"/>
<path d="M498.5 166.5C500.42 166.5 506.42 166.5 510 166.5C513.58 166.5 516.5 166.73 520 166.5C523.5 166.27 527.95 165.63 531 165.1C534.05 164.57 536 164.37 538.3 163.3C540.6 162.23 542.65 161.3 544.8 158.7C546.95 156.1 549.07 152.28 551.2 147.7C553.33 143.12 555.62 136.7 557.6 131.2C559.58 125.7 561.72 119.9 563.1 114.7C564.48 109.5 564.98 104.12 565.9 100C566.82 95.88 567.55 94.17 568.6 90C569.65 85.83 570.58 80.25 572.2 75C573.82 69.75 576.13 62.93 578.3 58.5C580.47 54.07 582.92 51.62 585.2 48.4C587.48 45.18 589.87 41.93 592 39.2C594.13 36.47 596.25 33.8 598 32C599.75 30.2 600.68 29.4 602.5 28.4C604.32 27.4 607.03 26.13 608.9 26C610.77 25.87 612.1 27.47 613.7 27.6C615.3 27.73 616.63 26.53 618.5 26.8C620.37 27.07 622.48 27.98 624.9 29.2C627.32 30.42 630.58 33.55 633 34.1C635.42 34.65 637.27 31.7 639.4 32.5C641.53 33.3 643.4 37.57 645.8 38.9C648.2 40.23 650.85 39.7 653.8 40.5C656.75 41.3 660.55 43.17 663.5 43.7C666.45 44.23 669.23 43.43 671.5 43.7C673.77 43.97 676.17 45.03 677.1 45.3" fill="none" stroke="#2F7FCF" stroke-width="1.4" stroke-linejoin="round"/>
<text x="494.3" y="30.7" font-size="10" text-anchor="end">1</text>
<text x="494.3" y="58.4" font-size="10" text-anchor="end">0.8</text>
<text x="494.3" y="86.9" font-size="10" text-anchor="end">0.6</text>
<text x="494.3" y="115.3" font-size="10" text-anchor="end">0.4</text>
<text x="494.3" y="142.9" font-size="10" text-anchor="end">0.2</text>
<text x="494.3" y="171" font-size="10" text-anchor="end">0</text>
<text x="499" y="193.4" font-size="10" text-anchor="middle">–100</text>
<text x="555.5" y="193.4" font-size="10" text-anchor="middle">0</text>
<text x="615.3" y="193.4" font-size="10" text-anchor="middle">100</text>
<text x="668.2" y="193.2" font-size="10" text-anchor="start">200</text>
<text x="569.5" y="210.3" font-size="9.5" fill="#333">τ</text><text x="577.3" y="209.5" font-size="10" text-anchor="start">(fs)</text>
<text x="507.8" y="38.5" font-size="8.7" text-anchor="start">B exciton</text>
<text transform="translate(472.6 104.1) rotate(-90)" font-size="10" text-anchor="middle">Δ<tspan font-style="italic">R</tspan>/<tspan font-style="italic">R</tspan> (norm.)</text>
<line x1="598.8" y1="114.3" x2="615.7" y2="114.3" stroke="#D95319" stroke-width="1.6"/>
<text x="618.6" y="117.2" font-size="8.3"><tspan font-style="italic">E</tspan><tspan font-size="6.2" dy="2">pump</tspan><tspan dy="-2">=2.29 eV</tspan></text>
<line x1="598.8" y1="127.9" x2="615.7" y2="127.9" stroke="#ECBA3A" stroke-width="1.6"/>
<text x="618.6" y="130.8" font-size="8.3"><tspan font-style="italic">E</tspan><tspan font-size="6.2" dy="2">pump</tspan><tspan dy="-2">=2.43 eV</tspan></text>
<line x1="598.8" y1="141.6" x2="615.7" y2="141.6" stroke="#2E9A2E" stroke-width="1.6"/>
<text x="618.6" y="144.5" font-size="8.3"><tspan font-style="italic">E</tspan><tspan font-size="6.2" dy="2">pump</tspan><tspan dy="-2">=2.53 eV</tspan></text>
<line x1="598.8" y1="155.1" x2="615.7" y2="155.1" stroke="#2BC8D0" stroke-width="1.6"/>
<text x="618.6" y="158" font-size="8.3"><tspan font-style="italic">E</tspan><tspan font-size="6.2" dy="2">pump</tspan><tspan dy="-2">=2.63 eV</tspan></text>
<line x1="598.8" y1="168.8" x2="615.7" y2="168.8" stroke="#2F7FCF" stroke-width="1.6"/>
<text x="618.6" y="171.7" font-size="8.3"><tspan font-style="italic">E</tspan><tspan font-size="6.2" dy="2">pump</tspan><tspan dy="-2">=2.75 eV</tspan></text>
<line x1="266.7" y1="236.7" x2="446.4" y2="236.7" stroke="#e0e0e0" stroke-width="1"/>
<line x1="446.4" y1="236.7" x2="446.4" y2="405.3" stroke="#e0e0e0" stroke-width="1"/>
<line x1="266.7" y1="405.3" x2="446.4" y2="405.3" stroke="#d0d0d0" stroke-width="1"/>
<line x1="266.7" y1="236.7" x2="266.7" y2="405.3" stroke="#d0d0d0" stroke-width="1"/>
<line x1="318.1" y1="405.3" x2="318.1" y2="403.1" stroke="#aaa" stroke-width="0.7"/>
<line x1="318.1" y1="236.7" x2="318.1" y2="238.9" stroke="#aaa" stroke-width="0.7"/>
<line x1="369.6" y1="405.3" x2="369.6" y2="403.1" stroke="#aaa" stroke-width="0.7"/>
<line x1="369.6" y1="236.7" x2="369.6" y2="238.9" stroke="#aaa" stroke-width="0.7"/>
<line x1="421" y1="405.3" x2="421" y2="403.1" stroke="#aaa" stroke-width="0.7"/>
<line x1="421" y1="236.7" x2="421" y2="238.9" stroke="#aaa" stroke-width="0.7"/>
<line x1="266.7" y1="257.8" x2="268.9" y2="257.8" stroke="#aaa" stroke-width="0.7"/>
<line x1="446.4" y1="257.8" x2="444.2" y2="257.8" stroke="#aaa" stroke-width="0.7"/>
<line x1="266.7" y1="278.9" x2="268.9" y2="278.9" stroke="#aaa" stroke-width="0.7"/>
<line x1="446.4" y1="278.9" x2="444.2" y2="278.9" stroke="#aaa" stroke-width="0.7"/>
<line x1="266.7" y1="299.9" x2="268.9" y2="299.9" stroke="#aaa" stroke-width="0.7"/>
<line x1="446.4" y1="299.9" x2="444.2" y2="299.9" stroke="#aaa" stroke-width="0.7"/>
<line x1="266.7" y1="321" x2="268.9" y2="321" stroke="#aaa" stroke-width="0.7"/>
<line x1="446.4" y1="321" x2="444.2" y2="321" stroke="#aaa" stroke-width="0.7"/>
<line x1="266.7" y1="342.1" x2="268.9" y2="342.1" stroke="#aaa" stroke-width="0.7"/>
<line x1="446.4" y1="342.1" x2="444.2" y2="342.1" stroke="#aaa" stroke-width="0.7"/>
<line x1="266.7" y1="363.2" x2="268.9" y2="363.2" stroke="#aaa" stroke-width="0.7"/>
<line x1="446.4" y1="363.2" x2="444.2" y2="363.2" stroke="#aaa" stroke-width="0.7"/>
<line x1="266.7" y1="384.2" x2="268.9" y2="384.2" stroke="#aaa" stroke-width="0.7"/>
<line x1="446.4" y1="384.2" x2="444.2" y2="384.2" stroke="#aaa" stroke-width="0.7"/>
<line x1="281.8" y1="365.2" x2="300.2" y2="365.2" stroke="#e89a9f" stroke-width="1.6"/>
<line x1="281.8" y1="363.4" x2="281.8" y2="367" stroke="#d64a55" stroke-width="1.4"/>
<line x1="300.2" y1="363.4" x2="300.2" y2="367" stroke="#d64a55" stroke-width="1.4"/>
<line x1="291.2" y1="330.3" x2="291.2" y2="399" stroke="#d64a55" stroke-width="1"/>
<line x1="289" y1="330.3" x2="293.4" y2="330.3" stroke="#d64a55" stroke-width="1"/>
<line x1="289" y1="399" x2="293.4" y2="399" stroke="#d64a55" stroke-width="1"/>
<circle cx="291.2" cy="365.2" r="1.9" fill="#b4000f"/>
<line x1="307.3" y1="310.9" x2="343.6" y2="310.9" stroke="#e89a9f" stroke-width="1.6"/>
<line x1="307.3" y1="309.1" x2="307.3" y2="312.7" stroke="#d64a55" stroke-width="1.4"/>
<line x1="343.6" y1="309.1" x2="343.6" y2="312.7" stroke="#d64a55" stroke-width="1.4"/>
<line x1="325.5" y1="299.3" x2="325.5" y2="322.4" stroke="#d64a55" stroke-width="1"/>
<line x1="323.3" y1="299.3" x2="327.7" y2="299.3" stroke="#d64a55" stroke-width="1"/>
<line x1="323.3" y1="322.4" x2="327.7" y2="322.4" stroke="#d64a55" stroke-width="1"/>
<circle cx="325.5" cy="310.9" r="1.9" fill="#b4000f"/>
<line x1="336.9" y1="289.3" x2="365.6" y2="289.3" stroke="#e89a9f" stroke-width="1.6"/>
<line x1="336.9" y1="287.5" x2="336.9" y2="291.1" stroke="#d64a55" stroke-width="1.4"/>
<line x1="365.6" y1="287.5" x2="365.6" y2="291.1" stroke="#d64a55" stroke-width="1.4"/>
<line x1="351.1" y1="265.2" x2="351.1" y2="313.9" stroke="#d64a55" stroke-width="1"/>
<line x1="348.9" y1="265.2" x2="353.3" y2="265.2" stroke="#d64a55" stroke-width="1"/>
<line x1="348.9" y1="313.9" x2="353.3" y2="313.9" stroke="#d64a55" stroke-width="1"/>
<circle cx="351.1" cy="289.3" r="1.9" fill="#b4000f"/>
<line x1="362.1" y1="285.9" x2="395.9" y2="285.9" stroke="#e89a9f" stroke-width="1.6"/>
<line x1="362.1" y1="284.1" x2="362.1" y2="287.7" stroke="#d64a55" stroke-width="1.4"/>
<line x1="395.9" y1="284.1" x2="395.9" y2="287.7" stroke="#d64a55" stroke-width="1.4"/>
<line x1="378.9" y1="260.7" x2="378.9" y2="311.6" stroke="#d64a55" stroke-width="1"/>
<line x1="376.7" y1="260.7" x2="381.1" y2="260.7" stroke="#d64a55" stroke-width="1"/>
<line x1="376.7" y1="311.6" x2="381.1" y2="311.6" stroke="#d64a55" stroke-width="1"/>
<circle cx="378.9" cy="285.9" r="1.9" fill="#b4000f"/>
<line x1="390.8" y1="276.3" x2="427.5" y2="276.3" stroke="#e89a9f" stroke-width="1.6"/>
<line x1="390.8" y1="274.5" x2="390.8" y2="278.1" stroke="#d64a55" stroke-width="1.4"/>
<line x1="427.5" y1="274.5" x2="427.5" y2="278.1" stroke="#d64a55" stroke-width="1.4"/>
<line x1="408.9" y1="242.8" x2="408.9" y2="310" stroke="#d64a55" stroke-width="1"/>
<line x1="406.7" y1="242.8" x2="411.1" y2="242.8" stroke="#d64a55" stroke-width="1"/>
<line x1="406.7" y1="310" x2="411.1" y2="310" stroke="#d64a55" stroke-width="1"/>
<circle cx="408.9" cy="276.3" r="1.9" fill="#b4000f"/>
<circle cx="389.4" cy="394.4" r="1.9" fill="#b4000f"/>
<text x="394.4" y="397.3" font-size="8.5" text-anchor="start">A exciton</text>
<text x="261.8" y="241.3" font-size="10" text-anchor="end">40</text>
<text x="261.8" y="262.3" font-size="10" text-anchor="end">35</text>
<text x="261.8" y="283.1" font-size="10" text-anchor="end">30</text>
<text x="261.8" y="303.9" font-size="10" text-anchor="end">25</text>
<text x="261.8" y="324.9" font-size="10" text-anchor="end">20</text>
<text x="261.8" y="345.8" font-size="10" text-anchor="end">15</text>
<text x="261.8" y="366.6" font-size="10" text-anchor="end">10</text>
<text x="261.8" y="387.8" font-size="10" text-anchor="end">5</text>
<text x="261.8" y="408.4" font-size="10" text-anchor="end">0</text>
<text x="267.5" y="417.4" font-size="10" text-anchor="middle">2.2</text>
<text x="318.1" y="417.4" font-size="10" text-anchor="middle">2.4</text>
<text x="368.9" y="417.4" font-size="10" text-anchor="middle">2.6</text>
<text x="420.1" y="417.4" font-size="10" text-anchor="middle">2.8</text>
<text x="335.0" y="431.4" font-size="9.8"><tspan font-style="italic">E</tspan><tspan font-size="7" dy="2.2">pump</tspan><tspan dy="-2.2">(eV)</tspan></text>
<text transform="translate(242 327.7) rotate(-90)" font-size="9.6" text-anchor="middle"><tspan font-size="7.5" fill="#444">τ</tspan><tspan font-size="6.8" dy="2">rise</tspan><tspan dy="-2"> (fs)</tspan></text>
<line x1="498.6" y1="236.4" x2="678.1" y2="236.4" stroke="#dcdcdc" stroke-width="1"/>
<line x1="678.1" y1="236.4" x2="678.1" y2="405.2" stroke="#dcdcdc" stroke-width="1"/>
<line x1="498.6" y1="405.2" x2="678.1" y2="405.2" stroke="#c8c8c8" stroke-width="1"/>
<line x1="498.6" y1="236.4" x2="498.6" y2="405.2" stroke="#c8c8c8" stroke-width="1"/>
<line x1="549.9" y1="405.2" x2="549.9" y2="403" stroke="#aaa" stroke-width="0.7"/>
<line x1="549.9" y1="236.4" x2="549.9" y2="238.6" stroke="#aaa" stroke-width="0.7"/>
<line x1="601.3" y1="405.2" x2="601.3" y2="403" stroke="#aaa" stroke-width="0.7"/>
<line x1="601.3" y1="236.4" x2="601.3" y2="238.6" stroke="#aaa" stroke-width="0.7"/>
<line x1="652.9" y1="405.2" x2="652.9" y2="403" stroke="#aaa" stroke-width="0.7"/>
<line x1="652.9" y1="236.4" x2="652.9" y2="238.6" stroke="#aaa" stroke-width="0.7"/>
<line x1="498.6" y1="257.4" x2="500.8" y2="257.4" stroke="#aaa" stroke-width="0.7"/>
<line x1="678.1" y1="257.4" x2="675.9" y2="257.4" stroke="#aaa" stroke-width="0.7"/>
<line x1="498.6" y1="278.5" x2="500.8" y2="278.5" stroke="#aaa" stroke-width="0.7"/>
<line x1="678.1" y1="278.5" x2="675.9" y2="278.5" stroke="#aaa" stroke-width="0.7"/>
<line x1="498.6" y1="299.6" x2="500.8" y2="299.6" stroke="#aaa" stroke-width="0.7"/>
<line x1="678.1" y1="299.6" x2="675.9" y2="299.6" stroke="#aaa" stroke-width="0.7"/>
<line x1="498.6" y1="320.7" x2="500.8" y2="320.7" stroke="#aaa" stroke-width="0.7"/>
<line x1="678.1" y1="320.7" x2="675.9" y2="320.7" stroke="#aaa" stroke-width="0.7"/>
<line x1="498.6" y1="341.8" x2="500.8" y2="341.8" stroke="#aaa" stroke-width="0.7"/>
<line x1="678.1" y1="341.8" x2="675.9" y2="341.8" stroke="#aaa" stroke-width="0.7"/>
<line x1="498.6" y1="362.9" x2="500.8" y2="362.9" stroke="#aaa" stroke-width="0.7"/>
<line x1="678.1" y1="362.9" x2="675.9" y2="362.9" stroke="#aaa" stroke-width="0.7"/>
<line x1="498.6" y1="384" x2="500.8" y2="384" stroke="#aaa" stroke-width="0.7"/>
<line x1="678.1" y1="384" x2="675.9" y2="384" stroke="#aaa" stroke-width="0.7"/>
<line x1="513.8" y1="350.9" x2="532.1" y2="350.9" stroke="#9d9df0" stroke-width="1.6"/>
<line x1="513.8" y1="349.1" x2="513.8" y2="352.7" stroke="#6464e8" stroke-width="1.4"/>
<line x1="532.1" y1="349.1" x2="532.1" y2="352.7" stroke="#6464e8" stroke-width="1.4"/>
<line x1="522.9" y1="337.2" x2="522.9" y2="364.2" stroke="#6464e8" stroke-width="1"/>
<line x1="520.7" y1="337.2" x2="525.1" y2="337.2" stroke="#6464e8" stroke-width="1"/>
<line x1="520.7" y1="364.2" x2="525.1" y2="364.2" stroke="#6464e8" stroke-width="1"/>
<circle cx="522.9" cy="350.9" r="1.9" fill="#0000c8"/>
<line x1="539.4" y1="318.8" x2="575.2" y2="318.8" stroke="#9d9df0" stroke-width="1.6"/>
<line x1="539.4" y1="317" x2="539.4" y2="320.6" stroke="#6464e8" stroke-width="1.4"/>
<line x1="575.2" y1="317" x2="575.2" y2="320.6" stroke="#6464e8" stroke-width="1.4"/>
<line x1="557.3" y1="307.3" x2="557.3" y2="330.3" stroke="#6464e8" stroke-width="1"/>
<line x1="555.1" y1="307.3" x2="559.5" y2="307.3" stroke="#6464e8" stroke-width="1"/>
<line x1="555.1" y1="330.3" x2="559.5" y2="330.3" stroke="#6464e8" stroke-width="1"/>
<circle cx="557.3" cy="318.8" r="1.9" fill="#0000c8"/>
<line x1="568.7" y1="309.8" x2="597.4" y2="309.8" stroke="#9d9df0" stroke-width="1.6"/>
<line x1="568.7" y1="308" x2="568.7" y2="311.6" stroke="#6464e8" stroke-width="1.4"/>
<line x1="597.4" y1="308" x2="597.4" y2="311.6" stroke="#6464e8" stroke-width="1.4"/>
<line x1="582.9" y1="295.4" x2="582.9" y2="324.7" stroke="#6464e8" stroke-width="1"/>
<line x1="580.7" y1="295.4" x2="585.1" y2="295.4" stroke="#6464e8" stroke-width="1"/>
<line x1="580.7" y1="324.7" x2="585.1" y2="324.7" stroke="#6464e8" stroke-width="1"/>
<circle cx="582.9" cy="309.8" r="1.9" fill="#0000c8"/>
<line x1="594.4" y1="290.8" x2="627.2" y2="290.8" stroke="#9d9df0" stroke-width="1.6"/>
<line x1="594.4" y1="289" x2="594.4" y2="292.6" stroke="#6464e8" stroke-width="1.4"/>
<line x1="627.2" y1="289" x2="627.2" y2="292.6" stroke="#6464e8" stroke-width="1.4"/>
<line x1="610.9" y1="270.8" x2="610.9" y2="310.3" stroke="#6464e8" stroke-width="1"/>
<line x1="608.7" y1="270.8" x2="613.1" y2="270.8" stroke="#6464e8" stroke-width="1"/>
<line x1="608.7" y1="310.3" x2="613.1" y2="310.3" stroke="#6464e8" stroke-width="1"/>
<circle cx="610.9" cy="290.8" r="1.9" fill="#0000c8"/>
<line x1="622.6" y1="260.5" x2="658.6" y2="260.5" stroke="#9d9df0" stroke-width="1.6"/>
<line x1="622.6" y1="258.7" x2="622.6" y2="262.3" stroke="#6464e8" stroke-width="1.4"/>
<line x1="658.6" y1="258.7" x2="658.6" y2="262.3" stroke="#6464e8" stroke-width="1.4"/>
<line x1="640.7" y1="240.3" x2="640.7" y2="281.1" stroke="#6464e8" stroke-width="1"/>
<line x1="638.5" y1="240.3" x2="642.9" y2="240.3" stroke="#6464e8" stroke-width="1"/>
<line x1="638.5" y1="281.1" x2="642.9" y2="281.1" stroke="#6464e8" stroke-width="1"/>
<circle cx="640.7" cy="260.5" r="1.9" fill="#0000c8"/>
<circle cx="620.7" cy="394.5" r="1.9" fill="#0000c8"/>
<text x="627.7" y="397.4" font-size="8.5" text-anchor="start">B exciton</text>
<text x="494.2" y="242.4" font-size="10" text-anchor="end">40</text>
<text x="494.2" y="262.7" font-size="10" text-anchor="end">35</text>
<text x="494.2" y="283.2" font-size="10" text-anchor="end">30</text>
<text x="494.2" y="304.2" font-size="10" text-anchor="end">25</text>
<text x="494.2" y="325.2" font-size="10" text-anchor="end">20</text>
<text x="494.2" y="346" font-size="10" text-anchor="end">15</text>
<text x="494.2" y="366.7" font-size="10" text-anchor="end">10</text>
<text x="494.2" y="387.6" font-size="10" text-anchor="end">5</text>
<text x="494.2" y="408.1" font-size="10" text-anchor="end">0</text>
<text x="498.6" y="417.1" font-size="10" text-anchor="middle">2.2</text>
<text x="549.7" y="417.1" font-size="10" text-anchor="middle">2.4</text>
<text x="600.6" y="417.1" font-size="10" text-anchor="middle">2.6</text>
<text x="651.5" y="417.1" font-size="10" text-anchor="middle">2.8</text>
<text x="565.0" y="431.0" font-size="9.8"><tspan font-style="italic">E</tspan><tspan font-size="7" dy="2.2">pump</tspan><tspan dy="-2.2"> (eV)</tspan></text>
<text transform="translate(474.8 328.2) rotate(-90)" font-size="9.6" text-anchor="middle"><tspan font-size="7.5" fill="#444">τ</tspan><tspan font-size="6.8" dy="2">rise</tspan><tspan dy="-2"> (fs)</tspan></text>
</g>
</svg>
</body></html>
